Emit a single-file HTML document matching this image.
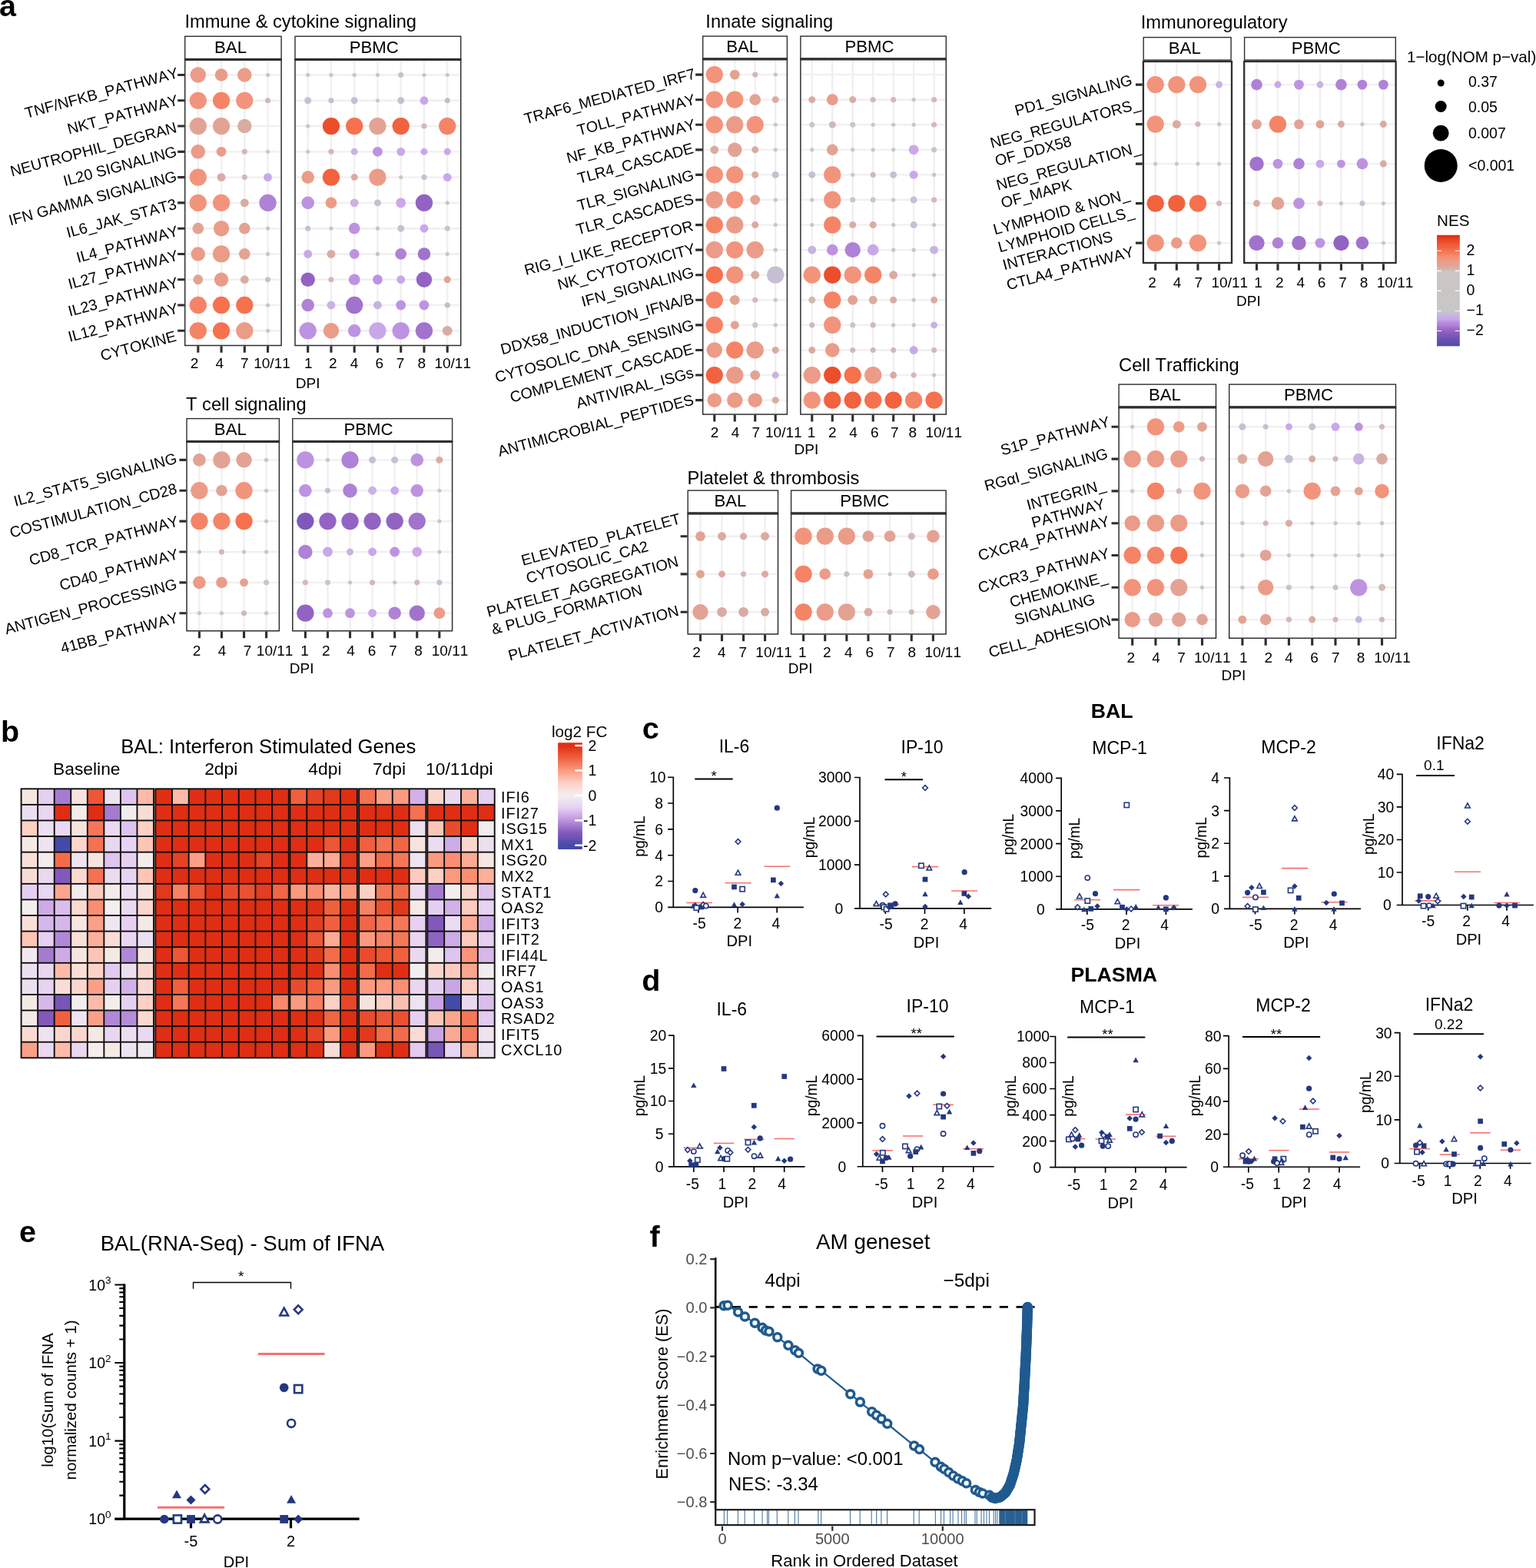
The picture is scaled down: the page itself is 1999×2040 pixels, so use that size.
<!DOCTYPE html>
<html lang="en"><head><meta charset="utf-8"><title>Figure</title>
<style>html,body{margin:0;padding:0;background:#fff}svg{display:block}text{font-family:'Liberation Sans', Arial, Helvetica, sans-serif;font-kerning:none;font-variant-ligatures:none}</style></head><body>
<svg xmlns="http://www.w3.org/2000/svg" width="1999" height="2040" viewBox="0 0 1999 2040">
<defs><linearGradient id="nesg" x1="0" y1="0" x2="0" y2="1"><stop offset="0" stop-color="#dd2e11"/><stop offset="0.02" stop-color="#e13718"/><stop offset="0.03" stop-color="#e54020"/><stop offset="0.05" stop-color="#e94927"/><stop offset="0.07" stop-color="#ed512f"/><stop offset="0.08" stop-color="#f05936"/><stop offset="0.1" stop-color="#f1603d"/><stop offset="0.12" stop-color="#f36744"/><stop offset="0.13" stop-color="#f56d4a"/><stop offset="0.15" stop-color="#f67553"/><stop offset="0.17" stop-color="#f67e5f"/><stop offset="0.18" stop-color="#f5876a"/><stop offset="0.2" stop-color="#f48f74"/><stop offset="0.22" stop-color="#f1957c"/><stop offset="0.23" stop-color="#ee9a85"/><stop offset="0.25" stop-color="#e89f8c"/><stop offset="0.27" stop-color="#e3a393"/><stop offset="0.28" stop-color="#dda89c"/><stop offset="0.3" stop-color="#d6b0a7"/><stop offset="0.32" stop-color="#cebfbb"/><stop offset="0.33" stop-color="#cbc5c3"/><stop offset="0.35" stop-color="#cbc5c3"/><stop offset="0.37" stop-color="#cbc5c4"/><stop offset="0.38" stop-color="#cac6c4"/><stop offset="0.4" stop-color="#cac6c4"/><stop offset="0.42" stop-color="#cac6c5"/><stop offset="0.43" stop-color="#cac6c5"/><stop offset="0.45" stop-color="#cac6c5"/><stop offset="0.47" stop-color="#c9c7c5"/><stop offset="0.48" stop-color="#c9c7c6"/><stop offset="0.5" stop-color="#c9c7c6"/><stop offset="0.52" stop-color="#c9c7c6"/><stop offset="0.53" stop-color="#c9c7c6"/><stop offset="0.55" stop-color="#c9c7c6"/><stop offset="0.57" stop-color="#c9c7c6"/><stop offset="0.58" stop-color="#c9c7c6"/><stop offset="0.6" stop-color="#c8c6c7"/><stop offset="0.62" stop-color="#c8c6c7"/><stop offset="0.63" stop-color="#c8c6c7"/><stop offset="0.65" stop-color="#c8c6c7"/><stop offset="0.67" stop-color="#c8c6c7"/><stop offset="0.68" stop-color="#c8c6c8"/><stop offset="0.7" stop-color="#c7bfd2"/><stop offset="0.72" stop-color="#c8b8db"/><stop offset="0.73" stop-color="#c8b1e2"/><stop offset="0.75" stop-color="#c9aae8"/><stop offset="0.77" stop-color="#c39ee6"/><stop offset="0.78" stop-color="#bc91e0"/><stop offset="0.8" stop-color="#b487da"/><stop offset="0.82" stop-color="#ab7dd4"/><stop offset="0.83" stop-color="#a274cd"/><stop offset="0.85" stop-color="#9a6ac7"/><stop offset="0.87" stop-color="#9162c2"/><stop offset="0.88" stop-color="#885dbe"/><stop offset="0.9" stop-color="#7f59ba"/><stop offset="0.92" stop-color="#7655b6"/><stop offset="0.93" stop-color="#6d50b2"/><stop offset="0.95" stop-color="#6550b0"/><stop offset="0.97" stop-color="#5d4fae"/><stop offset="0.98" stop-color="#554fab"/><stop offset="1" stop-color="#4d4ea9"/></linearGradient><linearGradient id="fcg" x1="0" y1="0" x2="0" y2="1"><stop offset="0" stop-color="#df2e14"/><stop offset="0.02" stop-color="#df2e14"/><stop offset="0.04" stop-color="#e13319"/><stop offset="0.06" stop-color="#e43c20"/><stop offset="0.08" stop-color="#e74527"/><stop offset="0.1" stop-color="#ea4d2e"/><stop offset="0.12" stop-color="#ec5635"/><stop offset="0.14" stop-color="#ef5e3d"/><stop offset="0.16" stop-color="#f26847"/><stop offset="0.18" stop-color="#f47252"/><stop offset="0.2" stop-color="#f67c5e"/><stop offset="0.22" stop-color="#f88669"/><stop offset="0.24" stop-color="#fa9074"/><stop offset="0.26" stop-color="#fc9a7f"/><stop offset="0.28" stop-color="#fca38b"/><stop offset="0.3" stop-color="#fcac97"/><stop offset="0.32" stop-color="#fdb5a2"/><stop offset="0.34" stop-color="#fdbfae"/><stop offset="0.36" stop-color="#fdc8ba"/><stop offset="0.38" stop-color="#fdd1c5"/><stop offset="0.4" stop-color="#fbd6cc"/><stop offset="0.42" stop-color="#f9dbd3"/><stop offset="0.44" stop-color="#f8e1da"/><stop offset="0.46" stop-color="#f6e6e2"/><stop offset="0.48" stop-color="#f4ebe9"/><stop offset="0.5" stop-color="#f2eeee"/><stop offset="0.52" stop-color="#f0e8ef"/><stop offset="0.54" stop-color="#eee3f0"/><stop offset="0.56" stop-color="#ecdef0"/><stop offset="0.58" stop-color="#e9d8f1"/><stop offset="0.6" stop-color="#e7d3f2"/><stop offset="0.62" stop-color="#e3cbf1"/><stop offset="0.64" stop-color="#dcc1ed"/><stop offset="0.66" stop-color="#d5b6ea"/><stop offset="0.68" stop-color="#ceace6"/><stop offset="0.7" stop-color="#c7a1e3"/><stop offset="0.72" stop-color="#c096df"/><stop offset="0.74" stop-color="#b78cda"/><stop offset="0.76" stop-color="#ad83d4"/><stop offset="0.78" stop-color="#a379cf"/><stop offset="0.8" stop-color="#996fc9"/><stop offset="0.82" stop-color="#8f65c3"/><stop offset="0.84" stop-color="#855bbd"/><stop offset="0.86" stop-color="#7a57b8"/><stop offset="0.88" stop-color="#7055b5"/><stop offset="0.9" stop-color="#6552b1"/><stop offset="0.92" stop-color="#5b4fae"/><stop offset="0.94" stop-color="#504daa"/><stop offset="0.96" stop-color="#464aa6"/><stop offset="0.98" stop-color="#454aa6"/><stop offset="1" stop-color="#454aa6"/></linearGradient></defs>
<rect width="1999" height="2040" fill="#fff"/>
<text x="-0.9" y="21.4" font-size="39.5" font-weight="bold">a</text>
<g>
<text x="240.5" y="35.5" font-size="23.7">Immune &amp; cytokine signaling</text>
<rect x="240.7" y="77.8" width="125.4" height="371.7" fill="#fff"/>
<path d="M240.7 97.5H366.1M240.7 130.78H366.1M240.7 164.06H366.1M240.7 197.34H366.1M240.7 230.62H366.1M240.7 263.9H366.1M240.7 297.18H366.1M240.7 330.46H366.1M240.7 363.74H366.1M240.7 397.02H366.1M240.7 430.3H366.1M257.8 77.8V449.5M288.05 77.8V449.5M318.3 77.8V449.5M348.55 77.8V449.5" stroke="#f0f0f0" stroke-width="2.4" fill="none"/>
<circle cx="257.8" cy="97.5" r="10.2" fill="#eb9c88"/>
<circle cx="288.05" cy="97.5" r="8.3" fill="#eb9c88"/>
<circle cx="318.3" cy="97.5" r="9.25" fill="#eb9c88"/>
<circle cx="348.55" cy="97.5" r="2.6" fill="#c9c7c6"/>
<circle cx="257.8" cy="130.78" r="11.15" fill="#f2947b"/>
<circle cx="288.05" cy="130.78" r="11.15" fill="#f58466"/>
<circle cx="318.3" cy="130.78" r="11.15" fill="#f2947b"/>
<circle cx="348.55" cy="130.78" r="3.55" fill="#d0bab5"/>
<circle cx="257.8" cy="164.06" r="11.15" fill="#e3a394"/>
<circle cx="288.05" cy="164.06" r="11.15" fill="#e3a394"/>
<circle cx="318.3" cy="164.06" r="9.25" fill="#d9aca2"/>
<circle cx="257.8" cy="197.34" r="9.25" fill="#eb9c88"/>
<circle cx="288.05" cy="197.34" r="6.4" fill="#eb9c88"/>
<circle cx="318.3" cy="197.34" r="3.55" fill="#d0bab5"/>
<circle cx="348.55" cy="197.34" r="2.6" fill="#c9c7c6"/>
<circle cx="257.8" cy="230.62" r="11.15" fill="#f2947b"/>
<circle cx="288.05" cy="230.62" r="5.45" fill="#d9aca2"/>
<circle cx="318.3" cy="230.62" r="3.55" fill="#d0bab5"/>
<circle cx="348.55" cy="230.62" r="5.45" fill="#c9a8ea"/>
<circle cx="257.8" cy="263.9" r="11.15" fill="#f2947b"/>
<circle cx="288.05" cy="263.9" r="11.15" fill="#f2947b"/>
<circle cx="318.3" cy="263.9" r="5.45" fill="#d9aca2"/>
<circle cx="348.55" cy="263.9" r="11.15" fill="#b082d7"/>
<circle cx="257.8" cy="297.18" r="7.35" fill="#e3a394"/>
<circle cx="288.05" cy="297.18" r="10.2" fill="#eb9c88"/>
<circle cx="318.3" cy="297.18" r="7.35" fill="#e3a394"/>
<circle cx="348.55" cy="297.18" r="2.6" fill="#c9c7c6"/>
<circle cx="257.8" cy="330.46" r="9.25" fill="#eb9c88"/>
<circle cx="288.05" cy="330.46" r="11.15" fill="#eb9c88"/>
<circle cx="318.3" cy="330.46" r="7.35" fill="#e3a394"/>
<circle cx="348.55" cy="330.46" r="2.6" fill="#c9c7c6"/>
<circle cx="257.8" cy="363.74" r="6.4" fill="#e3a394"/>
<circle cx="288.05" cy="363.74" r="9.25" fill="#eb9c88"/>
<circle cx="318.3" cy="363.74" r="5.45" fill="#d9aca2"/>
<circle cx="348.55" cy="363.74" r="3.55" fill="#c7bfd2"/>
<circle cx="257.8" cy="397.02" r="11.15" fill="#f58466"/>
<circle cx="288.05" cy="397.02" r="11.15" fill="#f6714e"/>
<circle cx="318.3" cy="397.02" r="11.15" fill="#f6714e"/>
<circle cx="348.55" cy="397.02" r="2.6" fill="#c9c7c6"/>
<circle cx="257.8" cy="430.3" r="11.15" fill="#f58466"/>
<circle cx="288.05" cy="430.3" r="11.15" fill="#f6714e"/>
<circle cx="318.3" cy="430.3" r="11.15" fill="#eb9c88"/>
<circle cx="348.55" cy="430.3" r="2.6" fill="#c9c7c6"/>
<rect x="240.7" y="77.8" width="125.4" height="371.7" fill="none" stroke="#2e2e2e" stroke-width="1.5"/>
<rect x="240.7" y="47.3" width="125.4" height="29.2" fill="#fff" stroke="#2e2e2e" stroke-width="1.4"/>
<path d="M239.95 77.4H366.85" stroke="#2e2e2e" stroke-width="3"/>
<text x="279.06" y="68.6" font-size="22.2">BAL</text>
<path d="M257.8 450.25v8.6M288.05 450.25v8.6M318.3 450.25v8.6M348.55 450.25v8.6" stroke="#2e2e2e" stroke-width="3.1"/>
<rect x="384" y="77.8" width="215.7" height="371.7" fill="#fff"/>
<path d="M384 97.5H599.7M384 130.78H599.7M384 164.06H599.7M384 197.34H599.7M384 230.62H599.7M384 263.9H599.7M384 297.18H599.7M384 330.46H599.7M384 363.74H599.7M384 397.02H599.7M384 430.3H599.7M400.7 77.8V449.5M430.95 77.8V449.5M461.2 77.8V449.5M491.45 77.8V449.5M521.7 77.8V449.5M551.95 77.8V449.5M582.2 77.8V449.5" stroke="#f0f0f0" stroke-width="2.4" fill="none"/>
<circle cx="400.7" cy="97.5" r="2.6" fill="#c9c7c6"/>
<circle cx="430.95" cy="97.5" r="2.6" fill="#c9c7c6"/>
<circle cx="461.2" cy="97.5" r="2.6" fill="#c9c7c6"/>
<circle cx="491.45" cy="97.5" r="2.6" fill="#c9c7c6"/>
<circle cx="521.7" cy="97.5" r="3.55" fill="#c7bfd2"/>
<circle cx="551.95" cy="97.5" r="2.6" fill="#c9c7c6"/>
<circle cx="582.2" cy="97.5" r="2.6" fill="#c9c7c6"/>
<circle cx="400.7" cy="130.78" r="4.5" fill="#c7bfd2"/>
<circle cx="430.95" cy="130.78" r="3.55" fill="#c7bfd2"/>
<circle cx="461.2" cy="130.78" r="4.5" fill="#c7bfd2"/>
<circle cx="491.45" cy="130.78" r="2.6" fill="#c9c7c6"/>
<circle cx="521.7" cy="130.78" r="4.5" fill="#c7bfd2"/>
<circle cx="551.95" cy="130.78" r="5.45" fill="#c9a8ea"/>
<circle cx="582.2" cy="130.78" r="3.55" fill="#d0bab5"/>
<circle cx="400.7" cy="164.06" r="2.6" fill="#c9c7c6"/>
<circle cx="430.95" cy="164.06" r="11.15" fill="#ec4e2c"/>
<circle cx="461.2" cy="164.06" r="11.15" fill="#f6714e"/>
<circle cx="491.45" cy="164.06" r="11.15" fill="#e3a394"/>
<circle cx="521.7" cy="164.06" r="11.15" fill="#f2623f"/>
<circle cx="551.95" cy="164.06" r="3.55" fill="#d0bab5"/>
<circle cx="582.2" cy="164.06" r="11.15" fill="#f58466"/>
<circle cx="400.7" cy="197.34" r="2.6" fill="#c9c7c6"/>
<circle cx="430.95" cy="197.34" r="3.55" fill="#d0bab5"/>
<circle cx="461.2" cy="197.34" r="4.5" fill="#c8b4e0"/>
<circle cx="491.45" cy="197.34" r="6.4" fill="#bd93e1"/>
<circle cx="521.7" cy="197.34" r="5.45" fill="#c9a8ea"/>
<circle cx="551.95" cy="197.34" r="4.5" fill="#c9a8ea"/>
<circle cx="582.2" cy="197.34" r="4.5" fill="#c9a8ea"/>
<circle cx="400.7" cy="230.62" r="8.3" fill="#eb9c88"/>
<circle cx="430.95" cy="230.62" r="11.15" fill="#f2623f"/>
<circle cx="461.2" cy="230.62" r="4.5" fill="#d9aca2"/>
<circle cx="491.45" cy="230.62" r="11.15" fill="#eb9c88"/>
<circle cx="521.7" cy="230.62" r="2.6" fill="#c9c7c6"/>
<circle cx="551.95" cy="230.62" r="3.55" fill="#c7bfd2"/>
<circle cx="582.2" cy="230.62" r="5.45" fill="#c9a8ea"/>
<circle cx="400.7" cy="263.9" r="8.3" fill="#bd93e1"/>
<circle cx="430.95" cy="263.9" r="7.35" fill="#eb9c88"/>
<circle cx="461.2" cy="263.9" r="5.45" fill="#c8b4e0"/>
<circle cx="491.45" cy="263.9" r="4.5" fill="#c7bfd2"/>
<circle cx="521.7" cy="263.9" r="6.4" fill="#c9a8ea"/>
<circle cx="551.95" cy="263.9" r="11.15" fill="#9363c3"/>
<circle cx="582.2" cy="263.9" r="2.6" fill="#c9c7c6"/>
<circle cx="400.7" cy="297.18" r="3.55" fill="#c7bfd2"/>
<circle cx="430.95" cy="297.18" r="2.6" fill="#c9c7c6"/>
<circle cx="461.2" cy="297.18" r="7.35" fill="#bd93e1"/>
<circle cx="491.45" cy="297.18" r="2.6" fill="#c9c7c6"/>
<circle cx="521.7" cy="297.18" r="4.5" fill="#c7bfd2"/>
<circle cx="551.95" cy="297.18" r="5.45" fill="#c9a8ea"/>
<circle cx="582.2" cy="297.18" r="3.55" fill="#c9c7c6"/>
<circle cx="400.7" cy="330.46" r="5.45" fill="#c9a8ea"/>
<circle cx="430.95" cy="330.46" r="5.45" fill="#d9aca2"/>
<circle cx="461.2" cy="330.46" r="6.4" fill="#bd93e1"/>
<circle cx="491.45" cy="330.46" r="2.6" fill="#c9c7c6"/>
<circle cx="521.7" cy="330.46" r="7.35" fill="#b082d7"/>
<circle cx="551.95" cy="330.46" r="8.3" fill="#a173cd"/>
<circle cx="582.2" cy="330.46" r="2.6" fill="#c9c7c6"/>
<circle cx="400.7" cy="363.74" r="9.25" fill="#9363c3"/>
<circle cx="430.95" cy="363.74" r="3.55" fill="#d0bab5"/>
<circle cx="461.2" cy="363.74" r="7.35" fill="#bd93e1"/>
<circle cx="491.45" cy="363.74" r="6.4" fill="#bd93e1"/>
<circle cx="521.7" cy="363.74" r="5.45" fill="#c9a8ea"/>
<circle cx="551.95" cy="363.74" r="10.2" fill="#9363c3"/>
<circle cx="582.2" cy="363.74" r="4.5" fill="#e3a394"/>
<circle cx="400.7" cy="397.02" r="8.3" fill="#b082d7"/>
<circle cx="430.95" cy="397.02" r="5.45" fill="#c8b4e0"/>
<circle cx="461.2" cy="397.02" r="11.15" fill="#a173cd"/>
<circle cx="491.45" cy="397.02" r="5.45" fill="#c8b4e0"/>
<circle cx="521.7" cy="397.02" r="6.4" fill="#bd93e1"/>
<circle cx="551.95" cy="397.02" r="6.4" fill="#bd93e1"/>
<circle cx="582.2" cy="397.02" r="3.55" fill="#d0bab5"/>
<circle cx="400.7" cy="430.3" r="11.15" fill="#bd93e1"/>
<circle cx="430.95" cy="430.3" r="10.2" fill="#eb9c88"/>
<circle cx="461.2" cy="430.3" r="8.3" fill="#bd93e1"/>
<circle cx="491.45" cy="430.3" r="11.15" fill="#c9a8ea"/>
<circle cx="521.7" cy="430.3" r="11.15" fill="#bd93e1"/>
<circle cx="551.95" cy="430.3" r="11.15" fill="#a173cd"/>
<circle cx="582.2" cy="430.3" r="6.4" fill="#d9aca2"/>
<rect x="384" y="77.8" width="215.7" height="371.7" fill="none" stroke="#2e2e2e" stroke-width="1.5"/>
<rect x="384" y="47.3" width="215.7" height="29.2" fill="#fff" stroke="#2e2e2e" stroke-width="1.4"/>
<path d="M383.25 77.4H600.45" stroke="#2e2e2e" stroke-width="3"/>
<text x="454.65" y="68.6" font-size="22.2">PBMC</text>
<path d="M400.7 450.25v8.6M430.95 450.25v8.6M461.2 450.25v8.6M491.45 450.25v8.6M521.7 450.25v8.6M551.95 450.25v8.6M582.2 450.25v8.6" stroke="#2e2e2e" stroke-width="3.1"/>
<text x="253.1" y="479" font-size="19" text-anchor="middle">2</text>
<text x="285.7" y="479" font-size="19" text-anchor="middle">4</text>
<text x="318.2" y="479" font-size="19" text-anchor="middle">7</text>
<text x="354" y="479" font-size="19" text-anchor="middle">10/11</text>
<text x="401.2" y="479" font-size="19" text-anchor="middle">1</text>
<text x="433.4" y="479" font-size="19" text-anchor="middle">2</text>
<text x="461.1" y="479" font-size="19" text-anchor="middle">4</text>
<text x="493.7" y="479" font-size="19" text-anchor="middle">6</text>
<text x="521" y="479" font-size="19" text-anchor="middle">7</text>
<text x="548.9" y="479" font-size="19" text-anchor="middle">8</text>
<text x="589.2" y="479" font-size="19" text-anchor="middle">10/11</text>
<text x="400.7" y="505.2" font-size="19" text-anchor="middle">DPI</text>
<path d="M239.95 97.5h-8.8M239.95 130.78h-8.8M239.95 164.06h-8.8M239.95 197.34h-8.8M239.95 230.62h-8.8M239.95 263.9h-8.8M239.95 297.18h-8.8M239.95 330.46h-8.8M239.95 363.74h-8.8M239.95 397.02h-8.8M239.95 430.3h-8.8" stroke="#2e2e2e" stroke-width="3.1"/>
<text transform="translate(231.25,93.9) rotate(-15)" font-size="19.8" text-anchor="end" y="7.09">TNF/NFKB_PATHWAY</text>
<text transform="translate(231.25,129.58) rotate(-15)" font-size="19.8" text-anchor="end" y="7.09">NKT_PATHWAY</text>
<text transform="translate(229.25,165.06) rotate(-15)" font-size="19.8" text-anchor="end" y="7.09">NEUTROPHIL_DEGRAN</text>
<text transform="translate(229.35,196.04) rotate(-15)" font-size="19.8" text-anchor="end" y="7.09">IL20 SIGNALING</text>
<text transform="translate(229.35,228.32) rotate(-15)" font-size="19.8" text-anchor="end" y="7.09">IFN GAMMA SIGNALING</text>
<text transform="translate(228.95,264.5) rotate(-15)" font-size="19.8" text-anchor="end" y="7.09">IL6_JAK_STAT3</text>
<text transform="translate(231.25,299.78) rotate(-15)" font-size="19.8" text-anchor="end" y="7.09">IL4_PATHWAY</text>
<text transform="translate(231.25,331.46) rotate(-15)" font-size="19.8" text-anchor="end" y="7.09">IL27_PATHWAY</text>
<text transform="translate(231.25,366.84) rotate(-15)" font-size="19.8" text-anchor="end" y="7.09">IL23_PATHWAY</text>
<text transform="translate(231.25,400.12) rotate(-15)" font-size="19.8" text-anchor="end" y="7.09">IL12_PATHWAY</text>
<text transform="translate(228.65,436.5) rotate(-15)" font-size="19.8" text-anchor="end" y="7.09">CYTOKINE</text>
</g>
<g>
<text x="242" y="533.7" font-size="23.7">T cell signaling</text>
<rect x="243" y="574.9" width="120.4" height="245.9" fill="#fff"/>
<path d="M243 598.4H363.4M243 638.26H363.4M243 678.12H363.4M243 717.98H363.4M243 757.84H363.4M243 797.7H363.4M259.4 574.9V820.8M288.47 574.9V820.8M317.54 574.9V820.8M346.61 574.9V820.8" stroke="#f0f0f0" stroke-width="2.4" fill="none"/>
<circle cx="259.4" cy="598.4" r="8.3" fill="#e3a394"/>
<circle cx="288.47" cy="598.4" r="11.15" fill="#e3a394"/>
<circle cx="317.54" cy="598.4" r="10.2" fill="#e3a394"/>
<circle cx="346.61" cy="598.4" r="2.6" fill="#c9c7c6"/>
<circle cx="259.4" cy="638.26" r="11.15" fill="#eb9c88"/>
<circle cx="288.47" cy="638.26" r="7.35" fill="#e3a394"/>
<circle cx="317.54" cy="638.26" r="11.15" fill="#f2947b"/>
<circle cx="346.61" cy="638.26" r="2.6" fill="#c9c7c6"/>
<circle cx="259.4" cy="678.12" r="11.15" fill="#f58466"/>
<circle cx="288.47" cy="678.12" r="11.15" fill="#f58466"/>
<circle cx="317.54" cy="678.12" r="11.15" fill="#f6714e"/>
<circle cx="346.61" cy="678.12" r="2.6" fill="#c9c7c6"/>
<circle cx="259.4" cy="717.98" r="2.6" fill="#c9c7c6"/>
<circle cx="288.47" cy="717.98" r="3.55" fill="#d0bab5"/>
<circle cx="317.54" cy="717.98" r="2.6" fill="#c9c7c6"/>
<circle cx="346.61" cy="717.98" r="2.6" fill="#c9c7c6"/>
<circle cx="259.4" cy="757.84" r="8.3" fill="#eb9c88"/>
<circle cx="288.47" cy="757.84" r="7.35" fill="#eb9c88"/>
<circle cx="317.54" cy="757.84" r="5.45" fill="#e3a394"/>
<circle cx="346.61" cy="757.84" r="3.55" fill="#c9c7c6"/>
<circle cx="259.4" cy="797.7" r="2.6" fill="#c9c7c6"/>
<circle cx="288.47" cy="797.7" r="2.6" fill="#c9c7c6"/>
<circle cx="317.54" cy="797.7" r="3.55" fill="#d0bab5"/>
<circle cx="346.61" cy="797.7" r="2.6" fill="#c9c7c6"/>
<rect x="243" y="574.9" width="120.4" height="245.9" fill="none" stroke="#2e2e2e" stroke-width="1.5"/>
<rect x="243" y="544.6" width="120.4" height="29" fill="#fff" stroke="#2e2e2e" stroke-width="1.4"/>
<path d="M242.25 574.5H364.15" stroke="#2e2e2e" stroke-width="3"/>
<text x="278.86" y="565.7" font-size="22.2">BAL</text>
<path d="M259.4 821.55v8.6M288.47 821.55v8.6M317.54 821.55v8.6M346.61 821.55v8.6" stroke="#2e2e2e" stroke-width="3.1"/>
<rect x="380.8" y="574.9" width="207.8" height="245.9" fill="#fff"/>
<path d="M380.8 598.4H588.6M380.8 638.26H588.6M380.8 678.12H588.6M380.8 717.98H588.6M380.8 757.84H588.6M380.8 797.7H588.6M397.4 574.9V820.8M426.47 574.9V820.8M455.54 574.9V820.8M484.61 574.9V820.8M513.68 574.9V820.8M542.75 574.9V820.8M571.82 574.9V820.8" stroke="#f0f0f0" stroke-width="2.4" fill="none"/>
<circle cx="397.4" cy="598.4" r="11.15" fill="#bd93e1"/>
<circle cx="426.47" cy="598.4" r="2.6" fill="#c9c7c6"/>
<circle cx="455.54" cy="598.4" r="11.15" fill="#b082d7"/>
<circle cx="484.61" cy="598.4" r="4.5" fill="#c7bfd2"/>
<circle cx="513.68" cy="598.4" r="4.5" fill="#c7bfd2"/>
<circle cx="542.75" cy="598.4" r="8.3" fill="#bd93e1"/>
<circle cx="571.82" cy="598.4" r="4.5" fill="#d9aca2"/>
<circle cx="397.4" cy="638.26" r="8.3" fill="#bd93e1"/>
<circle cx="426.47" cy="638.26" r="3.55" fill="#c7bfd2"/>
<circle cx="455.54" cy="638.26" r="9.25" fill="#b082d7"/>
<circle cx="484.61" cy="638.26" r="5.45" fill="#c8b4e0"/>
<circle cx="513.68" cy="638.26" r="5.45" fill="#c9a8ea"/>
<circle cx="542.75" cy="638.26" r="8.3" fill="#bd93e1"/>
<circle cx="571.82" cy="638.26" r="2.6" fill="#c9c7c6"/>
<circle cx="397.4" cy="678.12" r="11.15" fill="#7f59ba"/>
<circle cx="426.47" cy="678.12" r="11.15" fill="#9363c3"/>
<circle cx="455.54" cy="678.12" r="11.15" fill="#9363c3"/>
<circle cx="484.61" cy="678.12" r="11.15" fill="#9363c3"/>
<circle cx="513.68" cy="678.12" r="11.15" fill="#9363c3"/>
<circle cx="542.75" cy="678.12" r="11.15" fill="#a173cd"/>
<circle cx="571.82" cy="678.12" r="2.6" fill="#c9c7c6"/>
<circle cx="397.4" cy="717.98" r="9.25" fill="#b082d7"/>
<circle cx="426.47" cy="717.98" r="6.4" fill="#c9a8ea"/>
<circle cx="455.54" cy="717.98" r="4.5" fill="#c8b4e0"/>
<circle cx="484.61" cy="717.98" r="5.45" fill="#c9a8ea"/>
<circle cx="513.68" cy="717.98" r="6.4" fill="#bd93e1"/>
<circle cx="542.75" cy="717.98" r="6.4" fill="#c9a8ea"/>
<circle cx="571.82" cy="717.98" r="2.6" fill="#c9c7c6"/>
<circle cx="397.4" cy="757.84" r="3.55" fill="#d0bab5"/>
<circle cx="426.47" cy="757.84" r="3.55" fill="#c9c7c6"/>
<circle cx="455.54" cy="757.84" r="2.6" fill="#c9c7c6"/>
<circle cx="484.61" cy="757.84" r="3.55" fill="#d0bab5"/>
<circle cx="513.68" cy="757.84" r="2.6" fill="#c9c7c6"/>
<circle cx="542.75" cy="757.84" r="3.55" fill="#d0bab5"/>
<circle cx="571.82" cy="757.84" r="3.55" fill="#c7bfd2"/>
<circle cx="397.4" cy="797.7" r="11.15" fill="#9363c3"/>
<circle cx="426.47" cy="797.7" r="6.4" fill="#bd93e1"/>
<circle cx="455.54" cy="797.7" r="6.4" fill="#bd93e1"/>
<circle cx="484.61" cy="797.7" r="5.45" fill="#c9a8ea"/>
<circle cx="513.68" cy="797.7" r="8.3" fill="#b082d7"/>
<circle cx="542.75" cy="797.7" r="10.2" fill="#a173cd"/>
<circle cx="571.82" cy="797.7" r="7.35" fill="#eb9c88"/>
<rect x="380.8" y="574.9" width="207.8" height="245.9" fill="none" stroke="#2e2e2e" stroke-width="1.5"/>
<rect x="380.8" y="544.6" width="207.8" height="29" fill="#fff" stroke="#2e2e2e" stroke-width="1.4"/>
<path d="M380.05 574.5H589.35" stroke="#2e2e2e" stroke-width="3"/>
<text x="447.5" y="565.7" font-size="22.2">PBMC</text>
<path d="M397.4 821.55v8.6M426.47 821.55v8.6M455.54 821.55v8.6M484.61 821.55v8.6M513.68 821.55v8.6M542.75 821.55v8.6M571.82 821.55v8.6" stroke="#2e2e2e" stroke-width="3.1"/>
<text x="256.1" y="853" font-size="19" text-anchor="middle">2</text>
<text x="289.1" y="853" font-size="19" text-anchor="middle">4</text>
<text x="322" y="853" font-size="19" text-anchor="middle">7</text>
<text x="357.6" y="853" font-size="19" text-anchor="middle">10/11</text>
<text x="396.6" y="853" font-size="19" text-anchor="middle">1</text>
<text x="424.2" y="853" font-size="19" text-anchor="middle">2</text>
<text x="456.5" y="853" font-size="19" text-anchor="middle">4</text>
<text x="484" y="853" font-size="19" text-anchor="middle">6</text>
<text x="511.6" y="853" font-size="19" text-anchor="middle">7</text>
<text x="544.5" y="853" font-size="19" text-anchor="middle">8</text>
<text x="585.5" y="853" font-size="19" text-anchor="middle">10/11</text>
<text x="392.6" y="876" font-size="19" text-anchor="middle">DPI</text>
<path d="M242.25 598.4h-8.8M242.25 638.26h-8.8M242.25 678.12h-8.8M242.25 717.98h-8.8M242.25 757.84h-8.8M242.25 797.7h-8.8" stroke="#2e2e2e" stroke-width="3.1"/>
<text transform="translate(229.45,595.5) rotate(-15)" font-size="19.8" text-anchor="end" y="7.09">IL2_STAT5_SIGNALING</text>
<text transform="translate(229.45,634.86) rotate(-15)" font-size="19.8" text-anchor="end" y="7.09">COSTIMULATION_CD28</text>
<text transform="translate(231.5,677.12) rotate(-15)" font-size="19.8" text-anchor="end" y="7.09">CD8_TCR_PATHWAY</text>
<text transform="translate(231.5,720.08) rotate(-15)" font-size="19.8" text-anchor="end" y="7.09">CD40_PATHWAY</text>
<text transform="translate(229.45,758.94) rotate(-15)" font-size="19.8" text-anchor="end" y="7.09">ANTIGEN_PROCESSING</text>
<text transform="translate(231.05,802.8) rotate(-15)" font-size="19.8" text-anchor="end" y="7.09">41BB_PATHWAY</text>
</g>
<g>
<text x="918.3" y="36.3" font-size="23.7">Innate signaling</text>
<rect x="914.7" y="77.3" width="109.7" height="461.8" fill="#fff"/>
<path d="M914.7 97.1H1024.4M914.7 129.68H1024.4M914.7 162.26H1024.4M914.7 194.84H1024.4M914.7 227.42H1024.4M914.7 260H1024.4M914.7 292.58H1024.4M914.7 325.16H1024.4M914.7 357.74H1024.4M914.7 390.32H1024.4M914.7 422.9H1024.4M914.7 455.48H1024.4M914.7 488.06H1024.4M914.7 520.64H1024.4M929.8 77.3V539.1M956.27 77.3V539.1M982.74 77.3V539.1M1009.21 77.3V539.1" stroke="#f0f0f0" stroke-width="2.4" fill="none"/>
<circle cx="929.8" cy="97.1" r="11.15" fill="#f2947b"/>
<circle cx="956.27" cy="97.1" r="6.4" fill="#e3a394"/>
<circle cx="982.74" cy="97.1" r="3.55" fill="#d0bab5"/>
<circle cx="1009.21" cy="97.1" r="2.6" fill="#c9c7c6"/>
<circle cx="929.8" cy="129.68" r="11.15" fill="#f2947b"/>
<circle cx="956.27" cy="129.68" r="11.15" fill="#f2947b"/>
<circle cx="982.74" cy="129.68" r="7.35" fill="#e3a394"/>
<circle cx="1009.21" cy="129.68" r="4.5" fill="#d9aca2"/>
<circle cx="929.8" cy="162.26" r="11.15" fill="#f2947b"/>
<circle cx="956.27" cy="162.26" r="11.15" fill="#eb9c88"/>
<circle cx="982.74" cy="162.26" r="11.15" fill="#f2947b"/>
<circle cx="1009.21" cy="162.26" r="2.6" fill="#c9c7c6"/>
<circle cx="929.8" cy="194.84" r="5.45" fill="#d9aca2"/>
<circle cx="956.27" cy="194.84" r="9.25" fill="#e3a394"/>
<circle cx="982.74" cy="194.84" r="4.5" fill="#d9aca2"/>
<circle cx="1009.21" cy="194.84" r="2.6" fill="#c9c7c6"/>
<circle cx="929.8" cy="227.42" r="11.15" fill="#f2947b"/>
<circle cx="956.27" cy="227.42" r="11.15" fill="#f2947b"/>
<circle cx="982.74" cy="227.42" r="4.5" fill="#d9aca2"/>
<circle cx="1009.21" cy="227.42" r="4.5" fill="#c7bfd2"/>
<circle cx="929.8" cy="260" r="11.15" fill="#eb9c88"/>
<circle cx="956.27" cy="260" r="11.15" fill="#f2947b"/>
<circle cx="982.74" cy="260" r="6.4" fill="#e3a394"/>
<circle cx="1009.21" cy="260" r="2.6" fill="#c9c7c6"/>
<circle cx="929.8" cy="292.58" r="11.15" fill="#f58466"/>
<circle cx="956.27" cy="292.58" r="11.15" fill="#eb9c88"/>
<circle cx="982.74" cy="292.58" r="4.5" fill="#d9aca2"/>
<circle cx="1009.21" cy="292.58" r="2.6" fill="#c9c7c6"/>
<circle cx="929.8" cy="325.16" r="11.15" fill="#eb9c88"/>
<circle cx="956.27" cy="325.16" r="11.15" fill="#f2947b"/>
<circle cx="982.74" cy="325.16" r="11.15" fill="#eb9c88"/>
<circle cx="1009.21" cy="325.16" r="2.6" fill="#c9c7c6"/>
<circle cx="929.8" cy="357.74" r="11.15" fill="#f6714e"/>
<circle cx="956.27" cy="357.74" r="11.15" fill="#f2947b"/>
<circle cx="982.74" cy="357.74" r="5.45" fill="#d9aca2"/>
<circle cx="1009.21" cy="357.74" r="11.15" fill="#c7bfd2"/>
<circle cx="929.8" cy="390.32" r="11.15" fill="#f58466"/>
<circle cx="956.27" cy="390.32" r="6.4" fill="#e3a394"/>
<circle cx="982.74" cy="390.32" r="3.55" fill="#d0bab5"/>
<circle cx="1009.21" cy="390.32" r="2.6" fill="#c9c7c6"/>
<circle cx="929.8" cy="422.9" r="11.15" fill="#f58466"/>
<circle cx="956.27" cy="422.9" r="5.45" fill="#e3a394"/>
<circle cx="982.74" cy="422.9" r="3.55" fill="#c9c7c6"/>
<circle cx="1009.21" cy="422.9" r="2.6" fill="#c9c7c6"/>
<circle cx="929.8" cy="455.48" r="10.2" fill="#eb9c88"/>
<circle cx="956.27" cy="455.48" r="11.15" fill="#f58466"/>
<circle cx="982.74" cy="455.48" r="11.15" fill="#eb9c88"/>
<circle cx="1009.21" cy="455.48" r="4.5" fill="#d9aca2"/>
<circle cx="929.8" cy="488.06" r="11.15" fill="#f2623f"/>
<circle cx="956.27" cy="488.06" r="11.15" fill="#eb9c88"/>
<circle cx="982.74" cy="488.06" r="6.4" fill="#e3a394"/>
<circle cx="1009.21" cy="488.06" r="4.5" fill="#c8b4e0"/>
<circle cx="929.8" cy="520.64" r="9.25" fill="#eb9c88"/>
<circle cx="956.27" cy="520.64" r="10.2" fill="#eb9c88"/>
<circle cx="982.74" cy="520.64" r="9.25" fill="#eb9c88"/>
<circle cx="1009.21" cy="520.64" r="4.5" fill="#d9aca2"/>
<rect x="914.7" y="77.3" width="109.7" height="461.8" fill="none" stroke="#2e2e2e" stroke-width="1.5"/>
<rect x="914.7" y="47.1" width="109.7" height="28.9" fill="#fff" stroke="#2e2e2e" stroke-width="1.4"/>
<path d="M913.95 76.9H1025.15" stroke="#2e2e2e" stroke-width="3"/>
<text x="945.21" y="68.1" font-size="22.2">BAL</text>
<path d="M929.8 539.85v8.6M956.27 539.85v8.6M982.74 539.85v8.6M1009.21 539.85v8.6" stroke="#2e2e2e" stroke-width="3.1"/>
<rect x="1041.9" y="77.3" width="189.4" height="461.8" fill="#fff"/>
<path d="M1041.9 97.1H1231.3M1041.9 129.68H1231.3M1041.9 162.26H1231.3M1041.9 194.84H1231.3M1041.9 227.42H1231.3M1041.9 260H1231.3M1041.9 292.58H1231.3M1041.9 325.16H1231.3M1041.9 357.74H1231.3M1041.9 390.32H1231.3M1041.9 422.9H1231.3M1041.9 455.48H1231.3M1041.9 488.06H1231.3M1041.9 520.64H1231.3M1056.8 77.3V539.1M1083.27 77.3V539.1M1109.74 77.3V539.1M1136.21 77.3V539.1M1162.68 77.3V539.1M1189.15 77.3V539.1M1215.62 77.3V539.1" stroke="#f0f0f0" stroke-width="2.4" fill="none"/>
<circle cx="1056.8" cy="129.68" r="4.5" fill="#d9aca2"/>
<circle cx="1083.27" cy="129.68" r="7.35" fill="#eb9c88"/>
<circle cx="1109.74" cy="129.68" r="4.5" fill="#d9aca2"/>
<circle cx="1136.21" cy="129.68" r="3.55" fill="#d0bab5"/>
<circle cx="1162.68" cy="129.68" r="3.55" fill="#d0bab5"/>
<circle cx="1189.15" cy="129.68" r="2.6" fill="#c9c7c6"/>
<circle cx="1215.62" cy="129.68" r="3.55" fill="#d0bab5"/>
<circle cx="1056.8" cy="162.26" r="3.55" fill="#c9c7c6"/>
<circle cx="1083.27" cy="162.26" r="4.5" fill="#d0bab5"/>
<circle cx="1109.74" cy="162.26" r="3.55" fill="#c9c7c6"/>
<circle cx="1136.21" cy="162.26" r="2.6" fill="#c9c7c6"/>
<circle cx="1162.68" cy="162.26" r="2.6" fill="#c9c7c6"/>
<circle cx="1189.15" cy="162.26" r="2.6" fill="#c9c7c6"/>
<circle cx="1215.62" cy="162.26" r="3.55" fill="#d0bab5"/>
<circle cx="1056.8" cy="194.84" r="2.6" fill="#c9c7c6"/>
<circle cx="1083.27" cy="194.84" r="7.35" fill="#e3a394"/>
<circle cx="1109.74" cy="194.84" r="2.6" fill="#c9c7c6"/>
<circle cx="1136.21" cy="194.84" r="2.6" fill="#c9c7c6"/>
<circle cx="1162.68" cy="194.84" r="2.6" fill="#c9c7c6"/>
<circle cx="1189.15" cy="194.84" r="6.4" fill="#c9a8ea"/>
<circle cx="1215.62" cy="194.84" r="3.55" fill="#c9c7c6"/>
<circle cx="1056.8" cy="227.42" r="4.5" fill="#c7bfd2"/>
<circle cx="1083.27" cy="227.42" r="11.15" fill="#f2947b"/>
<circle cx="1109.74" cy="227.42" r="2.6" fill="#c9c7c6"/>
<circle cx="1136.21" cy="227.42" r="3.55" fill="#d0bab5"/>
<circle cx="1162.68" cy="227.42" r="4.5" fill="#c7bfd2"/>
<circle cx="1189.15" cy="227.42" r="5.45" fill="#c9a8ea"/>
<circle cx="1215.62" cy="227.42" r="2.6" fill="#c9c7c6"/>
<circle cx="1056.8" cy="260" r="2.6" fill="#c9c7c6"/>
<circle cx="1083.27" cy="260" r="11.15" fill="#f2947b"/>
<circle cx="1109.74" cy="260" r="3.55" fill="#c9c7c6"/>
<circle cx="1136.21" cy="260" r="3.55" fill="#c9c7c6"/>
<circle cx="1162.68" cy="260" r="2.6" fill="#c9c7c6"/>
<circle cx="1189.15" cy="260" r="4.5" fill="#c7bfd2"/>
<circle cx="1215.62" cy="260" r="3.55" fill="#d0bab5"/>
<circle cx="1056.8" cy="292.58" r="2.6" fill="#c9c7c6"/>
<circle cx="1083.27" cy="292.58" r="11.15" fill="#f58466"/>
<circle cx="1109.74" cy="292.58" r="4.5" fill="#d9aca2"/>
<circle cx="1136.21" cy="292.58" r="4.5" fill="#d9aca2"/>
<circle cx="1162.68" cy="292.58" r="2.6" fill="#c9c7c6"/>
<circle cx="1189.15" cy="292.58" r="4.5" fill="#c7bfd2"/>
<circle cx="1215.62" cy="292.58" r="2.6" fill="#c9c7c6"/>
<circle cx="1056.8" cy="325.16" r="5.45" fill="#c8b4e0"/>
<circle cx="1083.27" cy="325.16" r="7.35" fill="#bd93e1"/>
<circle cx="1109.74" cy="325.16" r="10.2" fill="#b082d7"/>
<circle cx="1136.21" cy="325.16" r="7.35" fill="#c9a8ea"/>
<circle cx="1162.68" cy="325.16" r="2.6" fill="#c9c7c6"/>
<circle cx="1189.15" cy="325.16" r="2.6" fill="#c9c7c6"/>
<circle cx="1215.62" cy="325.16" r="5.45" fill="#c8b4e0"/>
<circle cx="1056.8" cy="357.74" r="11.15" fill="#f2947b"/>
<circle cx="1083.27" cy="357.74" r="11.15" fill="#ec4e2c"/>
<circle cx="1109.74" cy="357.74" r="11.15" fill="#f2947b"/>
<circle cx="1136.21" cy="357.74" r="11.15" fill="#f58466"/>
<circle cx="1162.68" cy="357.74" r="5.45" fill="#d9aca2"/>
<circle cx="1189.15" cy="357.74" r="2.6" fill="#c9c7c6"/>
<circle cx="1215.62" cy="357.74" r="2.6" fill="#c9c7c6"/>
<circle cx="1056.8" cy="390.32" r="4.5" fill="#d0bab5"/>
<circle cx="1083.27" cy="390.32" r="11.15" fill="#f58466"/>
<circle cx="1109.74" cy="390.32" r="6.4" fill="#e3a394"/>
<circle cx="1136.21" cy="390.32" r="5.45" fill="#d9aca2"/>
<circle cx="1162.68" cy="390.32" r="4.5" fill="#d9aca2"/>
<circle cx="1189.15" cy="390.32" r="2.6" fill="#c9c7c6"/>
<circle cx="1215.62" cy="390.32" r="4.5" fill="#d9aca2"/>
<circle cx="1056.8" cy="422.9" r="3.55" fill="#d0bab5"/>
<circle cx="1083.27" cy="422.9" r="11.15" fill="#f2947b"/>
<circle cx="1109.74" cy="422.9" r="3.55" fill="#c9c7c6"/>
<circle cx="1136.21" cy="422.9" r="3.55" fill="#d0bab5"/>
<circle cx="1162.68" cy="422.9" r="2.6" fill="#c9c7c6"/>
<circle cx="1189.15" cy="422.9" r="2.6" fill="#c9c7c6"/>
<circle cx="1215.62" cy="422.9" r="4.5" fill="#c8b4e0"/>
<circle cx="1056.8" cy="455.48" r="4.5" fill="#d9aca2"/>
<circle cx="1083.27" cy="455.48" r="9.25" fill="#eb9c88"/>
<circle cx="1109.74" cy="455.48" r="3.55" fill="#d0bab5"/>
<circle cx="1136.21" cy="455.48" r="3.55" fill="#d0bab5"/>
<circle cx="1162.68" cy="455.48" r="3.55" fill="#d0bab5"/>
<circle cx="1189.15" cy="455.48" r="5.45" fill="#c9a8ea"/>
<circle cx="1215.62" cy="455.48" r="3.55" fill="#d0bab5"/>
<circle cx="1056.8" cy="488.06" r="11.15" fill="#eb9c88"/>
<circle cx="1083.27" cy="488.06" r="11.15" fill="#ec4e2c"/>
<circle cx="1109.74" cy="488.06" r="11.15" fill="#f6714e"/>
<circle cx="1136.21" cy="488.06" r="11.15" fill="#eb9c88"/>
<circle cx="1162.68" cy="488.06" r="4.5" fill="#d9aca2"/>
<circle cx="1189.15" cy="488.06" r="3.55" fill="#d0bab5"/>
<circle cx="1215.62" cy="488.06" r="2.6" fill="#c9c7c6"/>
<circle cx="1056.8" cy="520.64" r="11.15" fill="#f2947b"/>
<circle cx="1083.27" cy="520.64" r="11.15" fill="#f2623f"/>
<circle cx="1109.74" cy="520.64" r="11.15" fill="#f2623f"/>
<circle cx="1136.21" cy="520.64" r="11.15" fill="#f6714e"/>
<circle cx="1162.68" cy="520.64" r="11.15" fill="#f2623f"/>
<circle cx="1189.15" cy="520.64" r="11.15" fill="#f58466"/>
<circle cx="1215.62" cy="520.64" r="11.15" fill="#f6714e"/>
<rect x="1041.9" y="77.3" width="189.4" height="461.8" fill="none" stroke="#2e2e2e" stroke-width="1.5"/>
<rect x="1041.9" y="47.1" width="189.4" height="28.9" fill="#fff" stroke="#2e2e2e" stroke-width="1.4"/>
<path d="M1041.15 76.9H1232.05" stroke="#2e2e2e" stroke-width="3"/>
<text x="1099.4" y="68.1" font-size="22.2">PBMC</text>
<path d="M1056.8 539.85v8.6M1083.27 539.85v8.6M1109.74 539.85v8.6M1136.21 539.85v8.6M1162.68 539.85v8.6M1189.15 539.85v8.6M1215.62 539.85v8.6" stroke="#2e2e2e" stroke-width="3.1"/>
<text x="930.1" y="568.7" font-size="19" text-anchor="middle">2</text>
<text x="957" y="568.7" font-size="19" text-anchor="middle">4</text>
<text x="983.9" y="568.7" font-size="19" text-anchor="middle">7</text>
<text x="1019.8" y="568.7" font-size="19" text-anchor="middle">10/11</text>
<text x="1056.1" y="568.7" font-size="19" text-anchor="middle">1</text>
<text x="1083.4" y="568.7" font-size="19" text-anchor="middle">2</text>
<text x="1110.6" y="568.7" font-size="19" text-anchor="middle">4</text>
<text x="1138.2" y="568.7" font-size="19" text-anchor="middle">6</text>
<text x="1164.4" y="568.7" font-size="19" text-anchor="middle">7</text>
<text x="1187.9" y="568.7" font-size="19" text-anchor="middle">8</text>
<text x="1228.2" y="568.7" font-size="19" text-anchor="middle">10/11</text>
<text x="1049.4" y="590.6" font-size="19" text-anchor="middle">DPI</text>
<path d="M913.95 97.1h-8.8M913.95 129.68h-8.8M913.95 162.26h-8.8M913.95 194.84h-8.8M913.95 227.42h-8.8M913.95 260h-8.8M913.95 292.58h-8.8M913.95 325.16h-8.8M913.95 357.74h-8.8M913.95 390.32h-8.8M913.95 422.9h-8.8M913.95 455.48h-8.8M913.95 488.06h-8.8M913.95 520.64h-8.8" stroke="#2e2e2e" stroke-width="3.1"/>
<text transform="translate(904.25,95.1) rotate(-15)" font-size="19.8" text-anchor="end" y="7.09">TRAF6_MEDIATED_IRF7</text>
<text transform="translate(904.25,128.48) rotate(-15)" font-size="19.8" text-anchor="end" y="7.09">TOLL_PATHWAY</text>
<text transform="translate(904.25,160.96) rotate(-15)" font-size="19.8" text-anchor="end" y="7.09">NF_KB_PATHWAY</text>
<text transform="translate(901.65,192.04) rotate(-15)" font-size="19.8" text-anchor="end" y="7.09">TLR4_CASCADE</text>
<text transform="translate(902.35,226.92) rotate(-15)" font-size="19.8" text-anchor="end" y="7.09">TLR_SIGNALING</text>
<text transform="translate(902.05,257.9) rotate(-15)" font-size="19.8" text-anchor="end" y="7.09">TLR_CASCADES</text>
<text transform="translate(901.35,292.88) rotate(-15)" font-size="19.8" text-anchor="end" y="7.09">RIG_I_LIKE_RECEPTOR</text>
<text transform="translate(904.25,322.56) rotate(-15)" font-size="19.8" text-anchor="end" y="7.09">NK_CYTOTOXICITY</text>
<text transform="translate(902.35,353.34) rotate(-15)" font-size="19.8" text-anchor="end" y="7.09">IFN_SIGNALING</text>
<text transform="translate(902.35,387.42) rotate(-15)" font-size="19.8" text-anchor="end" y="7.09">DDX58_INDUCTION_IFNA/B</text>
<text transform="translate(902.35,421.8) rotate(-15)" font-size="19.8" text-anchor="end" y="7.09">CYTOSOLIC_DNA_SENSING</text>
<text transform="translate(901.65,453.18) rotate(-15)" font-size="19.8" text-anchor="end" y="7.09">COMPLEMENT_CASCADE</text>
<text transform="translate(902.05,483.86) rotate(-15)" font-size="19.8" text-anchor="end" y="7.09">ANTIVIRAL_ISGs</text>
<text transform="translate(902.05,519.14) rotate(-15)" font-size="19.8" text-anchor="end" y="7.09">ANTIMICROBIAL_PEPTIDES</text>
</g>
<g>
<text x="894.5" y="629.7" font-size="23.7">Platelet &amp; thrombosis</text>
<rect x="895.2" y="668.5" width="117.3" height="156.5" fill="#fff"/>
<path d="M895.2 697.7H1012.5M895.2 746.9H1012.5M895.2 796.3H1012.5M911.5 668.5V825M939.53 668.5V825M967.56 668.5V825M995.59 668.5V825" stroke="#f0f0f0" stroke-width="2.4" fill="none"/>
<circle cx="911.5" cy="697.7" r="6.4" fill="#e3a394"/>
<circle cx="939.53" cy="697.7" r="5.45" fill="#d9aca2"/>
<circle cx="967.56" cy="697.7" r="4.5" fill="#d9aca2"/>
<circle cx="995.59" cy="697.7" r="5.45" fill="#d9aca2"/>
<circle cx="911.5" cy="746.9" r="5.45" fill="#e3a394"/>
<circle cx="939.53" cy="746.9" r="4.5" fill="#d9aca2"/>
<circle cx="967.56" cy="746.9" r="3.55" fill="#d0bab5"/>
<circle cx="995.59" cy="746.9" r="4.5" fill="#d9aca2"/>
<circle cx="911.5" cy="796.3" r="10.2" fill="#e3a394"/>
<circle cx="939.53" cy="796.3" r="6.4" fill="#d9aca2"/>
<circle cx="967.56" cy="796.3" r="6.4" fill="#d9aca2"/>
<circle cx="995.59" cy="796.3" r="5.45" fill="#d9aca2"/>
<rect x="895.2" y="668.5" width="117.3" height="156.5" fill="none" stroke="#2e2e2e" stroke-width="1.5"/>
<rect x="895.2" y="638.1" width="117.3" height="29.1" fill="#fff" stroke="#2e2e2e" stroke-width="1.4"/>
<path d="M894.45 668.1H1013.25" stroke="#2e2e2e" stroke-width="3"/>
<text x="929.51" y="659.3" font-size="22.2">BAL</text>
<path d="M911.5 825.75v8.6M939.53 825.75v8.6M967.56 825.75v8.6M995.59 825.75v8.6" stroke="#2e2e2e" stroke-width="3.1"/>
<rect x="1029.6" y="668.5" width="201.5" height="156.5" fill="#fff"/>
<path d="M1029.6 697.7H1231.1M1029.6 746.9H1231.1M1029.6 796.3H1231.1M1045.6 668.5V825M1073.73 668.5V825M1101.86 668.5V825M1129.99 668.5V825M1158.12 668.5V825M1186.25 668.5V825M1214.38 668.5V825" stroke="#f0f0f0" stroke-width="2.4" fill="none"/>
<circle cx="1045.6" cy="697.7" r="11.15" fill="#f2947b"/>
<circle cx="1073.73" cy="697.7" r="11.15" fill="#eb9c88"/>
<circle cx="1101.86" cy="697.7" r="11.15" fill="#eb9c88"/>
<circle cx="1129.99" cy="697.7" r="7.35" fill="#e3a394"/>
<circle cx="1158.12" cy="697.7" r="7.35" fill="#e3a394"/>
<circle cx="1186.25" cy="697.7" r="4.5" fill="#d0bab5"/>
<circle cx="1214.38" cy="697.7" r="8.3" fill="#e3a394"/>
<circle cx="1045.6" cy="746.9" r="11.15" fill="#f58466"/>
<circle cx="1073.73" cy="746.9" r="7.35" fill="#eb9c88"/>
<circle cx="1101.86" cy="746.9" r="3.55" fill="#c7bfd2"/>
<circle cx="1129.99" cy="746.9" r="6.4" fill="#e3a394"/>
<circle cx="1158.12" cy="746.9" r="2.6" fill="#c9c7c6"/>
<circle cx="1186.25" cy="746.9" r="4.5" fill="#d0bab5"/>
<circle cx="1214.38" cy="746.9" r="7.35" fill="#eb9c88"/>
<circle cx="1045.6" cy="796.3" r="11.15" fill="#f58466"/>
<circle cx="1073.73" cy="796.3" r="11.15" fill="#eb9c88"/>
<circle cx="1101.86" cy="796.3" r="11.15" fill="#e3a394"/>
<circle cx="1129.99" cy="796.3" r="5.45" fill="#d9aca2"/>
<circle cx="1158.12" cy="796.3" r="3.55" fill="#d0bab5"/>
<circle cx="1186.25" cy="796.3" r="3.55" fill="#d0bab5"/>
<circle cx="1214.38" cy="796.3" r="9.25" fill="#e3a394"/>
<rect x="1029.6" y="668.5" width="201.5" height="156.5" fill="none" stroke="#2e2e2e" stroke-width="1.5"/>
<rect x="1029.6" y="638.1" width="201.5" height="29.1" fill="#fff" stroke="#2e2e2e" stroke-width="1.4"/>
<path d="M1028.85 668.1H1231.85" stroke="#2e2e2e" stroke-width="3"/>
<text x="1093.15" y="659.3" font-size="22.2">PBMC</text>
<path d="M1045.6 825.75v8.6M1073.73 825.75v8.6M1101.86 825.75v8.6M1129.99 825.75v8.6M1158.12 825.75v8.6M1186.25 825.75v8.6M1214.38 825.75v8.6" stroke="#2e2e2e" stroke-width="3.1"/>
<text x="906.6" y="855" font-size="19" text-anchor="middle">2</text>
<text x="939.2" y="855" font-size="19" text-anchor="middle">4</text>
<text x="966.7" y="855" font-size="19" text-anchor="middle">7</text>
<text x="1007.1" y="855" font-size="19" text-anchor="middle">10/11</text>
<text x="1044.4" y="855" font-size="19" text-anchor="middle">1</text>
<text x="1076.3" y="855" font-size="19" text-anchor="middle">2</text>
<text x="1104.2" y="855" font-size="19" text-anchor="middle">4</text>
<text x="1131.8" y="855" font-size="19" text-anchor="middle">6</text>
<text x="1159.3" y="855" font-size="19" text-anchor="middle">7</text>
<text x="1186.9" y="855" font-size="19" text-anchor="middle">8</text>
<text x="1227.2" y="855" font-size="19" text-anchor="middle">10/11</text>
<text x="1041.7" y="875.8" font-size="19" text-anchor="middle">DPI</text>
<path d="M894.45 697.7h-8.8M894.45 746.9h-8.8M894.45 796.3h-8.8" stroke="#2e2e2e" stroke-width="3.1"/>
<text transform="translate(884.95,673.9) rotate(-15)" font-size="19.8"><tspan x="-213.5" y="7.09">ELEVATED_PLATELET</tspan><tspan x="-213.5" y="30.89">CYTOSOLIC_CA2</tspan></text>
<text transform="translate(882.45,729.4) rotate(-15)" font-size="19.8"><tspan x="-257.47" y="7.09">PLATELET_AGGREGATION</tspan><tspan x="-257.47" y="30.89">&amp; PLUG_FORMATION</tspan></text>
<text transform="translate(882.65,793.7) rotate(-15)" font-size="19.8" text-anchor="end" y="7.09">PLATELET_ACTIVATION</text>
</g>
<g>
<text x="1484.7" y="37" font-size="23.7">Immunoregulatory</text>
<rect x="1487.9" y="80" width="115.1" height="262" fill="#fff"/>
<path d="M1487.9 110.1H1603M1487.9 161.6H1603M1487.9 213.1H1603M1487.9 264.6H1603M1487.9 316.1H1603M1503.7 80V342M1531.33 80V342M1558.96 80V342M1586.59 80V342" stroke="#f0f0f0" stroke-width="2.4" fill="none"/>
<circle cx="1503.7" cy="110.1" r="11.15" fill="#f2947b"/>
<circle cx="1531.33" cy="110.1" r="11.15" fill="#f2947b"/>
<circle cx="1558.96" cy="110.1" r="11.15" fill="#f2947b"/>
<circle cx="1586.59" cy="110.1" r="4.5" fill="#c8b4e0"/>
<circle cx="1503.7" cy="161.6" r="11.15" fill="#f2947b"/>
<circle cx="1531.33" cy="161.6" r="5.45" fill="#d9aca2"/>
<circle cx="1558.96" cy="161.6" r="3.55" fill="#d0bab5"/>
<circle cx="1586.59" cy="161.6" r="2.6" fill="#c9c7c6"/>
<circle cx="1503.7" cy="213.1" r="2.6" fill="#c9c7c6"/>
<circle cx="1531.33" cy="213.1" r="2.6" fill="#c9c7c6"/>
<circle cx="1558.96" cy="213.1" r="2.6" fill="#c9c7c6"/>
<circle cx="1586.59" cy="213.1" r="2.6" fill="#c9c7c6"/>
<circle cx="1503.7" cy="264.6" r="11.15" fill="#f2623f"/>
<circle cx="1531.33" cy="264.6" r="11.15" fill="#f2623f"/>
<circle cx="1558.96" cy="264.6" r="11.15" fill="#f6714e"/>
<circle cx="1586.59" cy="264.6" r="3.55" fill="#d0bab5"/>
<circle cx="1503.7" cy="316.1" r="11.15" fill="#f2947b"/>
<circle cx="1531.33" cy="316.1" r="7.35" fill="#eb9c88"/>
<circle cx="1558.96" cy="316.1" r="11.15" fill="#f2947b"/>
<circle cx="1586.59" cy="316.1" r="2.6" fill="#c9c7c6"/>
<rect x="1487.9" y="80" width="115.1" height="262" fill="none" stroke="#2e2e2e" stroke-width="2.3"/>
<rect x="1488.2" y="48.6" width="113.9" height="29.5" fill="#fff" stroke="#2e2e2e" stroke-width="1.4"/>
<text x="1520.81" y="70.2" font-size="22.2">BAL</text>
<path d="M1503.7 343.15v8.6M1531.33 343.15v8.6M1558.96 343.15v8.6M1586.59 343.15v8.6" stroke="#2e2e2e" stroke-width="3.1"/>
<rect x="1619.2" y="80" width="197.4" height="262" fill="#fff"/>
<path d="M1619.2 110.1H1816.6M1619.2 161.6H1816.6M1619.2 213.1H1816.6M1619.2 264.6H1816.6M1619.2 316.1H1816.6M1635.5 80V342M1662.98 80V342M1690.46 80V342M1717.94 80V342M1745.42 80V342M1772.9 80V342M1800.38 80V342" stroke="#f0f0f0" stroke-width="2.4" fill="none"/>
<circle cx="1635.5" cy="110.1" r="7.35" fill="#b082d7"/>
<circle cx="1662.98" cy="110.1" r="4.5" fill="#c9a8ea"/>
<circle cx="1690.46" cy="110.1" r="6.4" fill="#bd93e1"/>
<circle cx="1717.94" cy="110.1" r="4.5" fill="#c8b4e0"/>
<circle cx="1745.42" cy="110.1" r="7.35" fill="#b082d7"/>
<circle cx="1772.9" cy="110.1" r="6.4" fill="#b082d7"/>
<circle cx="1800.38" cy="110.1" r="6.4" fill="#b082d7"/>
<circle cx="1635.5" cy="161.6" r="6.4" fill="#e3a394"/>
<circle cx="1662.98" cy="161.6" r="11.15" fill="#f58466"/>
<circle cx="1690.46" cy="161.6" r="6.4" fill="#e3a394"/>
<circle cx="1717.94" cy="161.6" r="5.45" fill="#e3a394"/>
<circle cx="1745.42" cy="161.6" r="4.5" fill="#d9aca2"/>
<circle cx="1772.9" cy="161.6" r="2.6" fill="#c9c7c6"/>
<circle cx="1800.38" cy="161.6" r="4.5" fill="#d9aca2"/>
<circle cx="1635.5" cy="213.1" r="9.25" fill="#a173cd"/>
<circle cx="1662.98" cy="213.1" r="6.4" fill="#bd93e1"/>
<circle cx="1690.46" cy="213.1" r="7.35" fill="#b082d7"/>
<circle cx="1717.94" cy="213.1" r="5.45" fill="#c9a8ea"/>
<circle cx="1745.42" cy="213.1" r="5.45" fill="#bd93e1"/>
<circle cx="1772.9" cy="213.1" r="7.35" fill="#bd93e1"/>
<circle cx="1800.38" cy="213.1" r="4.5" fill="#d9aca2"/>
<circle cx="1635.5" cy="264.6" r="4.5" fill="#d9aca2"/>
<circle cx="1662.98" cy="264.6" r="8.3" fill="#e3a394"/>
<circle cx="1690.46" cy="264.6" r="7.35" fill="#bd93e1"/>
<circle cx="1717.94" cy="264.6" r="3.55" fill="#d0bab5"/>
<circle cx="1745.42" cy="264.6" r="2.6" fill="#c9c7c6"/>
<circle cx="1772.9" cy="264.6" r="3.55" fill="#c7bfd2"/>
<circle cx="1800.38" cy="264.6" r="2.6" fill="#c9c7c6"/>
<circle cx="1635.5" cy="316.1" r="10.2" fill="#a173cd"/>
<circle cx="1662.98" cy="316.1" r="7.35" fill="#b082d7"/>
<circle cx="1690.46" cy="316.1" r="9.25" fill="#a173cd"/>
<circle cx="1717.94" cy="316.1" r="6.4" fill="#bd93e1"/>
<circle cx="1745.42" cy="316.1" r="10.2" fill="#9363c3"/>
<circle cx="1772.9" cy="316.1" r="8.3" fill="#a173cd"/>
<circle cx="1800.38" cy="316.1" r="2.6" fill="#c9c7c6"/>
<rect x="1619.2" y="80" width="197.4" height="262" fill="none" stroke="#2e2e2e" stroke-width="2.3"/>
<rect x="1619.6" y="48.6" width="196.7" height="29.5" fill="#fff" stroke="#2e2e2e" stroke-width="1.4"/>
<text x="1680.75" y="70.2" font-size="22.2">PBMC</text>
<path d="M1635.5 343.15v8.6M1662.98 343.15v8.6M1690.46 343.15v8.6M1717.94 343.15v8.6M1745.42 343.15v8.6M1772.9 343.15v8.6M1800.38 343.15v8.6" stroke="#2e2e2e" stroke-width="3.1"/>
<text x="1499.5" y="374.1" font-size="19" text-anchor="middle">2</text>
<text x="1532.1" y="374.1" font-size="19" text-anchor="middle">4</text>
<text x="1559.7" y="374.1" font-size="19" text-anchor="middle">7</text>
<text x="1600.3" y="374.1" font-size="19" text-anchor="middle">10/11</text>
<text x="1637.6" y="374.1" font-size="19" text-anchor="middle">1</text>
<text x="1665.2" y="374.1" font-size="19" text-anchor="middle">2</text>
<text x="1692.8" y="374.1" font-size="19" text-anchor="middle">4</text>
<text x="1720" y="374.1" font-size="19" text-anchor="middle">6</text>
<text x="1747.6" y="374.1" font-size="19" text-anchor="middle">7</text>
<text x="1775.1" y="374.1" font-size="19" text-anchor="middle">8</text>
<text x="1815.5" y="374.1" font-size="19" text-anchor="middle">10/11</text>
<text x="1624.9" y="398.3" font-size="19" text-anchor="middle">DPI</text>
<path d="M1486.75 110.1h-8.8M1486.75 161.6h-8.8M1486.75 213.1h-8.8M1486.75 264.6h-8.8M1486.75 316.1h-8.8" stroke="#2e2e2e" stroke-width="3.1"/>
<text transform="translate(1472.85,103.2) rotate(-15)" font-size="19.8" text-anchor="end" y="7.09">PD1_SIGNALING</text>
<text transform="translate(1483.45,134.1) rotate(-15)" font-size="19.8"><tspan x="-201.36" y="7.09">NEG_REGULATORS_</tspan><tspan x="-201.36" y="30.89">OF_DDX58</tspan></text>
<text transform="translate(1483.85,190.9) rotate(-15)" font-size="19.8"><tspan x="-193.65" y="7.09">NEG_REGULATION_</tspan><tspan x="-193.65" y="30.89">OF_MAPK</tspan></text>
<text transform="translate(1469.35,251.5) rotate(-15)" font-size="19.8"><tspan x="-182.64" y="7.09">LYMPHOID &amp; NON_</tspan><tspan x="-182.64" y="30.89">LYMPHOID CELLS_</tspan><tspan x="-182.64" y="54.69">INTERACTIONS</tspan></text>
<text transform="translate(1474.85,326.5) rotate(-15)" font-size="19.8" text-anchor="end" y="7.09">CTLA4_PATHWAY</text>
</g>
<g>
<text x="1456.1" y="482.7" font-size="23.7">Cell Trafficking</text>
<rect x="1456.1" y="530.3" width="126.4" height="300" fill="#fff"/>
<path d="M1456.1 555.3H1582.5M1456.1 597.1H1582.5M1456.1 638.9H1582.5M1456.1 680.7H1582.5M1456.1 722.5H1582.5M1456.1 764.3H1582.5M1456.1 806.1H1582.5M1473.7 530.3V830.3M1503.97 530.3V830.3M1534.24 530.3V830.3M1564.51 530.3V830.3" stroke="#f0f0f0" stroke-width="2.4" fill="none"/>
<circle cx="1473.7" cy="555.3" r="2.6" fill="#c9c7c6"/>
<circle cx="1503.97" cy="555.3" r="11.15" fill="#f2947b"/>
<circle cx="1534.24" cy="555.3" r="7.35" fill="#eb9c88"/>
<circle cx="1564.51" cy="555.3" r="6.4" fill="#e3a394"/>
<circle cx="1473.7" cy="597.1" r="11.15" fill="#eb9c88"/>
<circle cx="1503.97" cy="597.1" r="11.15" fill="#eb9c88"/>
<circle cx="1534.24" cy="597.1" r="11.15" fill="#eb9c88"/>
<circle cx="1564.51" cy="597.1" r="3.55" fill="#d0bab5"/>
<circle cx="1473.7" cy="638.9" r="2.6" fill="#c9c7c6"/>
<circle cx="1503.97" cy="638.9" r="11.15" fill="#f58466"/>
<circle cx="1534.24" cy="638.9" r="3.55" fill="#d0bab5"/>
<circle cx="1564.51" cy="638.9" r="11.15" fill="#f2947b"/>
<circle cx="1473.7" cy="680.7" r="10.2" fill="#eb9c88"/>
<circle cx="1503.97" cy="680.7" r="11.15" fill="#eb9c88"/>
<circle cx="1534.24" cy="680.7" r="11.15" fill="#eb9c88"/>
<circle cx="1564.51" cy="680.7" r="2.6" fill="#c9c7c6"/>
<circle cx="1473.7" cy="722.5" r="11.15" fill="#f58466"/>
<circle cx="1503.97" cy="722.5" r="11.15" fill="#f58466"/>
<circle cx="1534.24" cy="722.5" r="11.15" fill="#f6714e"/>
<circle cx="1564.51" cy="722.5" r="2.6" fill="#c9c7c6"/>
<circle cx="1473.7" cy="764.3" r="11.15" fill="#f2947b"/>
<circle cx="1503.97" cy="764.3" r="11.15" fill="#f2947b"/>
<circle cx="1534.24" cy="764.3" r="11.15" fill="#e3a394"/>
<circle cx="1564.51" cy="764.3" r="2.6" fill="#c9c7c6"/>
<circle cx="1473.7" cy="806.1" r="10.2" fill="#eb9c88"/>
<circle cx="1503.97" cy="806.1" r="9.25" fill="#e3a394"/>
<circle cx="1534.24" cy="806.1" r="9.25" fill="#e3a394"/>
<circle cx="1564.51" cy="806.1" r="7.35" fill="#e3a394"/>
<rect x="1456.1" y="530.3" width="126.4" height="300" fill="none" stroke="#2e2e2e" stroke-width="1.5"/>
<rect x="1456.1" y="500.1" width="126.4" height="28.9" fill="#fff" stroke="#2e2e2e" stroke-width="1.4"/>
<path d="M1455.35 529.9H1583.25" stroke="#2e2e2e" stroke-width="3"/>
<text x="1494.96" y="521.1" font-size="22.2">BAL</text>
<path d="M1473.7 831.05v8.6M1503.97 831.05v8.6M1534.24 831.05v8.6M1564.51 831.05v8.6" stroke="#2e2e2e" stroke-width="3.1"/>
<rect x="1599.7" y="530.3" width="216.8" height="300" fill="#fff"/>
<path d="M1599.7 555.3H1816.5M1599.7 597.1H1816.5M1599.7 638.9H1816.5M1599.7 680.7H1816.5M1599.7 722.5H1816.5M1599.7 764.3H1816.5M1599.7 806.1H1816.5M1616.9 530.3V830.3M1647.17 530.3V830.3M1677.44 530.3V830.3M1707.71 530.3V830.3M1737.98 530.3V830.3M1768.25 530.3V830.3M1798.52 530.3V830.3" stroke="#f0f0f0" stroke-width="2.4" fill="none"/>
<circle cx="1616.9" cy="555.3" r="4.5" fill="#c7bfd2"/>
<circle cx="1647.17" cy="555.3" r="3.55" fill="#c7bfd2"/>
<circle cx="1677.44" cy="555.3" r="4.5" fill="#c9a8ea"/>
<circle cx="1707.71" cy="555.3" r="4.5" fill="#c7bfd2"/>
<circle cx="1737.98" cy="555.3" r="5.45" fill="#c9a8ea"/>
<circle cx="1768.25" cy="555.3" r="5.45" fill="#bd93e1"/>
<circle cx="1798.52" cy="555.3" r="3.55" fill="#d0bab5"/>
<circle cx="1616.9" cy="597.1" r="6.4" fill="#d9aca2"/>
<circle cx="1647.17" cy="597.1" r="10.2" fill="#e3a394"/>
<circle cx="1677.44" cy="597.1" r="5.45" fill="#c7bfd2"/>
<circle cx="1707.71" cy="597.1" r="4.5" fill="#d9aca2"/>
<circle cx="1737.98" cy="597.1" r="3.55" fill="#d0bab5"/>
<circle cx="1768.25" cy="597.1" r="7.35" fill="#c8b4e0"/>
<circle cx="1798.52" cy="597.1" r="7.35" fill="#d9aca2"/>
<circle cx="1616.9" cy="638.9" r="9.25" fill="#eb9c88"/>
<circle cx="1647.17" cy="638.9" r="7.35" fill="#e3a394"/>
<circle cx="1677.44" cy="638.9" r="2.6" fill="#c9c7c6"/>
<circle cx="1707.71" cy="638.9" r="11.15" fill="#f2947b"/>
<circle cx="1737.98" cy="638.9" r="6.4" fill="#e3a394"/>
<circle cx="1768.25" cy="638.9" r="5.45" fill="#e3a394"/>
<circle cx="1798.52" cy="638.9" r="9.25" fill="#f2947b"/>
<circle cx="1616.9" cy="680.7" r="2.6" fill="#c9c7c6"/>
<circle cx="1647.17" cy="680.7" r="3.55" fill="#d0bab5"/>
<circle cx="1677.44" cy="680.7" r="4.5" fill="#d9aca2"/>
<circle cx="1707.71" cy="680.7" r="2.6" fill="#c9c7c6"/>
<circle cx="1737.98" cy="680.7" r="2.6" fill="#c9c7c6"/>
<circle cx="1768.25" cy="680.7" r="2.6" fill="#c9c7c6"/>
<circle cx="1798.52" cy="680.7" r="2.6" fill="#c9c7c6"/>
<circle cx="1616.9" cy="722.5" r="2.6" fill="#c9c7c6"/>
<circle cx="1647.17" cy="722.5" r="7.35" fill="#e3a394"/>
<circle cx="1677.44" cy="722.5" r="2.6" fill="#c9c7c6"/>
<circle cx="1707.71" cy="722.5" r="2.6" fill="#c9c7c6"/>
<circle cx="1737.98" cy="722.5" r="2.6" fill="#c9c7c6"/>
<circle cx="1768.25" cy="722.5" r="2.6" fill="#c9c7c6"/>
<circle cx="1798.52" cy="722.5" r="2.6" fill="#c9c7c6"/>
<circle cx="1616.9" cy="764.3" r="2.6" fill="#c9c7c6"/>
<circle cx="1647.17" cy="764.3" r="10.2" fill="#eb9c88"/>
<circle cx="1677.44" cy="764.3" r="3.55" fill="#c7bfd2"/>
<circle cx="1707.71" cy="764.3" r="2.6" fill="#c9c7c6"/>
<circle cx="1737.98" cy="764.3" r="3.55" fill="#c7bfd2"/>
<circle cx="1768.25" cy="764.3" r="11.15" fill="#bd93e1"/>
<circle cx="1798.52" cy="764.3" r="4.5" fill="#d0bab5"/>
<circle cx="1616.9" cy="806.1" r="5.45" fill="#e3a394"/>
<circle cx="1647.17" cy="806.1" r="7.35" fill="#e3a394"/>
<circle cx="1677.44" cy="806.1" r="3.55" fill="#d0bab5"/>
<circle cx="1707.71" cy="806.1" r="4.5" fill="#d9aca2"/>
<circle cx="1737.98" cy="806.1" r="3.55" fill="#d0bab5"/>
<circle cx="1768.25" cy="806.1" r="4.5" fill="#c8b4e0"/>
<circle cx="1798.52" cy="806.1" r="3.55" fill="#d0bab5"/>
<rect x="1599.7" y="530.3" width="216.8" height="300" fill="none" stroke="#2e2e2e" stroke-width="1.5"/>
<rect x="1599.7" y="500.1" width="216.8" height="28.9" fill="#fff" stroke="#2e2e2e" stroke-width="1.4"/>
<path d="M1598.95 529.9H1817.25" stroke="#2e2e2e" stroke-width="3"/>
<text x="1670.9" y="521.1" font-size="22.2">PBMC</text>
<path d="M1616.9 831.05v8.6M1647.17 831.05v8.6M1677.44 831.05v8.6M1707.71 831.05v8.6M1737.98 831.05v8.6M1768.25 831.05v8.6M1798.52 831.05v8.6" stroke="#2e2e2e" stroke-width="3.1"/>
<text x="1471.9" y="861.8" font-size="19" text-anchor="middle">2</text>
<text x="1504.5" y="861.8" font-size="19" text-anchor="middle">4</text>
<text x="1537.5" y="861.8" font-size="19" text-anchor="middle">7</text>
<text x="1577.8" y="861.8" font-size="19" text-anchor="middle">10/11</text>
<text x="1618.2" y="861.8" font-size="19" text-anchor="middle">1</text>
<text x="1650.8" y="861.8" font-size="19" text-anchor="middle">2</text>
<text x="1677.6" y="861.8" font-size="19" text-anchor="middle">4</text>
<text x="1710.6" y="861.8" font-size="19" text-anchor="middle">6</text>
<text x="1738.2" y="861.8" font-size="19" text-anchor="middle">7</text>
<text x="1771.1" y="861.8" font-size="19" text-anchor="middle">8</text>
<text x="1812.1" y="861.8" font-size="19" text-anchor="middle">10/11</text>
<text x="1605.4" y="885.4" font-size="19" text-anchor="middle">DPI</text>
<path d="M1455.35 555.3h-8.8M1455.35 597.1h-8.8M1455.35 638.9h-8.8M1455.35 680.7h-8.8M1455.35 722.5h-8.8M1455.35 764.3h-8.8M1455.35 806.1h-8.8" stroke="#2e2e2e" stroke-width="3.1"/>
<text transform="translate(1443.7,547.8) rotate(-15)" font-size="19.8" text-anchor="end" y="7.09">S1P_PATHWAY</text>
<text transform="translate(1441.15,589.25) rotate(-15)" font-size="19.8" text-anchor="end" y="7.09">RGαI_SIGNALING</text>
<text transform="translate(1438.45,629.7) rotate(-15)" font-size="19.8"><tspan x="-105.61" y="7.09">INTEGRIN_</tspan><tspan x="-105.61" y="30.89">PATHWAY</tspan></text>
<text transform="translate(1443.15,677.2) rotate(-15)" font-size="19.8" text-anchor="end" y="7.09">CXCR4_PATHWAY</text>
<text transform="translate(1443.15,719.1) rotate(-15)" font-size="19.8" text-anchor="end" y="7.09">CXCR3_PATHWAY</text>
<text transform="translate(1440.65,749.6) rotate(-15)" font-size="19.8"><tspan x="-130.93" y="7.09">CHEMOKINE_</tspan><tspan x="-130.93" y="30.89">SIGNALING</tspan></text>
<text transform="translate(1445.15,806.3) rotate(-15)" font-size="19.8" text-anchor="end" y="7.09">CELL_ADHESION</text>
</g>
<g>
<text x="1831" y="81.4" font-size="20.6">1−log(NOM p−val)</text>
<circle cx="1875.2" cy="108" r="4.5" fill="#000"/>
<text x="1911" y="112.7" font-size="19.5">0.37</text>
<circle cx="1875.2" cy="138.5" r="7.5" fill="#000"/>
<text x="1911" y="145.6" font-size="19.5">0.05</text>
<circle cx="1875.2" cy="173.2" r="10.4" fill="#000"/>
<text x="1911" y="179.6" font-size="19.5">0.007</text>
<circle cx="1875.2" cy="215.5" r="21.5" fill="#000"/>
<text x="1911" y="221.6" font-size="19.5">&lt;0.001</text>
<text x="1870.1" y="294" font-size="20.6">NES</text>
<rect x="1870" y="305.8" width="29.8" height="144.6" fill="url(#nesg)"/>
<text x="1908.5" y="331.6" font-size="19.5">2</text>
<text x="1908.5" y="357.65" font-size="19.5">1</text>
<text x="1908.5" y="383.7" font-size="19.5">0</text>
<text x="1908.5" y="409.75" font-size="19.5">−1</text>
<text x="1908.5" y="435.8" font-size="19.5">−2</text>
<path d="M1870 326.3h6M1899.8 326.3h-6M1870 352.35h6M1899.8 352.35h-6M1870 378.4h6M1899.8 378.4h-6M1870 404.45h6M1899.8 404.45h-6M1870 430.5h6M1899.8 430.5h-6" stroke="#fff" stroke-width="1.1"/>
</g>
<g>
<text x="1" y="964.6" font-size="39.5" font-weight="bold">b</text>
<text x="349.2" y="979.6" font-size="25.7" text-anchor="middle">BAL: Interferon Stimulated Genes</text>
<text x="112.8" y="1007.6" font-size="22.8" text-anchor="middle">Baseline</text>
<rect x="26.65" y="1025.35" width="174.3" height="351.9" fill="#0d0d0d"/>
<rect x="28.55" y="1027.25" width="19.65" height="18.69" fill="#f6e6e1"/>
<rect x="50.1" y="1027.25" width="19.65" height="18.69" fill="#e6d0f2"/>
<rect x="71.65" y="1027.25" width="19.65" height="18.69" fill="#a57bd0"/>
<rect x="93.2" y="1027.25" width="19.65" height="18.69" fill="#f7e3dd"/>
<rect x="114.75" y="1027.25" width="19.65" height="18.69" fill="#ed5636"/>
<rect x="136.3" y="1027.25" width="19.65" height="18.69" fill="#eee3f0"/>
<rect x="157.85" y="1027.25" width="19.65" height="18.69" fill="#dec4ee"/>
<rect x="179.4" y="1027.25" width="19.65" height="18.69" fill="#fdbaa9"/>
<rect x="28.55" y="1047.84" width="19.65" height="18.69" fill="#ece0f0"/>
<rect x="50.1" y="1047.84" width="19.65" height="18.69" fill="#e9d6f1"/>
<rect x="71.65" y="1047.84" width="19.65" height="18.69" fill="#df2e14"/>
<rect x="93.2" y="1047.84" width="19.65" height="18.69" fill="#f4ecea"/>
<rect x="114.75" y="1047.84" width="19.65" height="18.69" fill="#df2e14"/>
<rect x="136.3" y="1047.84" width="19.65" height="18.69" fill="#a57bd0"/>
<rect x="157.85" y="1047.84" width="19.65" height="18.69" fill="#f2ecee"/>
<rect x="179.4" y="1047.84" width="19.65" height="18.69" fill="#f9dcd5"/>
<rect x="28.55" y="1068.43" width="19.65" height="18.69" fill="#fdd0c4"/>
<rect x="50.1" y="1068.43" width="19.65" height="18.69" fill="#ece0f0"/>
<rect x="71.65" y="1068.43" width="19.65" height="18.69" fill="#ead9f1"/>
<rect x="93.2" y="1068.43" width="19.65" height="18.69" fill="#f7e3dd"/>
<rect x="114.75" y="1068.43" width="19.65" height="18.69" fill="#f57758"/>
<rect x="136.3" y="1068.43" width="19.65" height="18.69" fill="#ead9f1"/>
<rect x="157.85" y="1068.43" width="19.65" height="18.69" fill="#dec4ee"/>
<rect x="179.4" y="1068.43" width="19.65" height="18.69" fill="#fdd0c4"/>
<rect x="28.55" y="1089.01" width="19.65" height="18.69" fill="#f5e9e6"/>
<rect x="50.1" y="1089.01" width="19.65" height="18.69" fill="#eee3f0"/>
<rect x="71.65" y="1089.01" width="19.65" height="18.69" fill="#454aa6"/>
<rect x="93.2" y="1089.01" width="19.65" height="18.69" fill="#fbd6cc"/>
<rect x="114.75" y="1089.01" width="19.65" height="18.69" fill="#f47152"/>
<rect x="136.3" y="1089.01" width="19.65" height="18.69" fill="#e9d6f1"/>
<rect x="157.85" y="1089.01" width="19.65" height="18.69" fill="#e7d3f2"/>
<rect x="179.4" y="1089.01" width="19.65" height="18.69" fill="#fdc5b6"/>
<rect x="28.55" y="1109.6" width="19.65" height="18.69" fill="#f8e0d9"/>
<rect x="50.1" y="1109.6" width="19.65" height="18.69" fill="#f2ecee"/>
<rect x="71.65" y="1109.6" width="19.65" height="18.69" fill="#f26c4b"/>
<rect x="93.2" y="1109.6" width="19.65" height="18.69" fill="#eee3f0"/>
<rect x="114.75" y="1109.6" width="19.65" height="18.69" fill="#f7e3dd"/>
<rect x="136.3" y="1109.6" width="19.65" height="18.69" fill="#dec4ee"/>
<rect x="157.85" y="1109.6" width="19.65" height="18.69" fill="#e6d0f2"/>
<rect x="179.4" y="1109.6" width="19.65" height="18.69" fill="#f4ecea"/>
<rect x="28.55" y="1130.19" width="19.65" height="18.69" fill="#f9dcd5"/>
<rect x="50.1" y="1130.19" width="19.65" height="18.69" fill="#ead9f1"/>
<rect x="71.65" y="1130.19" width="19.65" height="18.69" fill="#8259bb"/>
<rect x="93.2" y="1130.19" width="19.65" height="18.69" fill="#fad9d1"/>
<rect x="114.75" y="1130.19" width="19.65" height="18.69" fill="#f47152"/>
<rect x="136.3" y="1130.19" width="19.65" height="18.69" fill="#ebdcf0"/>
<rect x="157.85" y="1130.19" width="19.65" height="18.69" fill="#e7d3f2"/>
<rect x="179.4" y="1130.19" width="19.65" height="18.69" fill="#fdc5b6"/>
<rect x="28.55" y="1150.78" width="19.65" height="18.69" fill="#e6d0f2"/>
<rect x="50.1" y="1150.78" width="19.65" height="18.69" fill="#e9d6f1"/>
<rect x="71.65" y="1150.78" width="19.65" height="18.69" fill="#fca58e"/>
<rect x="93.2" y="1150.78" width="19.65" height="18.69" fill="#f2ecee"/>
<rect x="114.75" y="1150.78" width="19.65" height="18.69" fill="#fdcbbd"/>
<rect x="136.3" y="1150.78" width="19.65" height="18.69" fill="#f4ecea"/>
<rect x="157.85" y="1150.78" width="19.65" height="18.69" fill="#ece0f0"/>
<rect x="179.4" y="1150.78" width="19.65" height="18.69" fill="#f7e3dd"/>
<rect x="28.55" y="1171.37" width="19.65" height="18.69" fill="#f3efee"/>
<rect x="50.1" y="1171.37" width="19.65" height="18.69" fill="#cdabe6"/>
<rect x="71.65" y="1171.37" width="19.65" height="18.69" fill="#dabdec"/>
<rect x="93.2" y="1171.37" width="19.65" height="18.69" fill="#fad9d1"/>
<rect x="114.75" y="1171.37" width="19.65" height="18.69" fill="#fa8e73"/>
<rect x="136.3" y="1171.37" width="19.65" height="18.69" fill="#f3efee"/>
<rect x="157.85" y="1171.37" width="19.65" height="18.69" fill="#ead9f1"/>
<rect x="179.4" y="1171.37" width="19.65" height="18.69" fill="#fbd6cc"/>
<rect x="28.55" y="1191.96" width="19.65" height="18.69" fill="#f8e0d9"/>
<rect x="50.1" y="1191.96" width="19.65" height="18.69" fill="#d6b7ea"/>
<rect x="71.65" y="1191.96" width="19.65" height="18.69" fill="#d6b7ea"/>
<rect x="93.2" y="1191.96" width="19.65" height="18.69" fill="#f6e6e1"/>
<rect x="114.75" y="1191.96" width="19.65" height="18.69" fill="#fc9f87"/>
<rect x="136.3" y="1191.96" width="19.65" height="18.69" fill="#efe6ef"/>
<rect x="157.85" y="1191.96" width="19.65" height="18.69" fill="#e6d0f2"/>
<rect x="179.4" y="1191.96" width="19.65" height="18.69" fill="#f5e9e6"/>
<rect x="28.55" y="1212.54" width="19.65" height="18.69" fill="#fdc5b6"/>
<rect x="50.1" y="1212.54" width="19.65" height="18.69" fill="#e6d0f2"/>
<rect x="71.65" y="1212.54" width="19.65" height="18.69" fill="#b187d7"/>
<rect x="93.2" y="1212.54" width="19.65" height="18.69" fill="#f8e0d9"/>
<rect x="114.75" y="1212.54" width="19.65" height="18.69" fill="#fcb09b"/>
<rect x="136.3" y="1212.54" width="19.65" height="18.69" fill="#f9dcd5"/>
<rect x="157.85" y="1212.54" width="19.65" height="18.69" fill="#e9d6f1"/>
<rect x="179.4" y="1212.54" width="19.65" height="18.69" fill="#ece0f0"/>
<rect x="28.55" y="1233.13" width="19.65" height="18.69" fill="#f0e9ef"/>
<rect x="50.1" y="1233.13" width="19.65" height="18.69" fill="#a57bd0"/>
<rect x="71.65" y="1233.13" width="19.65" height="18.69" fill="#cdabe6"/>
<rect x="93.2" y="1233.13" width="19.65" height="18.69" fill="#f6e6e1"/>
<rect x="114.75" y="1233.13" width="19.65" height="18.69" fill="#fdc5b6"/>
<rect x="136.3" y="1233.13" width="19.65" height="18.69" fill="#f5e9e6"/>
<rect x="157.85" y="1233.13" width="19.65" height="18.69" fill="#b187d7"/>
<rect x="179.4" y="1233.13" width="19.65" height="18.69" fill="#f6e6e1"/>
<rect x="28.55" y="1253.72" width="19.65" height="18.69" fill="#ece0f0"/>
<rect x="50.1" y="1253.72" width="19.65" height="18.69" fill="#e9d6f1"/>
<rect x="71.65" y="1253.72" width="19.65" height="18.69" fill="#fdbaa9"/>
<rect x="93.2" y="1253.72" width="19.65" height="18.69" fill="#f8e0d9"/>
<rect x="114.75" y="1253.72" width="19.65" height="18.69" fill="#fcd3c8"/>
<rect x="136.3" y="1253.72" width="19.65" height="18.69" fill="#e2caf0"/>
<rect x="157.85" y="1253.72" width="19.65" height="18.69" fill="#ece0f0"/>
<rect x="179.4" y="1253.72" width="19.65" height="18.69" fill="#fbd6cc"/>
<rect x="28.55" y="1274.31" width="19.65" height="18.69" fill="#ece0f0"/>
<rect x="50.1" y="1274.31" width="19.65" height="18.69" fill="#e7d3f2"/>
<rect x="71.65" y="1274.31" width="19.65" height="18.69" fill="#f9dcd5"/>
<rect x="93.2" y="1274.31" width="19.65" height="18.69" fill="#fbd6cc"/>
<rect x="114.75" y="1274.31" width="19.65" height="18.69" fill="#fc9f87"/>
<rect x="136.3" y="1274.31" width="19.65" height="18.69" fill="#e6d0f2"/>
<rect x="157.85" y="1274.31" width="19.65" height="18.69" fill="#d2b1e8"/>
<rect x="179.4" y="1274.31" width="19.65" height="18.69" fill="#fad9d1"/>
<rect x="28.55" y="1294.9" width="19.65" height="18.69" fill="#f5e9e6"/>
<rect x="50.1" y="1294.9" width="19.65" height="18.69" fill="#d6b7ea"/>
<rect x="71.65" y="1294.9" width="19.65" height="18.69" fill="#7656b7"/>
<rect x="93.2" y="1294.9" width="19.65" height="18.69" fill="#f2eeee"/>
<rect x="114.75" y="1294.9" width="19.65" height="18.69" fill="#fdbaa9"/>
<rect x="136.3" y="1294.9" width="19.65" height="18.69" fill="#f2eeee"/>
<rect x="157.85" y="1294.9" width="19.65" height="18.69" fill="#e6d0f2"/>
<rect x="179.4" y="1294.9" width="19.65" height="18.69" fill="#fdd0c4"/>
<rect x="28.55" y="1315.49" width="19.65" height="18.69" fill="#f5e9e6"/>
<rect x="50.1" y="1315.49" width="19.65" height="18.69" fill="#8259bb"/>
<rect x="71.65" y="1315.49" width="19.65" height="18.69" fill="#f0603e"/>
<rect x="93.2" y="1315.49" width="19.65" height="18.69" fill="#eee3f0"/>
<rect x="114.75" y="1315.49" width="19.65" height="18.69" fill="#fc9f87"/>
<rect x="136.3" y="1315.49" width="19.65" height="18.69" fill="#b187d7"/>
<rect x="157.85" y="1315.49" width="19.65" height="18.69" fill="#b78cda"/>
<rect x="179.4" y="1315.49" width="19.65" height="18.69" fill="#fad9d1"/>
<rect x="28.55" y="1336.07" width="19.65" height="18.69" fill="#fad9d1"/>
<rect x="50.1" y="1336.07" width="19.65" height="18.69" fill="#eee3f0"/>
<rect x="71.65" y="1336.07" width="19.65" height="18.69" fill="#fbd6cc"/>
<rect x="93.2" y="1336.07" width="19.65" height="18.69" fill="#fbd6cc"/>
<rect x="114.75" y="1336.07" width="19.65" height="18.69" fill="#f5e9e6"/>
<rect x="136.3" y="1336.07" width="19.65" height="18.69" fill="#e9d6f1"/>
<rect x="157.85" y="1336.07" width="19.65" height="18.69" fill="#ece0f0"/>
<rect x="179.4" y="1336.07" width="19.65" height="18.69" fill="#ead9f1"/>
<rect x="28.55" y="1356.66" width="19.65" height="18.69" fill="#fc9f87"/>
<rect x="50.1" y="1356.66" width="19.65" height="18.69" fill="#ead9f1"/>
<rect x="71.65" y="1356.66" width="19.65" height="18.69" fill="#fdbaa9"/>
<rect x="93.2" y="1356.66" width="19.65" height="18.69" fill="#e9d6f1"/>
<rect x="114.75" y="1356.66" width="19.65" height="18.69" fill="#f4edeb"/>
<rect x="136.3" y="1356.66" width="19.65" height="18.69" fill="#f5e9e6"/>
<rect x="157.85" y="1356.66" width="19.65" height="18.69" fill="#eee3f0"/>
<rect x="179.4" y="1356.66" width="19.65" height="18.69" fill="#f0e9ef"/>
<text x="287.7" y="1007.6" font-size="22.8" text-anchor="middle">2dpi</text>
<rect x="201.35" y="1025.35" width="175.4" height="351.9" fill="#0d0d0d"/>
<rect x="203.25" y="1027.25" width="19.79" height="18.69" fill="#df2e14"/>
<rect x="224.94" y="1027.25" width="19.79" height="18.69" fill="#fdbaa9"/>
<rect x="246.62" y="1027.25" width="19.79" height="18.69" fill="#df2e14"/>
<rect x="268.31" y="1027.25" width="19.79" height="18.69" fill="#df2e14"/>
<rect x="290" y="1027.25" width="19.79" height="18.69" fill="#df2e14"/>
<rect x="311.69" y="1027.25" width="19.79" height="18.69" fill="#df2e14"/>
<rect x="333.38" y="1027.25" width="19.79" height="18.69" fill="#df2e14"/>
<rect x="355.06" y="1027.25" width="19.79" height="18.69" fill="#df2e14"/>
<rect x="203.25" y="1047.84" width="19.79" height="18.69" fill="#df2e14"/>
<rect x="224.94" y="1047.84" width="19.79" height="18.69" fill="#df2e14"/>
<rect x="246.62" y="1047.84" width="19.79" height="18.69" fill="#df2e14"/>
<rect x="268.31" y="1047.84" width="19.79" height="18.69" fill="#df2e14"/>
<rect x="290" y="1047.84" width="19.79" height="18.69" fill="#df2e14"/>
<rect x="311.69" y="1047.84" width="19.79" height="18.69" fill="#df2e14"/>
<rect x="333.38" y="1047.84" width="19.79" height="18.69" fill="#df2e14"/>
<rect x="355.06" y="1047.84" width="19.79" height="18.69" fill="#df2e14"/>
<rect x="203.25" y="1068.43" width="19.79" height="18.69" fill="#df2e14"/>
<rect x="224.94" y="1068.43" width="19.79" height="18.69" fill="#df2e14"/>
<rect x="246.62" y="1068.43" width="19.79" height="18.69" fill="#df2e14"/>
<rect x="268.31" y="1068.43" width="19.79" height="18.69" fill="#df2e14"/>
<rect x="290" y="1068.43" width="19.79" height="18.69" fill="#df2e14"/>
<rect x="311.69" y="1068.43" width="19.79" height="18.69" fill="#df2e14"/>
<rect x="333.38" y="1068.43" width="19.79" height="18.69" fill="#df2e14"/>
<rect x="355.06" y="1068.43" width="19.79" height="18.69" fill="#df2e14"/>
<rect x="203.25" y="1089.01" width="19.79" height="18.69" fill="#df2e14"/>
<rect x="224.94" y="1089.01" width="19.79" height="18.69" fill="#df2e14"/>
<rect x="246.62" y="1089.01" width="19.79" height="18.69" fill="#df2e14"/>
<rect x="268.31" y="1089.01" width="19.79" height="18.69" fill="#df2e14"/>
<rect x="290" y="1089.01" width="19.79" height="18.69" fill="#df2e14"/>
<rect x="311.69" y="1089.01" width="19.79" height="18.69" fill="#df2e14"/>
<rect x="333.38" y="1089.01" width="19.79" height="18.69" fill="#df2e14"/>
<rect x="355.06" y="1089.01" width="19.79" height="18.69" fill="#df2e14"/>
<rect x="203.25" y="1109.6" width="19.79" height="18.69" fill="#df2e14"/>
<rect x="224.94" y="1109.6" width="19.79" height="18.69" fill="#e64225"/>
<rect x="246.62" y="1109.6" width="19.79" height="18.69" fill="#fc9f87"/>
<rect x="268.31" y="1109.6" width="19.79" height="18.69" fill="#df2e14"/>
<rect x="290" y="1109.6" width="19.79" height="18.69" fill="#df2e14"/>
<rect x="311.69" y="1109.6" width="19.79" height="18.69" fill="#df2e14"/>
<rect x="333.38" y="1109.6" width="19.79" height="18.69" fill="#e64225"/>
<rect x="355.06" y="1109.6" width="19.79" height="18.69" fill="#df2e14"/>
<rect x="203.25" y="1130.19" width="19.79" height="18.69" fill="#df2e14"/>
<rect x="224.94" y="1130.19" width="19.79" height="18.69" fill="#df2e14"/>
<rect x="246.62" y="1130.19" width="19.79" height="18.69" fill="#df2e14"/>
<rect x="268.31" y="1130.19" width="19.79" height="18.69" fill="#df2e14"/>
<rect x="290" y="1130.19" width="19.79" height="18.69" fill="#df2e14"/>
<rect x="311.69" y="1130.19" width="19.79" height="18.69" fill="#df2e14"/>
<rect x="333.38" y="1130.19" width="19.79" height="18.69" fill="#df2e14"/>
<rect x="355.06" y="1130.19" width="19.79" height="18.69" fill="#df2e14"/>
<rect x="203.25" y="1150.78" width="19.79" height="18.69" fill="#e2381c"/>
<rect x="224.94" y="1150.78" width="19.79" height="18.69" fill="#f78366"/>
<rect x="246.62" y="1150.78" width="19.79" height="18.69" fill="#ed5636"/>
<rect x="268.31" y="1150.78" width="19.79" height="18.69" fill="#df2e14"/>
<rect x="290" y="1150.78" width="19.79" height="18.69" fill="#e94c2d"/>
<rect x="311.69" y="1150.78" width="19.79" height="18.69" fill="#eb5131"/>
<rect x="333.38" y="1150.78" width="19.79" height="18.69" fill="#e43d21"/>
<rect x="355.06" y="1150.78" width="19.79" height="18.69" fill="#f16645"/>
<rect x="203.25" y="1171.37" width="19.79" height="18.69" fill="#df2e14"/>
<rect x="224.94" y="1171.37" width="19.79" height="18.69" fill="#df2e14"/>
<rect x="246.62" y="1171.37" width="19.79" height="18.69" fill="#df2e14"/>
<rect x="268.31" y="1171.37" width="19.79" height="18.69" fill="#df2e14"/>
<rect x="290" y="1171.37" width="19.79" height="18.69" fill="#df2e14"/>
<rect x="311.69" y="1171.37" width="19.79" height="18.69" fill="#df2e14"/>
<rect x="333.38" y="1171.37" width="19.79" height="18.69" fill="#df2e14"/>
<rect x="355.06" y="1171.37" width="19.79" height="18.69" fill="#df2e14"/>
<rect x="203.25" y="1191.96" width="19.79" height="18.69" fill="#df2e14"/>
<rect x="224.94" y="1191.96" width="19.79" height="18.69" fill="#df2e14"/>
<rect x="246.62" y="1191.96" width="19.79" height="18.69" fill="#df2e14"/>
<rect x="268.31" y="1191.96" width="19.79" height="18.69" fill="#df2e14"/>
<rect x="290" y="1191.96" width="19.79" height="18.69" fill="#df2e14"/>
<rect x="311.69" y="1191.96" width="19.79" height="18.69" fill="#df2e14"/>
<rect x="333.38" y="1191.96" width="19.79" height="18.69" fill="#df2e14"/>
<rect x="355.06" y="1191.96" width="19.79" height="18.69" fill="#df2e14"/>
<rect x="203.25" y="1212.54" width="19.79" height="18.69" fill="#df2e14"/>
<rect x="224.94" y="1212.54" width="19.79" height="18.69" fill="#df2e14"/>
<rect x="246.62" y="1212.54" width="19.79" height="18.69" fill="#df2e14"/>
<rect x="268.31" y="1212.54" width="19.79" height="18.69" fill="#df2e14"/>
<rect x="290" y="1212.54" width="19.79" height="18.69" fill="#df2e14"/>
<rect x="311.69" y="1212.54" width="19.79" height="18.69" fill="#df2e14"/>
<rect x="333.38" y="1212.54" width="19.79" height="18.69" fill="#df2e14"/>
<rect x="355.06" y="1212.54" width="19.79" height="18.69" fill="#df2e14"/>
<rect x="203.25" y="1233.13" width="19.79" height="18.69" fill="#df2e14"/>
<rect x="224.94" y="1233.13" width="19.79" height="18.69" fill="#ed5636"/>
<rect x="246.62" y="1233.13" width="19.79" height="18.69" fill="#df2e14"/>
<rect x="268.31" y="1233.13" width="19.79" height="18.69" fill="#df2e14"/>
<rect x="290" y="1233.13" width="19.79" height="18.69" fill="#df2e14"/>
<rect x="311.69" y="1233.13" width="19.79" height="18.69" fill="#df2e14"/>
<rect x="333.38" y="1233.13" width="19.79" height="18.69" fill="#df2e14"/>
<rect x="355.06" y="1233.13" width="19.79" height="18.69" fill="#df2e14"/>
<rect x="203.25" y="1253.72" width="19.79" height="18.69" fill="#df2e14"/>
<rect x="224.94" y="1253.72" width="19.79" height="18.69" fill="#df2e14"/>
<rect x="246.62" y="1253.72" width="19.79" height="18.69" fill="#df2e14"/>
<rect x="268.31" y="1253.72" width="19.79" height="18.69" fill="#df2e14"/>
<rect x="290" y="1253.72" width="19.79" height="18.69" fill="#df2e14"/>
<rect x="311.69" y="1253.72" width="19.79" height="18.69" fill="#df2e14"/>
<rect x="333.38" y="1253.72" width="19.79" height="18.69" fill="#df2e14"/>
<rect x="355.06" y="1253.72" width="19.79" height="18.69" fill="#df2e14"/>
<rect x="203.25" y="1274.31" width="19.79" height="18.69" fill="#df2e14"/>
<rect x="224.94" y="1274.31" width="19.79" height="18.69" fill="#f0603e"/>
<rect x="246.62" y="1274.31" width="19.79" height="18.69" fill="#df2e14"/>
<rect x="268.31" y="1274.31" width="19.79" height="18.69" fill="#df2e14"/>
<rect x="290" y="1274.31" width="19.79" height="18.69" fill="#df2e14"/>
<rect x="311.69" y="1274.31" width="19.79" height="18.69" fill="#df2e14"/>
<rect x="333.38" y="1274.31" width="19.79" height="18.69" fill="#df2e14"/>
<rect x="355.06" y="1274.31" width="19.79" height="18.69" fill="#df2e14"/>
<rect x="203.25" y="1294.9" width="19.79" height="18.69" fill="#df2e14"/>
<rect x="224.94" y="1294.9" width="19.79" height="18.69" fill="#f57758"/>
<rect x="246.62" y="1294.9" width="19.79" height="18.69" fill="#df2e14"/>
<rect x="268.31" y="1294.9" width="19.79" height="18.69" fill="#df2e14"/>
<rect x="290" y="1294.9" width="19.79" height="18.69" fill="#df2e14"/>
<rect x="311.69" y="1294.9" width="19.79" height="18.69" fill="#df2e14"/>
<rect x="333.38" y="1294.9" width="19.79" height="18.69" fill="#df2e14"/>
<rect x="355.06" y="1294.9" width="19.79" height="18.69" fill="#f8896c"/>
<rect x="203.25" y="1315.49" width="19.79" height="18.69" fill="#df2e14"/>
<rect x="224.94" y="1315.49" width="19.79" height="18.69" fill="#df2e14"/>
<rect x="246.62" y="1315.49" width="19.79" height="18.69" fill="#df2e14"/>
<rect x="268.31" y="1315.49" width="19.79" height="18.69" fill="#df2e14"/>
<rect x="290" y="1315.49" width="19.79" height="18.69" fill="#df2e14"/>
<rect x="311.69" y="1315.49" width="19.79" height="18.69" fill="#df2e14"/>
<rect x="333.38" y="1315.49" width="19.79" height="18.69" fill="#df2e14"/>
<rect x="355.06" y="1315.49" width="19.79" height="18.69" fill="#df2e14"/>
<rect x="203.25" y="1336.07" width="19.79" height="18.69" fill="#df2e14"/>
<rect x="224.94" y="1336.07" width="19.79" height="18.69" fill="#df2e14"/>
<rect x="246.62" y="1336.07" width="19.79" height="18.69" fill="#df2e14"/>
<rect x="268.31" y="1336.07" width="19.79" height="18.69" fill="#df2e14"/>
<rect x="290" y="1336.07" width="19.79" height="18.69" fill="#df2e14"/>
<rect x="311.69" y="1336.07" width="19.79" height="18.69" fill="#df2e14"/>
<rect x="333.38" y="1336.07" width="19.79" height="18.69" fill="#df2e14"/>
<rect x="355.06" y="1336.07" width="19.79" height="18.69" fill="#df2e14"/>
<rect x="203.25" y="1356.66" width="19.79" height="18.69" fill="#df2e14"/>
<rect x="224.94" y="1356.66" width="19.79" height="18.69" fill="#df2e14"/>
<rect x="246.62" y="1356.66" width="19.79" height="18.69" fill="#df2e14"/>
<rect x="268.31" y="1356.66" width="19.79" height="18.69" fill="#df2e14"/>
<rect x="290" y="1356.66" width="19.79" height="18.69" fill="#df2e14"/>
<rect x="311.69" y="1356.66" width="19.79" height="18.69" fill="#df2e14"/>
<rect x="333.38" y="1356.66" width="19.79" height="18.69" fill="#df2e14"/>
<rect x="355.06" y="1356.66" width="19.79" height="18.69" fill="#df2e14"/>
<text x="422.9" y="1007.6" font-size="22.8" text-anchor="middle">4dpi</text>
<rect x="376.45" y="1025.35" width="89.4" height="351.9" fill="#0d0d0d"/>
<rect x="378.35" y="1027.25" width="19.98" height="18.69" fill="#f0603e"/>
<rect x="400.22" y="1027.25" width="19.98" height="18.69" fill="#e64225"/>
<rect x="422.1" y="1027.25" width="19.98" height="18.69" fill="#e2381c"/>
<rect x="443.97" y="1027.25" width="19.98" height="18.69" fill="#df2e14"/>
<rect x="378.35" y="1047.84" width="19.98" height="18.69" fill="#df2e14"/>
<rect x="400.22" y="1047.84" width="19.98" height="18.69" fill="#df2e14"/>
<rect x="422.1" y="1047.84" width="19.98" height="18.69" fill="#df2e14"/>
<rect x="443.97" y="1047.84" width="19.98" height="18.69" fill="#df2e14"/>
<rect x="378.35" y="1068.43" width="19.98" height="18.69" fill="#df2e14"/>
<rect x="400.22" y="1068.43" width="19.98" height="18.69" fill="#df2e14"/>
<rect x="422.1" y="1068.43" width="19.98" height="18.69" fill="#df2e14"/>
<rect x="443.97" y="1068.43" width="19.98" height="18.69" fill="#df2e14"/>
<rect x="378.35" y="1089.01" width="19.98" height="18.69" fill="#df2e14"/>
<rect x="400.22" y="1089.01" width="19.98" height="18.69" fill="#df2e14"/>
<rect x="422.1" y="1089.01" width="19.98" height="18.69" fill="#ed5636"/>
<rect x="443.97" y="1089.01" width="19.98" height="18.69" fill="#df2e14"/>
<rect x="378.35" y="1109.6" width="19.98" height="18.69" fill="#df2e14"/>
<rect x="400.22" y="1109.6" width="19.98" height="18.69" fill="#fcb09b"/>
<rect x="422.1" y="1109.6" width="19.98" height="18.69" fill="#fcaa94"/>
<rect x="443.97" y="1109.6" width="19.98" height="18.69" fill="#e2381c"/>
<rect x="378.35" y="1130.19" width="19.98" height="18.69" fill="#df2e14"/>
<rect x="400.22" y="1130.19" width="19.98" height="18.69" fill="#df2e14"/>
<rect x="422.1" y="1130.19" width="19.98" height="18.69" fill="#df2e14"/>
<rect x="443.97" y="1130.19" width="19.98" height="18.69" fill="#df2e14"/>
<rect x="378.35" y="1150.78" width="19.98" height="18.69" fill="#fc9a80"/>
<rect x="400.22" y="1150.78" width="19.98" height="18.69" fill="#fa8e73"/>
<rect x="422.1" y="1150.78" width="19.98" height="18.69" fill="#fcb5a2"/>
<rect x="443.97" y="1150.78" width="19.98" height="18.69" fill="#fc9a80"/>
<rect x="378.35" y="1171.37" width="19.98" height="18.69" fill="#df2e14"/>
<rect x="400.22" y="1171.37" width="19.98" height="18.69" fill="#df2e14"/>
<rect x="422.1" y="1171.37" width="19.98" height="18.69" fill="#f0603e"/>
<rect x="443.97" y="1171.37" width="19.98" height="18.69" fill="#df2e14"/>
<rect x="378.35" y="1191.96" width="19.98" height="18.69" fill="#df2e14"/>
<rect x="400.22" y="1191.96" width="19.98" height="18.69" fill="#e43d21"/>
<rect x="422.1" y="1191.96" width="19.98" height="18.69" fill="#f0603e"/>
<rect x="443.97" y="1191.96" width="19.98" height="18.69" fill="#df2e14"/>
<rect x="378.35" y="1212.54" width="19.98" height="18.69" fill="#df2e14"/>
<rect x="400.22" y="1212.54" width="19.98" height="18.69" fill="#ed5636"/>
<rect x="422.1" y="1212.54" width="19.98" height="18.69" fill="#fcaa94"/>
<rect x="443.97" y="1212.54" width="19.98" height="18.69" fill="#df2e14"/>
<rect x="378.35" y="1233.13" width="19.98" height="18.69" fill="#df2e14"/>
<rect x="400.22" y="1233.13" width="19.98" height="18.69" fill="#e2381c"/>
<rect x="422.1" y="1233.13" width="19.98" height="18.69" fill="#f26c4b"/>
<rect x="443.97" y="1233.13" width="19.98" height="18.69" fill="#df2e14"/>
<rect x="378.35" y="1253.72" width="19.98" height="18.69" fill="#df2e14"/>
<rect x="400.22" y="1253.72" width="19.98" height="18.69" fill="#df2e14"/>
<rect x="422.1" y="1253.72" width="19.98" height="18.69" fill="#fa8e73"/>
<rect x="443.97" y="1253.72" width="19.98" height="18.69" fill="#df2e14"/>
<rect x="378.35" y="1274.31" width="19.98" height="18.69" fill="#e94c2d"/>
<rect x="400.22" y="1274.31" width="19.98" height="18.69" fill="#f0603e"/>
<rect x="422.1" y="1274.31" width="19.98" height="18.69" fill="#fc9a80"/>
<rect x="443.97" y="1274.31" width="19.98" height="18.69" fill="#df2e14"/>
<rect x="378.35" y="1294.9" width="19.98" height="18.69" fill="#fc9a80"/>
<rect x="400.22" y="1294.9" width="19.98" height="18.69" fill="#f67d5f"/>
<rect x="422.1" y="1294.9" width="19.98" height="18.69" fill="#fdd0c4"/>
<rect x="443.97" y="1294.9" width="19.98" height="18.69" fill="#e84729"/>
<rect x="378.35" y="1315.49" width="19.98" height="18.69" fill="#df2e14"/>
<rect x="400.22" y="1315.49" width="19.98" height="18.69" fill="#df2e14"/>
<rect x="422.1" y="1315.49" width="19.98" height="18.69" fill="#f16645"/>
<rect x="443.97" y="1315.49" width="19.98" height="18.69" fill="#df2e14"/>
<rect x="378.35" y="1336.07" width="19.98" height="18.69" fill="#df2e14"/>
<rect x="400.22" y="1336.07" width="19.98" height="18.69" fill="#e64225"/>
<rect x="422.1" y="1336.07" width="19.98" height="18.69" fill="#fc9a80"/>
<rect x="443.97" y="1336.07" width="19.98" height="18.69" fill="#df2e14"/>
<rect x="378.35" y="1356.66" width="19.98" height="18.69" fill="#df2e14"/>
<rect x="400.22" y="1356.66" width="19.98" height="18.69" fill="#df2e14"/>
<rect x="422.1" y="1356.66" width="19.98" height="18.69" fill="#f9dcd5"/>
<rect x="443.97" y="1356.66" width="19.98" height="18.69" fill="#df2e14"/>
<text x="506.5" y="1007.6" font-size="22.8" text-anchor="middle">7dpi</text>
<rect x="466.15" y="1025.35" width="89.2" height="351.9" fill="#0d0d0d"/>
<rect x="468.05" y="1027.25" width="19.92" height="18.69" fill="#f47152"/>
<rect x="489.88" y="1027.25" width="19.92" height="18.69" fill="#fc9f87"/>
<rect x="511.7" y="1027.25" width="19.92" height="18.69" fill="#fc9a80"/>
<rect x="533.53" y="1027.25" width="19.92" height="18.69" fill="#d2b1e8"/>
<rect x="468.05" y="1047.84" width="19.92" height="18.69" fill="#df2e14"/>
<rect x="489.88" y="1047.84" width="19.92" height="18.69" fill="#df2e14"/>
<rect x="511.7" y="1047.84" width="19.92" height="18.69" fill="#df2e14"/>
<rect x="533.53" y="1047.84" width="19.92" height="18.69" fill="#f47152"/>
<rect x="468.05" y="1068.43" width="19.92" height="18.69" fill="#df2e14"/>
<rect x="489.88" y="1068.43" width="19.92" height="18.69" fill="#df2e14"/>
<rect x="511.7" y="1068.43" width="19.92" height="18.69" fill="#df2e14"/>
<rect x="533.53" y="1068.43" width="19.92" height="18.69" fill="#ece0f0"/>
<rect x="468.05" y="1089.01" width="19.92" height="18.69" fill="#f0603e"/>
<rect x="489.88" y="1089.01" width="19.92" height="18.69" fill="#f47152"/>
<rect x="511.7" y="1089.01" width="19.92" height="18.69" fill="#f16645"/>
<rect x="533.53" y="1089.01" width="19.92" height="18.69" fill="#f7e3dd"/>
<rect x="468.05" y="1109.6" width="19.92" height="18.69" fill="#fc9f87"/>
<rect x="489.88" y="1109.6" width="19.92" height="18.69" fill="#f26c4b"/>
<rect x="511.7" y="1109.6" width="19.92" height="18.69" fill="#f57758"/>
<rect x="533.53" y="1109.6" width="19.92" height="18.69" fill="#eee3f0"/>
<rect x="468.05" y="1130.19" width="19.92" height="18.69" fill="#df2e14"/>
<rect x="489.88" y="1130.19" width="19.92" height="18.69" fill="#df2e14"/>
<rect x="511.7" y="1130.19" width="19.92" height="18.69" fill="#df2e14"/>
<rect x="533.53" y="1130.19" width="19.92" height="18.69" fill="#fdcbbd"/>
<rect x="468.05" y="1150.78" width="19.92" height="18.69" fill="#fdd0c4"/>
<rect x="489.88" y="1150.78" width="19.92" height="18.69" fill="#f57758"/>
<rect x="511.7" y="1150.78" width="19.92" height="18.69" fill="#f26c4b"/>
<rect x="533.53" y="1150.78" width="19.92" height="18.69" fill="#ebdcf0"/>
<rect x="468.05" y="1171.37" width="19.92" height="18.69" fill="#f78366"/>
<rect x="489.88" y="1171.37" width="19.92" height="18.69" fill="#eb5131"/>
<rect x="511.7" y="1171.37" width="19.92" height="18.69" fill="#e2381c"/>
<rect x="533.53" y="1171.37" width="19.92" height="18.69" fill="#f5e9e6"/>
<rect x="468.05" y="1191.96" width="19.92" height="18.69" fill="#f16645"/>
<rect x="489.88" y="1191.96" width="19.92" height="18.69" fill="#f57758"/>
<rect x="511.7" y="1191.96" width="19.92" height="18.69" fill="#f57758"/>
<rect x="533.53" y="1191.96" width="19.92" height="18.69" fill="#e6d0f2"/>
<rect x="468.05" y="1212.54" width="19.92" height="18.69" fill="#fc9a80"/>
<rect x="489.88" y="1212.54" width="19.92" height="18.69" fill="#f78366"/>
<rect x="511.7" y="1212.54" width="19.92" height="18.69" fill="#f57758"/>
<rect x="533.53" y="1212.54" width="19.92" height="18.69" fill="#e9d6f1"/>
<rect x="468.05" y="1233.13" width="19.92" height="18.69" fill="#e94c2d"/>
<rect x="489.88" y="1233.13" width="19.92" height="18.69" fill="#ed5636"/>
<rect x="511.7" y="1233.13" width="19.92" height="18.69" fill="#f0603e"/>
<rect x="533.53" y="1233.13" width="19.92" height="18.69" fill="#ead9f1"/>
<rect x="468.05" y="1253.72" width="19.92" height="18.69" fill="#f26c4b"/>
<rect x="489.88" y="1253.72" width="19.92" height="18.69" fill="#df2e14"/>
<rect x="511.7" y="1253.72" width="19.92" height="18.69" fill="#df2e14"/>
<rect x="533.53" y="1253.72" width="19.92" height="18.69" fill="#f3efee"/>
<rect x="468.05" y="1274.31" width="19.92" height="18.69" fill="#fc9a80"/>
<rect x="489.88" y="1274.31" width="19.92" height="18.69" fill="#fc9a80"/>
<rect x="511.7" y="1274.31" width="19.92" height="18.69" fill="#fa8e73"/>
<rect x="533.53" y="1274.31" width="19.92" height="18.69" fill="#e9d6f1"/>
<rect x="468.05" y="1294.9" width="19.92" height="18.69" fill="#f7e3dd"/>
<rect x="489.88" y="1294.9" width="19.92" height="18.69" fill="#fdd0c4"/>
<rect x="511.7" y="1294.9" width="19.92" height="18.69" fill="#fdc0b0"/>
<rect x="533.53" y="1294.9" width="19.92" height="18.69" fill="#eee3f0"/>
<rect x="468.05" y="1315.49" width="19.92" height="18.69" fill="#e94c2d"/>
<rect x="489.88" y="1315.49" width="19.92" height="18.69" fill="#ed5636"/>
<rect x="511.7" y="1315.49" width="19.92" height="18.69" fill="#eb5131"/>
<rect x="533.53" y="1315.49" width="19.92" height="18.69" fill="#e6d0f2"/>
<rect x="468.05" y="1336.07" width="19.92" height="18.69" fill="#e2381c"/>
<rect x="489.88" y="1336.07" width="19.92" height="18.69" fill="#f26c4b"/>
<rect x="511.7" y="1336.07" width="19.92" height="18.69" fill="#f26c4b"/>
<rect x="533.53" y="1336.07" width="19.92" height="18.69" fill="#f9dcd5"/>
<rect x="468.05" y="1356.66" width="19.92" height="18.69" fill="#fc9a80"/>
<rect x="489.88" y="1356.66" width="19.92" height="18.69" fill="#df2e14"/>
<rect x="511.7" y="1356.66" width="19.92" height="18.69" fill="#df2e14"/>
<rect x="533.53" y="1356.66" width="19.92" height="18.69" fill="#e2caf0"/>
<text x="597.8" y="1007.6" font-size="22.8" text-anchor="middle">10/11dpi</text>
<rect x="555.35" y="1025.35" width="89.3" height="351.9" fill="#0d0d0d"/>
<rect x="557.25" y="1027.25" width="19.95" height="18.69" fill="#fbd6cc"/>
<rect x="579.1" y="1027.25" width="19.95" height="18.69" fill="#ead9f1"/>
<rect x="600.95" y="1027.25" width="19.95" height="18.69" fill="#fcb09b"/>
<rect x="622.8" y="1027.25" width="19.95" height="18.69" fill="#e6d0f2"/>
<rect x="557.25" y="1047.84" width="19.95" height="18.69" fill="#df2e14"/>
<rect x="579.1" y="1047.84" width="19.95" height="18.69" fill="#df2e14"/>
<rect x="600.95" y="1047.84" width="19.95" height="18.69" fill="#df2e14"/>
<rect x="622.8" y="1047.84" width="19.95" height="18.69" fill="#df2e14"/>
<rect x="557.25" y="1068.43" width="19.95" height="18.69" fill="#fdc5b6"/>
<rect x="579.1" y="1068.43" width="19.95" height="18.69" fill="#e94c2d"/>
<rect x="600.95" y="1068.43" width="19.95" height="18.69" fill="#df2e14"/>
<rect x="622.8" y="1068.43" width="19.95" height="18.69" fill="#f2ecee"/>
<rect x="557.25" y="1089.01" width="19.95" height="18.69" fill="#ebdcf0"/>
<rect x="579.1" y="1089.01" width="19.95" height="18.69" fill="#cdabe6"/>
<rect x="600.95" y="1089.01" width="19.95" height="18.69" fill="#fbd6cc"/>
<rect x="622.8" y="1089.01" width="19.95" height="18.69" fill="#ece0f0"/>
<rect x="557.25" y="1109.6" width="19.95" height="18.69" fill="#fc9a80"/>
<rect x="579.1" y="1109.6" width="19.95" height="18.69" fill="#fa8e73"/>
<rect x="600.95" y="1109.6" width="19.95" height="18.69" fill="#fcaa94"/>
<rect x="622.8" y="1109.6" width="19.95" height="18.69" fill="#f6e6e1"/>
<rect x="557.25" y="1130.19" width="19.95" height="18.69" fill="#fdd0c4"/>
<rect x="579.1" y="1130.19" width="19.95" height="18.69" fill="#fc9a80"/>
<rect x="600.95" y="1130.19" width="19.95" height="18.69" fill="#fa8e73"/>
<rect x="622.8" y="1130.19" width="19.95" height="18.69" fill="#fcb09b"/>
<rect x="557.25" y="1150.78" width="19.95" height="18.69" fill="#a57bd0"/>
<rect x="579.1" y="1150.78" width="19.95" height="18.69" fill="#f3efee"/>
<rect x="600.95" y="1150.78" width="19.95" height="18.69" fill="#fbd6cc"/>
<rect x="622.8" y="1150.78" width="19.95" height="18.69" fill="#dec4ee"/>
<rect x="557.25" y="1171.37" width="19.95" height="18.69" fill="#e6d0f2"/>
<rect x="579.1" y="1171.37" width="19.95" height="18.69" fill="#d2b1e8"/>
<rect x="600.95" y="1171.37" width="19.95" height="18.69" fill="#fdcbbd"/>
<rect x="622.8" y="1171.37" width="19.95" height="18.69" fill="#e7d3f2"/>
<rect x="557.25" y="1191.96" width="19.95" height="18.69" fill="#8259bb"/>
<rect x="579.1" y="1191.96" width="19.95" height="18.69" fill="#ebdcf0"/>
<rect x="600.95" y="1191.96" width="19.95" height="18.69" fill="#fcaa94"/>
<rect x="622.8" y="1191.96" width="19.95" height="18.69" fill="#cdabe6"/>
<rect x="557.25" y="1212.54" width="19.95" height="18.69" fill="#8e64c2"/>
<rect x="579.1" y="1212.54" width="19.95" height="18.69" fill="#cdabe6"/>
<rect x="600.95" y="1212.54" width="19.95" height="18.69" fill="#fdcbbd"/>
<rect x="622.8" y="1212.54" width="19.95" height="18.69" fill="#e6d0f2"/>
<rect x="557.25" y="1233.13" width="19.95" height="18.69" fill="#f2ecee"/>
<rect x="579.1" y="1233.13" width="19.95" height="18.69" fill="#dec4ee"/>
<rect x="600.95" y="1233.13" width="19.95" height="18.69" fill="#fb9479"/>
<rect x="622.8" y="1233.13" width="19.95" height="18.69" fill="#d6b7ea"/>
<rect x="557.25" y="1253.72" width="19.95" height="18.69" fill="#fbd6cc"/>
<rect x="579.1" y="1253.72" width="19.95" height="18.69" fill="#fdcbbd"/>
<rect x="600.95" y="1253.72" width="19.95" height="18.69" fill="#fca58e"/>
<rect x="622.8" y="1253.72" width="19.95" height="18.69" fill="#f2ecee"/>
<rect x="557.25" y="1274.31" width="19.95" height="18.69" fill="#e6d0f2"/>
<rect x="579.1" y="1274.31" width="19.95" height="18.69" fill="#c9a5e4"/>
<rect x="600.95" y="1274.31" width="19.95" height="18.69" fill="#fdd0c4"/>
<rect x="622.8" y="1274.31" width="19.95" height="18.69" fill="#ead9f1"/>
<rect x="557.25" y="1294.9" width="19.95" height="18.69" fill="#c9a5e4"/>
<rect x="579.1" y="1294.9" width="19.95" height="18.69" fill="#454aa6"/>
<rect x="600.95" y="1294.9" width="19.95" height="18.69" fill="#ead9f1"/>
<rect x="622.8" y="1294.9" width="19.95" height="18.69" fill="#dabdec"/>
<rect x="557.25" y="1315.49" width="19.95" height="18.69" fill="#fdc5b6"/>
<rect x="579.1" y="1315.49" width="19.95" height="18.69" fill="#fca58e"/>
<rect x="600.95" y="1315.49" width="19.95" height="18.69" fill="#f57758"/>
<rect x="622.8" y="1315.49" width="19.95" height="18.69" fill="#e2caf0"/>
<rect x="557.25" y="1336.07" width="19.95" height="18.69" fill="#c9a5e4"/>
<rect x="579.1" y="1336.07" width="19.95" height="18.69" fill="#fcaa94"/>
<rect x="600.95" y="1336.07" width="19.95" height="18.69" fill="#f67d5f"/>
<rect x="622.8" y="1336.07" width="19.95" height="18.69" fill="#eee3f0"/>
<rect x="557.25" y="1356.66" width="19.95" height="18.69" fill="#7656b7"/>
<rect x="579.1" y="1356.66" width="19.95" height="18.69" fill="#e7d3f2"/>
<rect x="600.95" y="1356.66" width="19.95" height="18.69" fill="#fcb09b"/>
<rect x="622.8" y="1356.66" width="19.95" height="18.69" fill="#eee3f0"/>
<text x="652" y="1043.99" font-size="19.9" letter-spacing="0.85">IFI6</text>
<text x="652" y="1064.58" font-size="19.9" letter-spacing="0.85">IFI27</text>
<text x="652" y="1085.17" font-size="19.9" letter-spacing="0.85">ISG15</text>
<text x="652" y="1105.76" font-size="19.9" letter-spacing="0.85">MX1</text>
<text x="652" y="1126.35" font-size="19.9" letter-spacing="0.85">ISG20</text>
<text x="652" y="1146.94" font-size="19.9" letter-spacing="0.85">MX2</text>
<text x="652" y="1167.52" font-size="19.9" letter-spacing="0.85">STAT1</text>
<text x="652" y="1188.11" font-size="19.9" letter-spacing="0.85">OAS2</text>
<text x="652" y="1208.7" font-size="19.9" letter-spacing="0.85">IFIT3</text>
<text x="652" y="1229.29" font-size="19.9" letter-spacing="0.85">IFIT2</text>
<text x="652" y="1249.88" font-size="19.9" letter-spacing="0.85">IFI44L</text>
<text x="652" y="1270.46" font-size="19.9" letter-spacing="0.85">IRF7</text>
<text x="652" y="1291.05" font-size="19.9" letter-spacing="0.85">OAS1</text>
<text x="652" y="1311.64" font-size="19.9" letter-spacing="0.85">OAS3</text>
<text x="652" y="1332.23" font-size="19.9" letter-spacing="0.85">RSAD2</text>
<text x="652" y="1352.82" font-size="19.9" letter-spacing="0.85">IFIT5</text>
<text x="652" y="1373.41" font-size="19.9" letter-spacing="0.85">CXCL10</text>
<text x="717.9" y="958.9" font-size="20.7">log2 FC</text>
<rect x="726.1" y="966.2" width="31.8" height="138.9" rx="1" fill="url(#fcg)"/>
<text x="776.4" y="976.9" font-size="19.5" text-anchor="end">2</text>
<text x="776.4" y="1009.35" font-size="19.5" text-anchor="end">1</text>
<text x="776.4" y="1041.8" font-size="19.5" text-anchor="end">0</text>
<text x="776.4" y="1074.25" font-size="19.5" text-anchor="end">-1</text>
<text x="776.4" y="1106.7" font-size="19.5" text-anchor="end">-2</text>
<path d="M749.2 970H757.9M749.2 1002.45H757.9M749.2 1034.9H757.9M749.2 1067.35H757.9M749.2 1099.8H757.9" stroke="#fff" stroke-width="2.6" stroke-linecap="round"/>
</g>
<g>
<text x="835.8" y="961.4" font-size="39.5" font-weight="bold">c</text>
<text x="835.2" y="1288.6" font-size="39.5" font-weight="bold">d</text>
<text x="1447.2" y="933.7" font-size="26.7" text-anchor="middle" font-weight="bold">BAL</text>
<text x="1449.8" y="1276.7" font-size="26.7" text-anchor="middle" font-weight="bold">PLASMA</text>
<g>
<text x="955.5" y="979.4" font-size="23" text-anchor="middle">IL-6</text>
<path d="M893.3 1174.5H927" stroke="#f87171" stroke-width="1.6"/>
<path d="M943.5 1148.7H977.7" stroke="#f87171" stroke-width="1.6"/>
<path d="M994.2 1127.3H1028.3" stroke="#f87171" stroke-width="1.6"/>
<path d="M876.3 1010.5V1180.3M869.1 1180.3H1045.9M876.3 1011.2H869.1M876.3 1045H869.1M876.3 1078.8H869.1M876.3 1112.7H869.1M876.3 1146.5H869.1M876.3 1180.3H869.1M908.9 1180.3v7.2M960.1 1180.3v7.2M1011.2 1180.3v7.2" stroke="#000" stroke-width="1.65" fill="none"/>
<text x="866.6" y="1018.1" font-size="19.3" text-anchor="end">10</text>
<text x="863" y="1051.9" font-size="19.3" text-anchor="end">8</text>
<text x="863" y="1085.7" font-size="19.3" text-anchor="end">6</text>
<text x="863" y="1119.6" font-size="19.3" text-anchor="end">4</text>
<text x="863" y="1153.4" font-size="19.3" text-anchor="end">2</text>
<text x="863" y="1187.2" font-size="19.3" text-anchor="end">0</text>
<text x="910.2" y="1207.5" font-size="19.3" text-anchor="middle">-5</text>
<text x="959.8" y="1207.5" font-size="19.3" text-anchor="middle">2</text>
<text x="1009.9" y="1207.5" font-size="19.3" text-anchor="middle">4</text>
<text x="962.3" y="1230.5" font-size="20.1" text-anchor="middle">DPI</text>
<text transform="translate(839.4,1088) rotate(-90)" font-size="19.3" text-anchor="middle">pg/mL</text>
<circle cx="904.8" cy="1158.6" r="3.6" fill="#25387f"/>
<path d="M915.2 1161.3L918.5 1167.4L911.9 1167.4Z" fill="#fff" stroke="#25387f" stroke-width="1.6"/>
<path d="M902 1175L905.7 1181.7L898.3 1181.7Z" fill="#25387f"/>
<path d="M904.8 1174.05L908.55 1177.8L904.8 1181.55L901.05 1177.8Z" fill="#25387f"/>
<rect x="903.25" y="1177.95" width="6.3" height="6.3" fill="#fff" stroke="#25387f" stroke-width="1.6"/>
<rect x="909.65" y="1176.65" width="6.7" height="6.7" fill="#25387f"/>
<path d="M915.2 1173.65L918.55 1177L915.2 1180.35L911.85 1177Z" fill="#fff" stroke="#25387f" stroke-width="1.6"/>
<circle cx="918.8" cy="1178.6" r="3.15" fill="#fff" stroke="#25387f" stroke-width="1.6"/>
<path d="M960.5 1091.65L963.85 1095L960.5 1098.35L957.15 1095Z" fill="#fff" stroke="#25387f" stroke-width="1.6"/>
<path d="M960.5 1132.1L963.8 1138.2L957.2 1138.2Z" fill="#fff" stroke="#25387f" stroke-width="1.6"/>
<rect x="952.15" y="1150.55" width="6.7" height="6.7" fill="#25387f"/>
<rect x="962.95" y="1153.55" width="6.3" height="6.3" fill="#fff" stroke="#25387f" stroke-width="1.6"/>
<path d="M955.5 1173.3L959.2 1180L951.8 1180Z" fill="#25387f"/>
<path d="M966.1 1172.75L969.85 1176.5L966.1 1180.25L962.35 1176.5Z" fill="#25387f"/>
<circle cx="1011.3" cy="1051.2" r="3.6" fill="#25387f"/>
<rect x="1003.05" y="1141.55" width="6.7" height="6.7" fill="#25387f"/>
<path d="M1016.4 1145.75L1020.15 1149.5L1016.4 1153.25L1012.65 1149.5Z" fill="#25387f"/>
<path d="M1011.3 1161.8L1015 1168.5L1007.6 1168.5Z" fill="#25387f"/>
<path d="M904.3 1013.5H953.7" stroke="#000" stroke-width="2"/>
<text x="929.2" y="1016.3" font-size="18.5" text-anchor="middle">*</text>
</g>
<g>
<text x="1200.1" y="979.9" font-size="23" text-anchor="middle">IP-10</text>
<path d="M1136 1176.7H1170.1" stroke="#f87171" stroke-width="1.6"/>
<path d="M1187 1127.6H1221.1" stroke="#f87171" stroke-width="1.6"/>
<path d="M1238.1 1159H1272.2" stroke="#f87171" stroke-width="1.6"/>
<path d="M1119 1010.8V1181.9M1112 1181.9H1290.3M1119 1011.5H1112M1119 1068.3H1112M1119 1125.1H1112M1119 1181.9H1112M1152.3 1181.9v7.2M1203.5 1181.9v7.2M1254.9 1181.9v7.2" stroke="#000" stroke-width="1.65" fill="none"/>
<text x="1108" y="1018.4" font-size="19.3" text-anchor="end">3000</text>
<text x="1108" y="1075.2" font-size="19.3" text-anchor="end">2000</text>
<text x="1108" y="1132" font-size="19.3" text-anchor="end">1000</text>
<text x="1097.2" y="1188.8" font-size="19.3" text-anchor="end">0</text>
<text x="1153.1" y="1209.4" font-size="19.3" text-anchor="middle">-5</text>
<text x="1203" y="1209.4" font-size="19.3" text-anchor="middle">2</text>
<text x="1253.7" y="1209.4" font-size="19.3" text-anchor="middle">4</text>
<text x="1205.5" y="1233" font-size="20.1" text-anchor="middle">DPI</text>
<text transform="translate(1059.8,1089.4) rotate(-90)" font-size="19.3" text-anchor="middle">pg/mL</text>
<path d="M1152.8 1160.15L1156.15 1163.5L1152.8 1166.85L1149.45 1163.5Z" fill="#fff" stroke="#25387f" stroke-width="1.6"/>
<path d="M1140.4 1172.5L1143.7 1178.6L1137.1 1178.6Z" fill="#fff" stroke="#25387f" stroke-width="1.6"/>
<circle cx="1148.7" cy="1177.8" r="3.15" fill="#fff" stroke="#25387f" stroke-width="1.6"/>
<rect x="1147.15" y="1177.15" width="6.3" height="6.3" fill="#fff" stroke="#25387f" stroke-width="1.6"/>
<rect x="1150.45" y="1179.65" width="6.3" height="6.3" fill="#fff" stroke="#25387f" stroke-width="1.6"/>
<rect x="1155.25" y="1174.45" width="6.7" height="6.7" fill="#25387f"/>
<path d="M1161 1175.5L1164.7 1182.2L1157.3 1182.2Z" fill="#25387f"/>
<path d="M1157 1176.75L1160.75 1180.5L1157 1184.25L1153.25 1180.5Z" fill="#25387f"/>
<circle cx="1165.1" cy="1175.8" r="3.6" fill="#25387f"/>
<path d="M1204 1021.65L1207.35 1025L1204 1028.35L1200.65 1025Z" fill="#fff" stroke="#25387f" stroke-width="1.6"/>
<rect x="1195.75" y="1123.15" width="6.3" height="6.3" fill="#fff" stroke="#25387f" stroke-width="1.6"/>
<path d="M1209.3 1125.9L1212.6 1132L1206 1132Z" fill="#fff" stroke="#25387f" stroke-width="1.6"/>
<rect x="1200.65" y="1140.75" width="6.7" height="6.7" fill="#25387f"/>
<path d="M1204 1159.5L1207.7 1166.2L1200.3 1166.2Z" fill="#25387f"/>
<path d="M1204 1175.75L1207.75 1179.5L1204 1183.25L1200.25 1179.5Z" fill="#25387f"/>
<circle cx="1255.2" cy="1134.7" r="3.6" fill="#25387f"/>
<rect x="1251.55" y="1159.15" width="6.7" height="6.7" fill="#25387f"/>
<path d="M1260.3 1162.55L1264.05 1166.3L1260.3 1170.05L1256.55 1166.3Z" fill="#25387f"/>
<path d="M1249.9 1170.2L1253.6 1176.9L1246.2 1176.9Z" fill="#25387f"/>
<path d="M1151.5 1014.3H1201" stroke="#000" stroke-width="2"/>
<text x="1176.3" y="1017.1" font-size="18.5" text-anchor="middle">*</text>
</g>
<g>
<text x="1457.1" y="980.7" font-size="23" text-anchor="middle">MCP-1</text>
<path d="M1398.3 1170.7H1432.1" stroke="#f87171" stroke-width="1.6"/>
<path d="M1449 1157.6H1483.3" stroke="#f87171" stroke-width="1.6"/>
<path d="M1500.1 1177.8H1534.3" stroke="#f87171" stroke-width="1.6"/>
<path d="M1381.2 1011.6V1182.8M1374.1 1182.8H1551.9M1381.2 1012.3H1374.1M1381.2 1054.9H1374.1M1381.2 1097.6H1374.1M1381.2 1140.2H1374.1M1381.2 1182.8H1374.1M1414.8 1182.8v7.2M1466 1182.8v7.2M1517.4 1182.8v7.2" stroke="#000" stroke-width="1.65" fill="none"/>
<text x="1370.5" y="1019.2" font-size="19.3" text-anchor="end">4000</text>
<text x="1370.5" y="1061.8" font-size="19.3" text-anchor="end">3000</text>
<text x="1370.5" y="1104.5" font-size="19.3" text-anchor="end">2000</text>
<text x="1370.5" y="1147.1" font-size="19.3" text-anchor="end">1000</text>
<text x="1359.7" y="1189.7" font-size="19.3" text-anchor="end">0</text>
<text x="1415.3" y="1209.9" font-size="19.3" text-anchor="middle">-5</text>
<text x="1465.2" y="1209.9" font-size="19.3" text-anchor="middle">2</text>
<text x="1515.7" y="1209.9" font-size="19.3" text-anchor="middle">4</text>
<text x="1467.6" y="1234.3" font-size="20.1" text-anchor="middle">DPI</text>
<text transform="translate(1319.4,1085.6) rotate(-90)" font-size="19.3" text-anchor="middle">pg/mL</text>
<text transform="translate(1405.4,1090.5) rotate(-90)" font-size="19.3" text-anchor="middle">pg/mL</text>
<circle cx="1415.3" cy="1142.1" r="3.15" fill="#fff" stroke="#25387f" stroke-width="1.6"/>
<circle cx="1425.5" cy="1162.7" r="3.6" fill="#25387f"/>
<path d="M1404.9 1162.6L1408.2 1168.7L1401.6 1168.7Z" fill="#fff" stroke="#25387f" stroke-width="1.6"/>
<rect x="1412.15" y="1168.95" width="6.3" height="6.3" fill="#fff" stroke="#25387f" stroke-width="1.6"/>
<path d="M1402.4 1176.95L1405.75 1180.3L1402.4 1183.65L1399.05 1180.3Z" fill="#fff" stroke="#25387f" stroke-width="1.6"/>
<path d="M1428.1 1175.35L1431.85 1179.1L1428.1 1182.85L1424.35 1179.1Z" fill="#25387f"/>
<path d="M1410.7 1179.6L1414.4 1186.3L1407 1186.3Z" fill="#25387f"/>
<rect x="1416.35" y="1179.05" width="6.7" height="6.7" fill="#25387f"/>
<rect x="1463.15" y="1044.25" width="6.3" height="6.3" fill="#fff" stroke="#25387f" stroke-width="1.6"/>
<path d="M1454.3 1169.7L1457.6 1175.8L1451 1175.8Z" fill="#fff" stroke="#25387f" stroke-width="1.6"/>
<rect x="1457.15" y="1176.95" width="6.7" height="6.7" fill="#25387f"/>
<path d="M1466.3 1179.35L1470.05 1183.1L1466.3 1186.85L1462.55 1183.1Z" fill="#25387f"/>
<path d="M1472.1 1179.05L1475.45 1182.4L1472.1 1185.75L1468.75 1182.4Z" fill="#fff" stroke="#25387f" stroke-width="1.6"/>
<path d="M1478.2 1176L1481.9 1182.7L1474.5 1182.7Z" fill="#25387f"/>
<circle cx="1517.4" cy="1167.9" r="3.6" fill="#25387f"/>
<path d="M1507.5 1177.1L1511.2 1183.8L1503.8 1183.8Z" fill="#25387f"/>
<rect x="1514.05" y="1179.45" width="6.7" height="6.7" fill="#25387f"/>
<path d="M1527.7 1177.05L1531.45 1180.8L1527.7 1184.55L1523.95 1180.8Z" fill="#25387f"/>
</g>
<g>
<text x="1677" y="980.2" font-size="23" text-anchor="middle">MCP-2</text>
<path d="M1616.9 1167.4H1651.1" stroke="#f87171" stroke-width="1.6"/>
<path d="M1668.1 1129.6H1702.2" stroke="#f87171" stroke-width="1.6"/>
<path d="M1719.2 1173.7H1753.6" stroke="#f87171" stroke-width="1.6"/>
<path d="M1600.4 1011.3V1182.4M1593 1182.4H1771M1600.4 1012H1593M1600.4 1054.6H1593M1600.4 1097.2H1593M1600.4 1139.8H1593M1600.4 1182.4H1593M1633.5 1182.4v7.2M1684.9 1182.4v7.2M1736 1182.4v7.2" stroke="#000" stroke-width="1.65" fill="none"/>
<text x="1586.9" y="1018.9" font-size="19.3" text-anchor="end">4</text>
<text x="1586.9" y="1061.5" font-size="19.3" text-anchor="end">3</text>
<text x="1586.9" y="1104.1" font-size="19.3" text-anchor="end">2</text>
<text x="1586.9" y="1146.7" font-size="19.3" text-anchor="end">1</text>
<text x="1586.9" y="1189.3" font-size="19.3" text-anchor="end">0</text>
<text x="1634.2" y="1209.9" font-size="19.3" text-anchor="middle">-5</text>
<text x="1684.2" y="1209.9" font-size="19.3" text-anchor="middle">2</text>
<text x="1735.1" y="1209.9" font-size="19.3" text-anchor="middle">4</text>
<text x="1686.9" y="1233.3" font-size="20.1" text-anchor="middle">DPI</text>
<text transform="translate(1569.6,1089.7) rotate(-90)" font-size="19.3" text-anchor="middle">pg/mL</text>
<circle cx="1623.6" cy="1161.3" r="3.6" fill="#25387f"/>
<path d="M1628.9 1151.05L1632.65 1154.8L1628.9 1158.55L1625.15 1154.8Z" fill="#25387f"/>
<path d="M1639.1 1149.4L1642.4 1155.5L1635.8 1155.5Z" fill="#fff" stroke="#25387f" stroke-width="1.6"/>
<rect x="1641.05" y="1157.55" width="6.7" height="6.7" fill="#25387f"/>
<circle cx="1633.9" cy="1167.4" r="3.15" fill="#fff" stroke="#25387f" stroke-width="1.6"/>
<path d="M1623.6 1175.65L1626.95 1179L1623.6 1182.35L1620.25 1179Z" fill="#fff" stroke="#25387f" stroke-width="1.6"/>
<rect x="1630.75" y="1179.95" width="6.3" height="6.3" fill="#fff" stroke="#25387f" stroke-width="1.6"/>
<path d="M1644.4 1177.4L1648.1 1184.1L1640.7 1184.1Z" fill="#25387f"/>
<path d="M1684.9 1047.65L1688.25 1051L1684.9 1054.35L1681.55 1051Z" fill="#fff" stroke="#25387f" stroke-width="1.6"/>
<path d="M1684.9 1061.8L1688.2 1067.9L1681.6 1067.9Z" fill="#fff" stroke="#25387f" stroke-width="1.6"/>
<path d="M1684.9 1149.35L1688.65 1153.1L1684.9 1156.85L1681.15 1153.1Z" fill="#25387f"/>
<rect x="1676.45" y="1155.25" width="6.3" height="6.3" fill="#fff" stroke="#25387f" stroke-width="1.6"/>
<rect x="1686.85" y="1164.95" width="6.7" height="6.7" fill="#25387f"/>
<path d="M1684.9 1179.1L1688.6 1185.8L1681.2 1185.8Z" fill="#25387f"/>
<circle cx="1736.3" cy="1163" r="3.6" fill="#25387f"/>
<path d="M1726.1 1170.75L1729.85 1174.5L1726.1 1178.25L1722.35 1174.5Z" fill="#25387f"/>
<rect x="1743.15" y="1171.55" width="6.7" height="6.7" fill="#25387f"/>
<path d="M1736 1179.1L1739.7 1185.8L1732.3 1185.8Z" fill="#25387f"/>
</g>
<g>
<text x="1900.6" y="975.3" font-size="23" text-anchor="middle">IFNa2</text>
<path d="M1841.4 1171.9H1875.7" stroke="#f87171" stroke-width="1.6"/>
<path d="M1893 1134.2H1927" stroke="#f87171" stroke-width="1.6"/>
<path d="M1944 1174.5H1977.8" stroke="#f87171" stroke-width="1.6"/>
<path d="M1825 1006.7V1177.5M1817.7 1177.5H1995.9M1825 1007.4H1817.7M1825 1049.9H1817.7M1825 1092.5H1817.7M1825 1135H1817.7M1825 1177.5H1817.7M1858.7 1177.5v7.2M1909.8 1177.5v7.2M1961 1177.5v7.2" stroke="#000" stroke-width="1.65" fill="none"/>
<text x="1814.3" y="1014.3" font-size="19.3" text-anchor="end">40</text>
<text x="1814.3" y="1056.8" font-size="19.3" text-anchor="end">30</text>
<text x="1814.3" y="1099.4" font-size="19.3" text-anchor="end">20</text>
<text x="1814.3" y="1141.9" font-size="19.3" text-anchor="end">10</text>
<text x="1810.7" y="1184.4" font-size="19.3" text-anchor="end">0</text>
<text x="1858.7" y="1205.3" font-size="19.3" text-anchor="middle">-5</text>
<text x="1908.6" y="1205.3" font-size="19.3" text-anchor="middle">2</text>
<text x="1959.6" y="1205.3" font-size="19.3" text-anchor="middle">4</text>
<text x="1911.4" y="1228.9" font-size="20.1" text-anchor="middle">DPI</text>
<text transform="translate(1788.1,1085.1) rotate(-90)" font-size="19.3" text-anchor="middle">pg/mL</text>
<rect x="1844.85" y="1162.45" width="6.7" height="6.7" fill="#25387f"/>
<circle cx="1858.7" cy="1166.6" r="3.6" fill="#25387f"/>
<path d="M1869.1 1162.1L1872.4 1168.2L1865.8 1168.2Z" fill="#fff" stroke="#25387f" stroke-width="1.6"/>
<path d="M1846.4 1168.35L1850.15 1172.1L1846.4 1175.85L1842.65 1172.1Z" fill="#25387f"/>
<path d="M1871.1 1169.15L1874.45 1172.5L1871.1 1175.85L1867.75 1172.5Z" fill="#fff" stroke="#25387f" stroke-width="1.6"/>
<rect x="1849.45" y="1175.45" width="6.3" height="6.3" fill="#fff" stroke="#25387f" stroke-width="1.6"/>
<circle cx="1860" cy="1178.1" r="3.15" fill="#fff" stroke="#25387f" stroke-width="1.6"/>
<path d="M1865 1174.6L1868.7 1181.3L1861.3 1181.3Z" fill="#25387f"/>
<path d="M1909.9 1044.9L1913.2 1051L1906.6 1051Z" fill="#fff" stroke="#25387f" stroke-width="1.6"/>
<path d="M1909.9 1065.45L1913.25 1068.8L1909.9 1072.15L1906.55 1068.8Z" fill="#fff" stroke="#25387f" stroke-width="1.6"/>
<path d="M1904.8 1162.85L1908.55 1166.6L1904.8 1170.35L1901.05 1166.6Z" fill="#25387f"/>
<rect x="1911.85" y="1163.75" width="6.7" height="6.7" fill="#25387f"/>
<rect x="1901.35" y="1175.45" width="6.3" height="6.3" fill="#fff" stroke="#25387f" stroke-width="1.6"/>
<path d="M1915.2 1174.6L1918.9 1181.3L1911.5 1181.3Z" fill="#25387f"/>
<path d="M1961 1159.8L1964.7 1166.5L1957.3 1166.5Z" fill="#25387f"/>
<circle cx="1950.9" cy="1178.1" r="3.6" fill="#25387f"/>
<path d="M1961 1174.55L1964.75 1178.3L1961 1182.05L1957.25 1178.3Z" fill="#25387f"/>
<rect x="1968.15" y="1174.75" width="6.7" height="6.7" fill="#25387f"/>
<path d="M1843.2 1009H1893" stroke="#000" stroke-width="2"/>
<text x="1866.3" y="1002.4" font-size="19" text-anchor="middle">0.1</text>
</g>
<g>
<text x="952.3" y="1321" font-size="23" text-anchor="middle">IL-6</text>
<path d="M889.5 1493.4H915.9" stroke="#f87171" stroke-width="1.6"/>
<path d="M928.8 1487.4H955.3" stroke="#f87171" stroke-width="1.6"/>
<path d="M968.2 1482.3H994.6" stroke="#f87171" stroke-width="1.6"/>
<path d="M1007.6 1481.5H1033.8" stroke="#f87171" stroke-width="1.6"/>
<path d="M876.9 1346.4V1517.9M869.9 1517.9H1047.5M876.9 1347.1H869.9M876.9 1389.8H869.9M876.9 1432.5H869.9M876.9 1475.2H869.9M876.9 1517.9H869.9M902.8 1517.9v7.2M942 1517.9v7.2M981.3 1517.9v7.2M1020.7 1517.9v7.2" stroke="#000" stroke-width="1.65" fill="none"/>
<text x="867.2" y="1354" font-size="19.3" text-anchor="end">20</text>
<text x="867.2" y="1396.7" font-size="19.3" text-anchor="end">15</text>
<text x="867.2" y="1439.4" font-size="19.3" text-anchor="end">10</text>
<text x="863.6" y="1482.1" font-size="19.3" text-anchor="end">5</text>
<text x="863.6" y="1524.8" font-size="19.3" text-anchor="end">0</text>
<text x="901.4" y="1547.4" font-size="19.3" text-anchor="middle">-5</text>
<text x="939.9" y="1547.4" font-size="19.3" text-anchor="middle">1</text>
<text x="978.9" y="1547.4" font-size="19.3" text-anchor="middle">2</text>
<text x="1017.7" y="1547.4" font-size="19.3" text-anchor="middle">4</text>
<text x="957.4" y="1570.7" font-size="20.1" text-anchor="middle">DPI</text>
<text transform="translate(839.2,1425.5) rotate(-90)" font-size="19.3" text-anchor="middle">pg/mL</text>
<path d="M902.8 1408.4L906.5 1415.1L899.1 1415.1Z" fill="#25387f"/>
<path d="M910.6 1487.9L913.9 1494L907.3 1494Z" fill="#fff" stroke="#25387f" stroke-width="1.6"/>
<path d="M894.9 1492.65L898.25 1496L894.9 1499.35L891.55 1496Z" fill="#fff" stroke="#25387f" stroke-width="1.6"/>
<circle cx="902.8" cy="1498.1" r="3.15" fill="#fff" stroke="#25387f" stroke-width="1.6"/>
<rect x="904.65" y="1505.95" width="6.3" height="6.3" fill="#fff" stroke="#25387f" stroke-width="1.6"/>
<path d="M897.9 1506.55L901.65 1510.3L897.9 1514.05L894.15 1510.3Z" fill="#25387f"/>
<rect x="896.25" y="1512.25" width="6.7" height="6.7" fill="#25387f"/>
<circle cx="905.7" cy="1515.1" r="3.6" fill="#25387f"/>
<rect x="938.65" y="1387.15" width="6.7" height="6.7" fill="#25387f"/>
<path d="M936.9 1489.45L940.65 1493.2L936.9 1496.95L933.15 1493.2Z" fill="#25387f"/>
<path d="M933.7 1494.6L937.4 1501.3L930 1501.3Z" fill="#25387f"/>
<circle cx="947.2" cy="1496.9" r="3.15" fill="#fff" stroke="#25387f" stroke-width="1.6"/>
<path d="M950.4 1496.15L953.75 1499.5L950.4 1502.85L947.05 1499.5Z" fill="#fff" stroke="#25387f" stroke-width="1.6"/>
<path d="M938.1 1503.5L941.4 1509.6L934.8 1509.6Z" fill="#fff" stroke="#25387f" stroke-width="1.6"/>
<circle cx="942.5" cy="1507.7" r="3.6" fill="#25387f"/>
<rect x="943.15" y="1504.55" width="6.3" height="6.3" fill="#fff" stroke="#25387f" stroke-width="1.6"/>
<rect x="977.95" y="1434.95" width="6.7" height="6.7" fill="#25387f"/>
<path d="M981.3 1462.45L985.05 1466.2L981.3 1469.95L977.55 1466.2Z" fill="#25387f"/>
<circle cx="989.2" cy="1480.9" r="3.6" fill="#25387f"/>
<rect x="970.35" y="1483.25" width="6.3" height="6.3" fill="#fff" stroke="#25387f" stroke-width="1.6"/>
<path d="M981.5 1482.7L985.2 1489.4L977.8 1489.4Z" fill="#25387f"/>
<path d="M973.5 1492.45L976.85 1495.8L973.5 1499.15L970.15 1495.8Z" fill="#fff" stroke="#25387f" stroke-width="1.6"/>
<circle cx="981.5" cy="1504.2" r="3.15" fill="#fff" stroke="#25387f" stroke-width="1.6"/>
<path d="M989.4 1500L992.7 1506.1L986.1 1506.1Z" fill="#fff" stroke="#25387f" stroke-width="1.6"/>
<rect x="1017.35" y="1397.15" width="6.7" height="6.7" fill="#25387f"/>
<path d="M1012.7 1503.7L1016.4 1510.4L1009 1510.4Z" fill="#25387f"/>
<path d="M1020.7 1506.55L1024.45 1510.3L1020.7 1514.05L1016.95 1510.3Z" fill="#25387f"/>
<circle cx="1028.6" cy="1508.2" r="3.6" fill="#25387f"/>
</g>
<g>
<text x="1207.1" y="1317" font-size="23" text-anchor="middle">IP-10</text>
<path d="M1135.4 1496.9H1162" stroke="#f87171" stroke-width="1.6"/>
<path d="M1175.1 1478H1201.3" stroke="#f87171" stroke-width="1.6"/>
<path d="M1214.1 1437.2H1240.7" stroke="#f87171" stroke-width="1.6"/>
<path d="M1253.5 1494.6H1280.1" stroke="#f87171" stroke-width="1.6"/>
<path d="M1122.8 1346.6V1517.7M1115.6 1517.7H1293.7M1122.8 1347.3H1115.6M1122.8 1404.1H1115.6M1122.8 1460.9H1115.6M1122.8 1517.7H1115.6M1148.5 1517.7v7.2M1187.9 1517.7v7.2M1227.2 1517.7v7.2M1266.8 1517.7v7.2" stroke="#000" stroke-width="1.65" fill="none"/>
<text x="1112.1" y="1354.2" font-size="19.3" text-anchor="end">6000</text>
<text x="1112.1" y="1411" font-size="19.3" text-anchor="end">4000</text>
<text x="1112.1" y="1467.8" font-size="19.3" text-anchor="end">2000</text>
<text x="1101.3" y="1524.6" font-size="19.3" text-anchor="end">0</text>
<text x="1147.1" y="1547.4" font-size="19.3" text-anchor="middle">-5</text>
<text x="1185.2" y="1547.4" font-size="19.3" text-anchor="middle">1</text>
<text x="1224.3" y="1547.4" font-size="19.3" text-anchor="middle">2</text>
<text x="1263.4" y="1547.4" font-size="19.3" text-anchor="middle">4</text>
<text x="1203.6" y="1571.2" font-size="20.1" text-anchor="middle">DPI</text>
<text transform="translate(1062.7,1425.5) rotate(-90)" font-size="19.3" text-anchor="middle">pg/mL</text>
<circle cx="1148.5" cy="1464.8" r="3.15" fill="#fff" stroke="#25387f" stroke-width="1.6"/>
<path d="M1148.5 1478.65L1151.85 1482L1148.5 1485.35L1145.15 1482Z" fill="#fff" stroke="#25387f" stroke-width="1.6"/>
<rect x="1145.65" y="1496.65" width="6.3" height="6.3" fill="#fff" stroke="#25387f" stroke-width="1.6"/>
<path d="M1140.6 1497.85L1144.35 1501.6L1140.6 1505.35L1136.85 1501.6Z" fill="#25387f"/>
<path d="M1144.5 1503.1L1147.8 1509.2L1141.2 1509.2Z" fill="#fff" stroke="#25387f" stroke-width="1.6"/>
<circle cx="1153.4" cy="1506.3" r="3.6" fill="#25387f"/>
<path d="M1156.9 1502L1160.6 1508.7L1153.2 1508.7Z" fill="#25387f"/>
<rect x="1145.15" y="1507.55" width="6.7" height="6.7" fill="#25387f"/>
<path d="M1183 1422.25L1186.75 1426L1183 1429.75L1179.25 1426Z" fill="#25387f"/>
<path d="M1193.5 1419.15L1196.85 1422.5L1193.5 1425.85L1190.15 1422.5Z" fill="#fff" stroke="#25387f" stroke-width="1.6"/>
<rect x="1174.75" y="1488.25" width="6.3" height="6.3" fill="#fff" stroke="#25387f" stroke-width="1.6"/>
<path d="M1182.6 1493.5L1185.9 1499.6L1179.3 1499.6Z" fill="#fff" stroke="#25387f" stroke-width="1.6"/>
<circle cx="1184.7" cy="1504.2" r="3.6" fill="#25387f"/>
<circle cx="1193.5" cy="1495.1" r="3.15" fill="#fff" stroke="#25387f" stroke-width="1.6"/>
<rect x="1188.35" y="1495.25" width="6.7" height="6.7" fill="#25387f"/>
<path d="M1198.7 1488.8L1202.4 1495.5L1195 1495.5Z" fill="#25387f"/>
<path d="M1227.6 1370.65L1231.35 1374.4L1227.6 1378.15L1223.85 1374.4Z" fill="#25387f"/>
<circle cx="1227.6" cy="1423" r="3.6" fill="#25387f"/>
<rect x="1219.15" y="1436.35" width="6.3" height="6.3" fill="#fff" stroke="#25387f" stroke-width="1.6"/>
<path d="M1232.5 1435.45L1235.85 1438.8L1232.5 1442.15L1229.15 1438.8Z" fill="#fff" stroke="#25387f" stroke-width="1.6"/>
<path d="M1219.4 1444.5L1222.7 1450.6L1216.1 1450.6Z" fill="#fff" stroke="#25387f" stroke-width="1.6"/>
<path d="M1235.6 1442.8L1239.3 1449.5L1231.9 1449.5Z" fill="#25387f"/>
<rect x="1224.25" y="1449.75" width="6.7" height="6.7" fill="#25387f"/>
<circle cx="1227.6" cy="1475" r="3.15" fill="#fff" stroke="#25387f" stroke-width="1.6"/>
<path d="M1266.9 1483.35L1270.65 1487.1L1266.9 1490.85L1263.15 1487.1Z" fill="#25387f"/>
<path d="M1258.7 1489.4L1262.4 1496.1L1255 1496.1Z" fill="#25387f"/>
<circle cx="1274.8" cy="1497.6" r="3.6" fill="#25387f"/>
<rect x="1263.55" y="1497.05" width="6.7" height="6.7" fill="#25387f"/>
<path d="M1140.6 1348.5H1241.8" stroke="#000" stroke-width="2"/>
<text x="1192.8" y="1351.3" font-size="18.5" text-anchor="middle">**</text>
</g>
<g>
<text x="1440.9" y="1317.9" font-size="23" text-anchor="middle">MCP-1</text>
<path d="M1386.2 1481.5H1412.5" stroke="#f87171" stroke-width="1.6"/>
<path d="M1425.6 1482H1451.9" stroke="#f87171" stroke-width="1.6"/>
<path d="M1465 1450H1491.2" stroke="#f87171" stroke-width="1.6"/>
<path d="M1504.3 1478.3H1530.6" stroke="#f87171" stroke-width="1.6"/>
<path d="M1373.5 1347.8V1518.6M1366.1 1518.6H1544.6M1373.5 1348.5H1366.1M1373.5 1382.5H1366.1M1373.5 1416.5H1366.1M1373.5 1450.6H1366.1M1373.5 1484.6H1366.1M1373.5 1518.6H1366.1M1399 1518.6v7.2M1438.6 1518.6v7.2M1477.8 1518.6v7.2M1517.1 1518.6v7.2" stroke="#000" stroke-width="1.65" fill="none"/>
<text x="1366" y="1355.4" font-size="19.3" text-anchor="end">1000</text>
<text x="1362.4" y="1389.4" font-size="19.3" text-anchor="end">800</text>
<text x="1362.4" y="1423.4" font-size="19.3" text-anchor="end">600</text>
<text x="1362.4" y="1457.5" font-size="19.3" text-anchor="end">400</text>
<text x="1362.4" y="1491.5" font-size="19.3" text-anchor="end">200</text>
<text x="1355.2" y="1525.5" font-size="19.3" text-anchor="end">0</text>
<text x="1397.6" y="1548.3" font-size="19.3" text-anchor="middle">-5</text>
<text x="1436.1" y="1548.3" font-size="19.3" text-anchor="middle">1</text>
<text x="1475" y="1548.3" font-size="19.3" text-anchor="middle">2</text>
<text x="1514" y="1548.3" font-size="19.3" text-anchor="middle">4</text>
<text x="1458.3" y="1571.9" font-size="20.1" text-anchor="middle">DPI</text>
<text transform="translate(1322.4,1426) rotate(-90)" font-size="19.3" text-anchor="middle">pg/mL</text>
<text transform="translate(1397.3,1426) rotate(-90)" font-size="19.3" text-anchor="middle">pg/mL</text>
<path d="M1399.4 1466.75L1402.75 1470.1L1399.4 1473.45L1396.05 1470.1Z" fill="#fff" stroke="#25387f" stroke-width="1.6"/>
<path d="M1394.5 1472.9L1397.8 1479L1391.2 1479Z" fill="#fff" stroke="#25387f" stroke-width="1.6"/>
<path d="M1404.6 1473.1L1408.3 1479.8L1400.9 1479.8Z" fill="#25387f"/>
<rect x="1387.85" y="1479.15" width="6.3" height="6.3" fill="#fff" stroke="#25387f" stroke-width="1.6"/>
<circle cx="1395.9" cy="1481.5" r="3.15" fill="#fff" stroke="#25387f" stroke-width="1.6"/>
<rect x="1399.55" y="1478.65" width="6.7" height="6.7" fill="#25387f"/>
<path d="M1399.4 1488.25L1403.15 1492L1399.4 1495.75L1395.65 1492Z" fill="#25387f"/>
<circle cx="1407.6" cy="1490.2" r="3.6" fill="#25387f"/>
<path d="M1433.8 1469.85L1437.55 1473.6L1433.8 1477.35L1430.05 1473.6Z" fill="#25387f"/>
<path d="M1436.1 1473.75L1439.45 1477.1L1436.1 1480.45L1432.75 1477.1Z" fill="#fff" stroke="#25387f" stroke-width="1.6"/>
<path d="M1444 1472.2L1447.7 1478.9L1440.3 1478.9Z" fill="#25387f"/>
<rect x="1438.05" y="1475.55" width="6.7" height="6.7" fill="#25387f"/>
<rect x="1430.35" y="1481.25" width="6.3" height="6.3" fill="#fff" stroke="#25387f" stroke-width="1.6"/>
<path d="M1444 1480L1447.3 1486.1L1440.7 1486.1Z" fill="#fff" stroke="#25387f" stroke-width="1.6"/>
<circle cx="1435.2" cy="1491.1" r="3.6" fill="#25387f"/>
<circle cx="1442.2" cy="1491.1" r="3.15" fill="#fff" stroke="#25387f" stroke-width="1.6"/>
<path d="M1478.1 1375.6L1481.8 1382.3L1474.4 1382.3Z" fill="#25387f"/>
<rect x="1474.95" y="1440.35" width="6.3" height="6.3" fill="#fff" stroke="#25387f" stroke-width="1.6"/>
<path d="M1486.3 1446.8L1489.6 1452.9L1483 1452.9Z" fill="#fff" stroke="#25387f" stroke-width="1.6"/>
<path d="M1470.2 1451.15L1473.95 1454.9L1470.2 1458.65L1466.45 1454.9Z" fill="#25387f"/>
<circle cx="1478.1" cy="1456.1" r="3.6" fill="#25387f"/>
<rect x="1466.85" y="1464.95" width="6.7" height="6.7" fill="#25387f"/>
<circle cx="1478.1" cy="1476.2" r="3.15" fill="#fff" stroke="#25387f" stroke-width="1.6"/>
<path d="M1486 1469.75L1489.35 1473.1L1486 1476.45L1482.65 1473.1Z" fill="#fff" stroke="#25387f" stroke-width="1.6"/>
<path d="M1517.5 1461.4L1521.2 1468.1L1513.8 1468.1Z" fill="#25387f"/>
<rect x="1506.25" y="1474.65" width="6.7" height="6.7" fill="#25387f"/>
<path d="M1517.5 1482.65L1521.25 1486.4L1517.5 1490.15L1513.75 1486.4Z" fill="#25387f"/>
<circle cx="1525.3" cy="1484.4" r="3.6" fill="#25387f"/>
<path d="M1389.2 1349.4H1490.3" stroke="#000" stroke-width="2"/>
<text x="1441.4" y="1352.2" font-size="18.5" text-anchor="middle">**</text>
</g>
<g>
<text x="1670" y="1316.1" font-size="23" text-anchor="middle">MCP-2</text>
<path d="M1611.7 1507.7H1638.1" stroke="#f87171" stroke-width="1.6"/>
<path d="M1651.3 1496.7H1677.5" stroke="#f87171" stroke-width="1.6"/>
<path d="M1690.6 1443H1716.9" stroke="#f87171" stroke-width="1.6"/>
<path d="M1730 1499H1756.2" stroke="#f87171" stroke-width="1.6"/>
<path d="M1599.1 1346.9V1518.2M1591.8 1518.2H1770.1M1599.1 1347.6H1591.8M1599.1 1390.3H1591.8M1599.1 1432.9H1591.8M1599.1 1475.6H1591.8M1599.1 1518.2H1591.8M1624.8 1518.2v7.2M1664.2 1518.2v7.2M1703.6 1518.2v7.2M1743 1518.2v7.2" stroke="#000" stroke-width="1.65" fill="none"/>
<text x="1589.5" y="1354.5" font-size="19.3" text-anchor="end">80</text>
<text x="1589.5" y="1397.2" font-size="19.3" text-anchor="end">60</text>
<text x="1589.5" y="1439.8" font-size="19.3" text-anchor="end">40</text>
<text x="1589.5" y="1482.5" font-size="19.3" text-anchor="end">20</text>
<text x="1585.9" y="1525.1" font-size="19.3" text-anchor="end">0</text>
<text x="1623.3" y="1547.4" font-size="19.3" text-anchor="middle">-5</text>
<text x="1661.6" y="1547.4" font-size="19.3" text-anchor="middle">1</text>
<text x="1700.6" y="1547.4" font-size="19.3" text-anchor="middle">2</text>
<text x="1740" y="1547.4" font-size="19.3" text-anchor="middle">4</text>
<text x="1684" y="1571.2" font-size="20.1" text-anchor="middle">DPI</text>
<text transform="translate(1561.5,1425.5) rotate(-90)" font-size="19.3" text-anchor="middle">pg/mL</text>
<path d="M1625 1494.75L1628.35 1498.1L1625 1501.45L1621.65 1498.1Z" fill="#fff" stroke="#25387f" stroke-width="1.6"/>
<circle cx="1617.1" cy="1503.3" r="3.15" fill="#fff" stroke="#25387f" stroke-width="1.6"/>
<rect x="1618.75" y="1507.15" width="6.3" height="6.3" fill="#fff" stroke="#25387f" stroke-width="1.6"/>
<path d="M1623.5 1505.8L1626.8 1511.9L1620.2 1511.9Z" fill="#fff" stroke="#25387f" stroke-width="1.6"/>
<rect x="1617.65" y="1507.55" width="6.7" height="6.7" fill="#25387f"/>
<circle cx="1625.4" cy="1511.2" r="3.6" fill="#25387f"/>
<path d="M1628.9 1507.15L1632.65 1510.9L1628.9 1514.65L1625.15 1510.9Z" fill="#25387f"/>
<path d="M1632.4 1503.7L1636.1 1510.4L1628.7 1510.4Z" fill="#25387f"/>
<path d="M1659.1 1450.95L1662.85 1454.7L1659.1 1458.45L1655.35 1454.7Z" fill="#25387f"/>
<path d="M1669.5 1455.35L1672.85 1458.7L1669.5 1462.05L1666.15 1458.7Z" fill="#fff" stroke="#25387f" stroke-width="1.6"/>
<rect x="1655.75" y="1504.35" width="6.7" height="6.7" fill="#25387f"/>
<rect x="1667.15" y="1504.55" width="6.3" height="6.3" fill="#fff" stroke="#25387f" stroke-width="1.6"/>
<circle cx="1657.7" cy="1511.2" r="3.6" fill="#25387f"/>
<path d="M1668.6 1506L1672.3 1512.7L1664.9 1512.7Z" fill="#25387f"/>
<circle cx="1662.1" cy="1513.3" r="3.15" fill="#fff" stroke="#25387f" stroke-width="1.6"/>
<path d="M1667.4 1509.3L1670.7 1515.4L1664.1 1515.4Z" fill="#fff" stroke="#25387f" stroke-width="1.6"/>
<path d="M1703.6 1372.75L1707.35 1376.5L1703.6 1380.25L1699.85 1376.5Z" fill="#25387f"/>
<circle cx="1703.6" cy="1416.2" r="3.6" fill="#25387f"/>
<path d="M1708.8 1429.15L1712.15 1432.5L1708.8 1435.85L1705.45 1432.5Z" fill="#fff" stroke="#25387f" stroke-width="1.6"/>
<path d="M1698.5 1437.2L1702.2 1443.9L1694.8 1443.9Z" fill="#25387f"/>
<rect x="1692.05" y="1462.85" width="6.7" height="6.7" fill="#25387f"/>
<path d="M1703.6 1462L1706.9 1468.1L1700.3 1468.1Z" fill="#fff" stroke="#25387f" stroke-width="1.6"/>
<rect x="1708.85" y="1468.65" width="6.3" height="6.3" fill="#fff" stroke="#25387f" stroke-width="1.6"/>
<circle cx="1703.8" cy="1476.2" r="3.15" fill="#fff" stroke="#25387f" stroke-width="1.6"/>
<path d="M1743 1473.85L1746.75 1477.6L1743 1481.35L1739.25 1477.6Z" fill="#25387f"/>
<rect x="1731.35" y="1502.65" width="6.7" height="6.7" fill="#25387f"/>
<circle cx="1743" cy="1507.7" r="3.6" fill="#25387f"/>
<path d="M1751.3 1502.5L1755 1509.2L1747.6 1509.2Z" fill="#25387f"/>
<path d="M1617 1349H1718.1" stroke="#000" stroke-width="2"/>
<text x="1660.9" y="1351.8" font-size="18.5" text-anchor="middle">**</text>
</g>
<g>
<text x="1886" y="1315.2" font-size="23" text-anchor="middle">IFNa2</text>
<path d="M1834.4 1494.6H1861" stroke="#f87171" stroke-width="1.6"/>
<path d="M1873.7 1502.1H1900" stroke="#f87171" stroke-width="1.6"/>
<path d="M1913.1 1473.8H1939.7" stroke="#f87171" stroke-width="1.6"/>
<path d="M1952.5 1496.3H1979.1" stroke="#f87171" stroke-width="1.6"/>
<path d="M1821.8 1342.9V1513.5M1814.6 1513.5H1992.7M1821.8 1343.6H1814.6M1821.8 1400.2H1814.6M1821.8 1456.9H1814.6M1821.8 1513.5H1814.6M1847.5 1513.5v7.2M1886.9 1513.5v7.2M1926.2 1513.5v7.2M1965.6 1513.5v7.2" stroke="#000" stroke-width="1.65" fill="none"/>
<text x="1811.6" y="1350.5" font-size="19.3" text-anchor="end">30</text>
<text x="1811.6" y="1407.1" font-size="19.3" text-anchor="end">20</text>
<text x="1811.6" y="1463.8" font-size="19.3" text-anchor="end">10</text>
<text x="1808" y="1520.4" font-size="19.3" text-anchor="end">0</text>
<text x="1846.1" y="1543.1" font-size="19.3" text-anchor="middle">-5</text>
<text x="1884.2" y="1543.1" font-size="19.3" text-anchor="middle">1</text>
<text x="1923.3" y="1543.1" font-size="19.3" text-anchor="middle">2</text>
<text x="1962.4" y="1543.1" font-size="19.3" text-anchor="middle">4</text>
<text x="1906.1" y="1566.3" font-size="20.1" text-anchor="middle">DPI</text>
<text transform="translate(1784.1,1421.1) rotate(-90)" font-size="19.3" text-anchor="middle">pg/mL</text>
<path d="M1847.8 1460.8L1851.5 1467.5L1844.1 1467.5Z" fill="#25387f"/>
<path d="M1847.8 1483.35L1851.15 1486.7L1847.8 1490.05L1844.45 1486.7Z" fill="#fff" stroke="#25387f" stroke-width="1.6"/>
<circle cx="1842.6" cy="1490.2" r="3.6" fill="#25387f"/>
<rect x="1849.75" y="1487.35" width="6.7" height="6.7" fill="#25387f"/>
<rect x="1840.85" y="1495.45" width="6.3" height="6.3" fill="#fff" stroke="#25387f" stroke-width="1.6"/>
<path d="M1851 1495.55L1854.75 1499.3L1851 1503.05L1847.25 1499.3Z" fill="#25387f"/>
<circle cx="1842.6" cy="1513.8" r="3.15" fill="#fff" stroke="#25387f" stroke-width="1.6"/>
<path d="M1853.1 1510.7L1856.4 1516.8L1849.8 1516.8Z" fill="#fff" stroke="#25387f" stroke-width="1.6"/>
<path d="M1876.9 1481.25L1880.65 1485L1876.9 1488.75L1873.15 1485Z" fill="#25387f"/>
<path d="M1892.5 1478.6L1895.8 1484.7L1889.2 1484.7Z" fill="#fff" stroke="#25387f" stroke-width="1.6"/>
<path d="M1882.1 1491.8L1885.8 1498.5L1878.4 1498.5Z" fill="#25387f"/>
<rect x="1889.15" y="1498.25" width="6.7" height="6.7" fill="#25387f"/>
<circle cx="1882.1" cy="1514.4" r="3.15" fill="#fff" stroke="#25387f" stroke-width="1.6"/>
<path d="M1884.6 1511.05L1887.95 1514.4L1884.6 1517.75L1881.25 1514.4Z" fill="#fff" stroke="#25387f" stroke-width="1.6"/>
<rect x="1884.25" y="1511.25" width="6.3" height="6.3" fill="#fff" stroke="#25387f" stroke-width="1.6"/>
<circle cx="1891.2" cy="1514.4" r="3.6" fill="#25387f"/>
<path d="M1926.6 1370.95L1930.35 1374.7L1926.6 1378.45L1922.85 1374.7Z" fill="#25387f"/>
<path d="M1926.6 1412.15L1929.95 1415.5L1926.6 1418.85L1923.25 1415.5Z" fill="#fff" stroke="#25387f" stroke-width="1.6"/>
<rect x="1923.25" y="1455.35" width="6.7" height="6.7" fill="#25387f"/>
<circle cx="1926.6" cy="1493.4" r="3.6" fill="#25387f"/>
<circle cx="1931.8" cy="1507.2" r="3.15" fill="#fff" stroke="#25387f" stroke-width="1.6"/>
<path d="M1921 1510.7L1924.3 1516.8L1917.7 1516.8Z" fill="#fff" stroke="#25387f" stroke-width="1.6"/>
<rect x="1920.45" y="1509.85" width="6.3" height="6.3" fill="#fff" stroke="#25387f" stroke-width="1.6"/>
<path d="M1930.6 1510.4L1934.3 1517.1L1926.9 1517.1Z" fill="#25387f"/>
<rect x="1954.35" y="1485.15" width="6.7" height="6.7" fill="#25387f"/>
<path d="M1973.8 1483.45L1977.55 1487.2L1973.8 1490.95L1970.05 1487.2Z" fill="#25387f"/>
<circle cx="1965.9" cy="1496" r="3.6" fill="#25387f"/>
<path d="M1965.9 1510.7L1969.6 1517.4L1962.2 1517.4Z" fill="#25387f"/>
<path d="M1839.6 1345.3H1931" stroke="#000" stroke-width="2"/>
<text x="1885.5" y="1338.7" font-size="19" text-anchor="middle">0.22</text>
</g>
</g>
<g>
<text x="25" y="1615.6" font-size="39.5" font-weight="bold">e</text>
<text x="315.5" y="1626.5" font-size="27.6" text-anchor="middle">BAL(RNA-Seq) - Sum of IFNA</text>
<path d="M205 1961.2H292.1M335.9 1761.5H422.6" stroke="#f87171" stroke-width="3"/>
<path d="M161.8 1670.5V1977.7M149.4 1976.2H467.6" stroke="#000" stroke-width="3.2" fill="none"/>
<path d="M248.5 1976.2v12M378.5 1976.2v12" stroke="#000" stroke-width="3.2" fill="none"/>
<path d="M149.4 1976.2H161.8M155.3 1945.63H161.8M155.3 1927.74H161.8M155.3 1915.05H161.8M155.3 1905.21H161.8M155.3 1897.17H161.8M155.3 1890.37H161.8M155.3 1884.48H161.8M155.3 1879.28H161.8M149.4 1874.63H161.8M155.3 1844.06H161.8M155.3 1826.17H161.8M155.3 1813.48H161.8M155.3 1803.64H161.8M155.3 1795.6H161.8M155.3 1788.8H161.8M155.3 1782.91H161.8M155.3 1777.71H161.8M149.4 1773.07H161.8M155.3 1742.49H161.8M155.3 1724.61H161.8M155.3 1711.92H161.8M155.3 1702.07H161.8M155.3 1694.03H161.8M155.3 1687.23H161.8M155.3 1681.34H161.8M155.3 1676.15H161.8M149.4 1671.5H161.8" stroke="#000" stroke-width="2.1" fill="none"/>
<text x="144.5" y="1983.2" font-size="19.5" text-anchor="end">10<tspan font-size="13.5" dy="-8.5">0</tspan></text>
<text x="144.5" y="1881.63" font-size="19.5" text-anchor="end">10<tspan font-size="13.5" dy="-8.5">1</tspan></text>
<text x="144.5" y="1780.07" font-size="19.5" text-anchor="end">10<tspan font-size="13.5" dy="-8.5">2</tspan></text>
<text x="144.5" y="1678.5" font-size="19.5" text-anchor="end">10<tspan font-size="13.5" dy="-8.5">3</tspan></text>
<text x="248.5" y="2012" font-size="20" text-anchor="middle">-5</text>
<text x="378.5" y="2012" font-size="20" text-anchor="middle">2</text>
<text x="307.4" y="2039" font-size="20" text-anchor="middle">DPI</text>
<text transform="translate(68.5,1821.5) rotate(-90)" font-size="20.5" text-anchor="middle">log10(Sum of IFNA</text>
<text transform="translate(98.8,1821.5) rotate(-90)" font-size="20.5" text-anchor="middle">normalized counts + 1)</text>
<path d="M251.5 1676.8V1668.5H378.5V1676.8" stroke="#000" stroke-width="1.3" fill="none"/>
<text x="313.8" y="1666.8" font-size="19" text-anchor="middle">*</text>
<path d="M230 1938.52L235.99 1949.37L224.01 1949.37Z" fill="#25387f"/>
<path d="M248.5 1945.42L254.57 1951.5L248.5 1957.58L242.43 1951.5Z" fill="#25387f"/>
<path d="M266.8 1931.97L272.23 1937.4L266.8 1942.83L261.37 1937.4Z" fill="#fff" stroke="#25387f" stroke-width="2.59"/>
<circle cx="213.8" cy="1976.5" r="5.83" fill="#25387f"/>
<rect x="225.8" y="1971.4" width="10.21" height="10.21" fill="#fff" stroke="#25387f" stroke-width="2.59"/>
<rect x="243.07" y="1971.07" width="10.85" height="10.85" fill="#25387f"/>
<path d="M266.2 1970.51L271.55 1980.39L260.85 1980.39Z" fill="#fff" stroke="#25387f" stroke-width="2.59"/>
<circle cx="283.2" cy="1976.5" r="5.1" fill="#fff" stroke="#25387f" stroke-width="2.59"/>
<path d="M369.7 1701.61L375.05 1711.49L364.35 1711.49Z" fill="#fff" stroke="#25387f" stroke-width="2.59"/>
<path d="M388.2 1698.37L393.63 1703.8L388.2 1709.23L382.77 1703.8Z" fill="#fff" stroke="#25387f" stroke-width="2.59"/>
<circle cx="369.7" cy="1805.3" r="5.83" fill="#25387f"/>
<rect x="383.1" y="1802" width="10.21" height="10.21" fill="#fff" stroke="#25387f" stroke-width="2.59"/>
<circle cx="379.1" cy="1851.8" r="5.1" fill="#fff" stroke="#25387f" stroke-width="2.59"/>
<path d="M379.1 1945.02L385.09 1955.87L373.11 1955.87Z" fill="#25387f"/>
<rect x="364.27" y="1971.07" width="10.85" height="10.85" fill="#25387f"/>
<path d="M388.2 1970.42L394.27 1976.5L388.2 1982.58L382.12 1976.5Z" fill="#25387f"/>
</g>
<g>
<text x="845.6" y="1622.4" font-size="39.5" font-weight="bold">f</text>
<text x="1136.2" y="1625.3" font-size="27.8" text-anchor="middle">AM geneset</text>
<path d="M931.2 1700.3H1346.5" stroke="#000" stroke-width="2.8" stroke-dasharray="11.1 10.64"/>
<path d="M942.06 1698.82L947.06 1698.24L960.59 1707.06L969.41 1712.94L982.35 1721.18L992.06 1727.35L996.47 1730.88L1000.88 1732.35L1011.76 1739.71L1025.88 1750.29L1034.71 1756.76L1039.41 1760.29L1064.12 1780.88L1068.82 1783.24L1106.76 1813.82L1119.41 1824.12L1134.71 1836.76L1140.59 1841.18L1147.06 1845.88L1154.71 1852.35L1189.71 1880.88L1196.47 1885.59L1217.06 1902.35L1224.41 1908.24L1228.82 1911.18L1234.71 1915.59L1240.59 1920L1246.47 1923.82L1252.35 1926.76L1257.65 1929.71L1269.41 1938.53L1274.41 1941.18L1278.82 1942.94L1287.65 1945.29L1291 1948.3L1295.3 1949.4L1301.9 1947.7L1308.5 1942L1314.3 1932.1L1319.2 1917.2L1323.3 1899.1L1326.6 1877.7L1329.1 1853L1331.6 1828.3L1333.5 1795.3L1335.2 1762.4L1336.5 1729.4L1337.3 1700.6" stroke="#1f5a8f" stroke-width="2.2" fill="none"/>
<g fill="#fff" stroke="#1f5a8f" stroke-width="3.6"><circle cx="942.06" cy="1698.82" r="4.95"/><circle cx="947.06" cy="1698.24" r="4.95"/><circle cx="960.59" cy="1707.06" r="4.95"/><circle cx="969.41" cy="1712.94" r="4.95"/><circle cx="982.35" cy="1721.18" r="4.95"/><circle cx="992.06" cy="1727.35" r="4.95"/><circle cx="996.47" cy="1730.88" r="4.95"/><circle cx="1000.88" cy="1732.35" r="4.95"/><circle cx="1011.76" cy="1739.71" r="4.95"/><circle cx="1025.88" cy="1750.29" r="4.95"/><circle cx="1034.71" cy="1756.76" r="4.95"/><circle cx="1039.41" cy="1760.29" r="4.95"/><circle cx="1064.12" cy="1780.88" r="4.95"/><circle cx="1068.82" cy="1783.24" r="4.95"/><circle cx="1106.76" cy="1813.82" r="4.95"/><circle cx="1119.41" cy="1824.12" r="4.95"/><circle cx="1134.71" cy="1836.76" r="4.95"/><circle cx="1140.59" cy="1841.18" r="4.95"/><circle cx="1147.06" cy="1845.88" r="4.95"/><circle cx="1154.71" cy="1852.35" r="4.95"/><circle cx="1189.71" cy="1880.88" r="4.95"/><circle cx="1196.47" cy="1885.59" r="4.95"/><circle cx="1217.06" cy="1902.35" r="4.95"/><circle cx="1224.41" cy="1908.24" r="4.95"/><circle cx="1228.82" cy="1911.18" r="4.95"/><circle cx="1234.71" cy="1915.59" r="4.95"/><circle cx="1240.59" cy="1920" r="4.95"/><circle cx="1246.47" cy="1923.82" r="4.95"/><circle cx="1252.35" cy="1926.76" r="4.95"/><circle cx="1257.65" cy="1929.71" r="4.95"/><circle cx="1269.41" cy="1938.53" r="4.95"/><circle cx="1274.41" cy="1941.18" r="4.95"/><circle cx="1278.82" cy="1942.94" r="4.95"/><circle cx="1287.65" cy="1945.29" r="4.95"/><circle cx="1291" cy="1948.3" r="4.95"/><circle cx="1293.15" cy="1948.85" r="4.95"/><circle cx="1295.3" cy="1949.4" r="4.95"/><circle cx="1297.5" cy="1948.83" r="4.95"/><circle cx="1299.7" cy="1948.27" r="4.95"/><circle cx="1301.9" cy="1947.7" r="4.95"/><circle cx="1304.1" cy="1945.8" r="4.95"/><circle cx="1306.3" cy="1943.9" r="4.95"/><circle cx="1308.5" cy="1942" r="4.95"/><circle cx="1309.66" cy="1940.02" r="4.95"/><circle cx="1310.82" cy="1938.04" r="4.95"/><circle cx="1311.98" cy="1936.06" r="4.95"/><circle cx="1313.14" cy="1934.08" r="4.95"/><circle cx="1314.3" cy="1932.1" r="4.95"/><circle cx="1315" cy="1929.97" r="4.95"/><circle cx="1315.7" cy="1927.84" r="4.95"/><circle cx="1316.4" cy="1925.71" r="4.95"/><circle cx="1317.1" cy="1923.59" r="4.95"/><circle cx="1317.8" cy="1921.46" r="4.95"/><circle cx="1318.5" cy="1919.33" r="4.95"/><circle cx="1319.2" cy="1917.2" r="4.95"/><circle cx="1319.71" cy="1914.94" r="4.95"/><circle cx="1320.22" cy="1912.67" r="4.95"/><circle cx="1320.74" cy="1910.41" r="4.95"/><circle cx="1321.25" cy="1908.15" r="4.95"/><circle cx="1321.76" cy="1905.89" r="4.95"/><circle cx="1322.28" cy="1903.62" r="4.95"/><circle cx="1322.79" cy="1901.36" r="4.95"/><circle cx="1323.3" cy="1899.1" r="4.95"/><circle cx="1323.67" cy="1896.72" r="4.95"/><circle cx="1324.03" cy="1894.34" r="4.95"/><circle cx="1324.4" cy="1891.97" r="4.95"/><circle cx="1324.77" cy="1889.59" r="4.95"/><circle cx="1325.13" cy="1887.21" r="4.95"/><circle cx="1325.5" cy="1884.83" r="4.95"/><circle cx="1325.87" cy="1882.46" r="4.95"/><circle cx="1326.23" cy="1880.08" r="4.95"/><circle cx="1326.6" cy="1877.7" r="4.95"/><circle cx="1326.83" cy="1875.45" r="4.95"/><circle cx="1327.05" cy="1873.21" r="4.95"/><circle cx="1327.28" cy="1870.96" r="4.95"/><circle cx="1327.51" cy="1868.72" r="4.95"/><circle cx="1327.74" cy="1866.47" r="4.95"/><circle cx="1327.96" cy="1864.23" r="4.95"/><circle cx="1328.19" cy="1861.98" r="4.95"/><circle cx="1328.42" cy="1859.74" r="4.95"/><circle cx="1328.65" cy="1857.49" r="4.95"/><circle cx="1328.87" cy="1855.25" r="4.95"/><circle cx="1329.1" cy="1853" r="4.95"/><circle cx="1329.33" cy="1850.75" r="4.95"/><circle cx="1329.55" cy="1848.51" r="4.95"/><circle cx="1329.78" cy="1846.26" r="4.95"/><circle cx="1330.01" cy="1844.02" r="4.95"/><circle cx="1330.24" cy="1841.77" r="4.95"/><circle cx="1330.46" cy="1839.53" r="4.95"/><circle cx="1330.69" cy="1837.28" r="4.95"/><circle cx="1330.92" cy="1835.04" r="4.95"/><circle cx="1331.15" cy="1832.79" r="4.95"/><circle cx="1331.37" cy="1830.55" r="4.95"/><circle cx="1331.6" cy="1828.3" r="4.95"/><circle cx="1331.73" cy="1826.1" r="4.95"/><circle cx="1331.85" cy="1823.9" r="4.95"/><circle cx="1331.98" cy="1821.7" r="4.95"/><circle cx="1332.11" cy="1819.5" r="4.95"/><circle cx="1332.23" cy="1817.3" r="4.95"/><circle cx="1332.36" cy="1815.1" r="4.95"/><circle cx="1332.49" cy="1812.9" r="4.95"/><circle cx="1332.61" cy="1810.7" r="4.95"/><circle cx="1332.74" cy="1808.5" r="4.95"/><circle cx="1332.87" cy="1806.3" r="4.95"/><circle cx="1332.99" cy="1804.1" r="4.95"/><circle cx="1333.12" cy="1801.9" r="4.95"/><circle cx="1333.25" cy="1799.7" r="4.95"/><circle cx="1333.37" cy="1797.5" r="4.95"/><circle cx="1333.5" cy="1795.3" r="4.95"/><circle cx="1333.62" cy="1792.95" r="4.95"/><circle cx="1333.74" cy="1790.6" r="4.95"/><circle cx="1333.86" cy="1788.25" r="4.95"/><circle cx="1333.99" cy="1785.9" r="4.95"/><circle cx="1334.11" cy="1783.55" r="4.95"/><circle cx="1334.23" cy="1781.2" r="4.95"/><circle cx="1334.35" cy="1778.85" r="4.95"/><circle cx="1334.47" cy="1776.5" r="4.95"/><circle cx="1334.59" cy="1774.15" r="4.95"/><circle cx="1334.71" cy="1771.8" r="4.95"/><circle cx="1334.84" cy="1769.45" r="4.95"/><circle cx="1334.96" cy="1767.1" r="4.95"/><circle cx="1335.08" cy="1764.75" r="4.95"/><circle cx="1335.2" cy="1762.4" r="4.95"/><circle cx="1335.29" cy="1760.2" r="4.95"/><circle cx="1335.37" cy="1758" r="4.95"/><circle cx="1335.46" cy="1755.8" r="4.95"/><circle cx="1335.55" cy="1753.6" r="4.95"/><circle cx="1335.63" cy="1751.4" r="4.95"/><circle cx="1335.72" cy="1749.2" r="4.95"/><circle cx="1335.81" cy="1747" r="4.95"/><circle cx="1335.89" cy="1744.8" r="4.95"/><circle cx="1335.98" cy="1742.6" r="4.95"/><circle cx="1336.07" cy="1740.4" r="4.95"/><circle cx="1336.15" cy="1738.2" r="4.95"/><circle cx="1336.24" cy="1736" r="4.95"/><circle cx="1336.33" cy="1733.8" r="4.95"/><circle cx="1336.41" cy="1731.6" r="4.95"/><circle cx="1336.5" cy="1729.4" r="4.95"/><circle cx="1336.56" cy="1727.18" r="4.95"/><circle cx="1336.62" cy="1724.97" r="4.95"/><circle cx="1336.68" cy="1722.75" r="4.95"/><circle cx="1336.75" cy="1720.54" r="4.95"/><circle cx="1336.81" cy="1718.32" r="4.95"/><circle cx="1336.87" cy="1716.11" r="4.95"/><circle cx="1336.93" cy="1713.89" r="4.95"/><circle cx="1336.99" cy="1711.68" r="4.95"/><circle cx="1337.05" cy="1709.46" r="4.95"/><circle cx="1337.12" cy="1707.25" r="4.95"/><circle cx="1337.18" cy="1705.03" r="4.95"/><circle cx="1337.24" cy="1702.82" r="4.95"/><circle cx="1337.3" cy="1700.6" r="4.95"/></g>
<path d="M1291 1948.3L1295.3 1949.4L1301.9 1947.7L1308.5 1942L1314.3 1932.1L1319.2 1917.2L1323.3 1899.1L1326.6 1877.7L1329.1 1853L1331.6 1828.3L1333.5 1795.3L1335.2 1762.4L1336.5 1729.4L1337.3 1700.6" stroke="#1f5a8f" stroke-width="13" fill="none" stroke-linecap="round" stroke-linejoin="round"/>
<path d="M931.2 1636.2V1964" stroke="#000" stroke-width="2.6" fill="none"/>
<text x="920.5" y="1645.2" font-size="20.1" text-anchor="end" fill="#4d4d4d">0.2</text>
<text x="920.5" y="1708.4" font-size="20.1" text-anchor="end" fill="#4d4d4d">0.0</text>
<text x="920.5" y="1771.6" font-size="20.1" text-anchor="end" fill="#4d4d4d">−0.2</text>
<text x="920.5" y="1834.8" font-size="20.1" text-anchor="end" fill="#4d4d4d">−0.4</text>
<text x="920.5" y="1898" font-size="20.1" text-anchor="end" fill="#4d4d4d">−0.6</text>
<text x="920.5" y="1961.2" font-size="20.1" text-anchor="end" fill="#4d4d4d">−0.8</text>
<path d="M942.4 1965V1984M946.6 1965V1984M960.4 1965V1984M969.2 1965V1984M981.7 1965V1984M992.1 1965V1984M998.6 1965V1984M1000.4 1965V1984M1011.3 1965V1984M1025.8 1965V1984M1034.4 1965V1984M1039 1965V1984M1064.9 1965V1984M1068.6 1965V1984M1106.5 1965V1984M1119.2 1965V1984M1134.2 1965V1984M1140.7 1965V1984M1146.9 1965V1984M1154.6 1965V1984M1189.2 1965V1984M1196.2 1965V1984M1217.4 1965V1984M1224.6 1965V1984M1228.5 1965V1984M1236.6 1965V1984M1240.1 1965V1984M1247 1965V1984M1251.6 1965V1984M1255.1 1965V1984M1257.4 1965V1984M1269 1965V1984M1271.3 1965V1984M1277.1 1965V1984M1280.5 1965V1984M1284 1965V1984M1287.5 1965V1984M1293.2 1965V1984M1295.6 1965V1984M1297.9 1965V1984" stroke="#1f5a8f" stroke-width="1.1" opacity="0.8"/>
<rect x="1300.3" y="1965" width="37" height="19" fill="#1f5a8f" opacity="0.96"/>
<path d="M1308.3 1965V1984M1321 1965V1984M1330.2 1965V1984" stroke="#5a86b4" stroke-width="0.8"/>
<rect x="931.2" y="1964.2" width="415.3" height="19.9" fill="none" stroke="#1c1c1c" stroke-width="2.2"/>
<text x="940" y="2009.3" font-size="20.1" text-anchor="middle" fill="#4d4d4d">0</text>
<text x="1083.3" y="2009.3" font-size="20.1" text-anchor="middle" fill="#4d4d4d">5000</text>
<text x="1226.8" y="2009.3" font-size="20.1" text-anchor="middle" fill="#4d4d4d">10000</text>
<path d="M924.2 1638.2H931.2M924.2 1701.4H931.2M924.2 1764.6H931.2M924.2 1827.8H931.2M924.2 1891H931.2M924.2 1954.2H931.2M940 1985.7v6M1083.3 1985.7v6M1226.8 1985.7v6" stroke="#2a2a2a" stroke-width="2.2" fill="none"/>
<text x="1125" y="2037.6" font-size="22" text-anchor="middle">Rank in Ordered Dataset</text>
<text transform="translate(868.8,1813.5) rotate(-90)" font-size="21.7" text-anchor="middle">Enrichment Score (ES)</text>
<text x="995.5" y="1674.4" font-size="24.4">4dpi</text>
<text x="1227.5" y="1674.4" font-size="24.4">−5dpi</text>
<text x="947" y="1905.9" font-size="23.9">Nom p−value: &lt;0.001</text>
<text x="948" y="1939.1" font-size="23.9">NES: -3.34</text>
</g>
</svg></body></html>
